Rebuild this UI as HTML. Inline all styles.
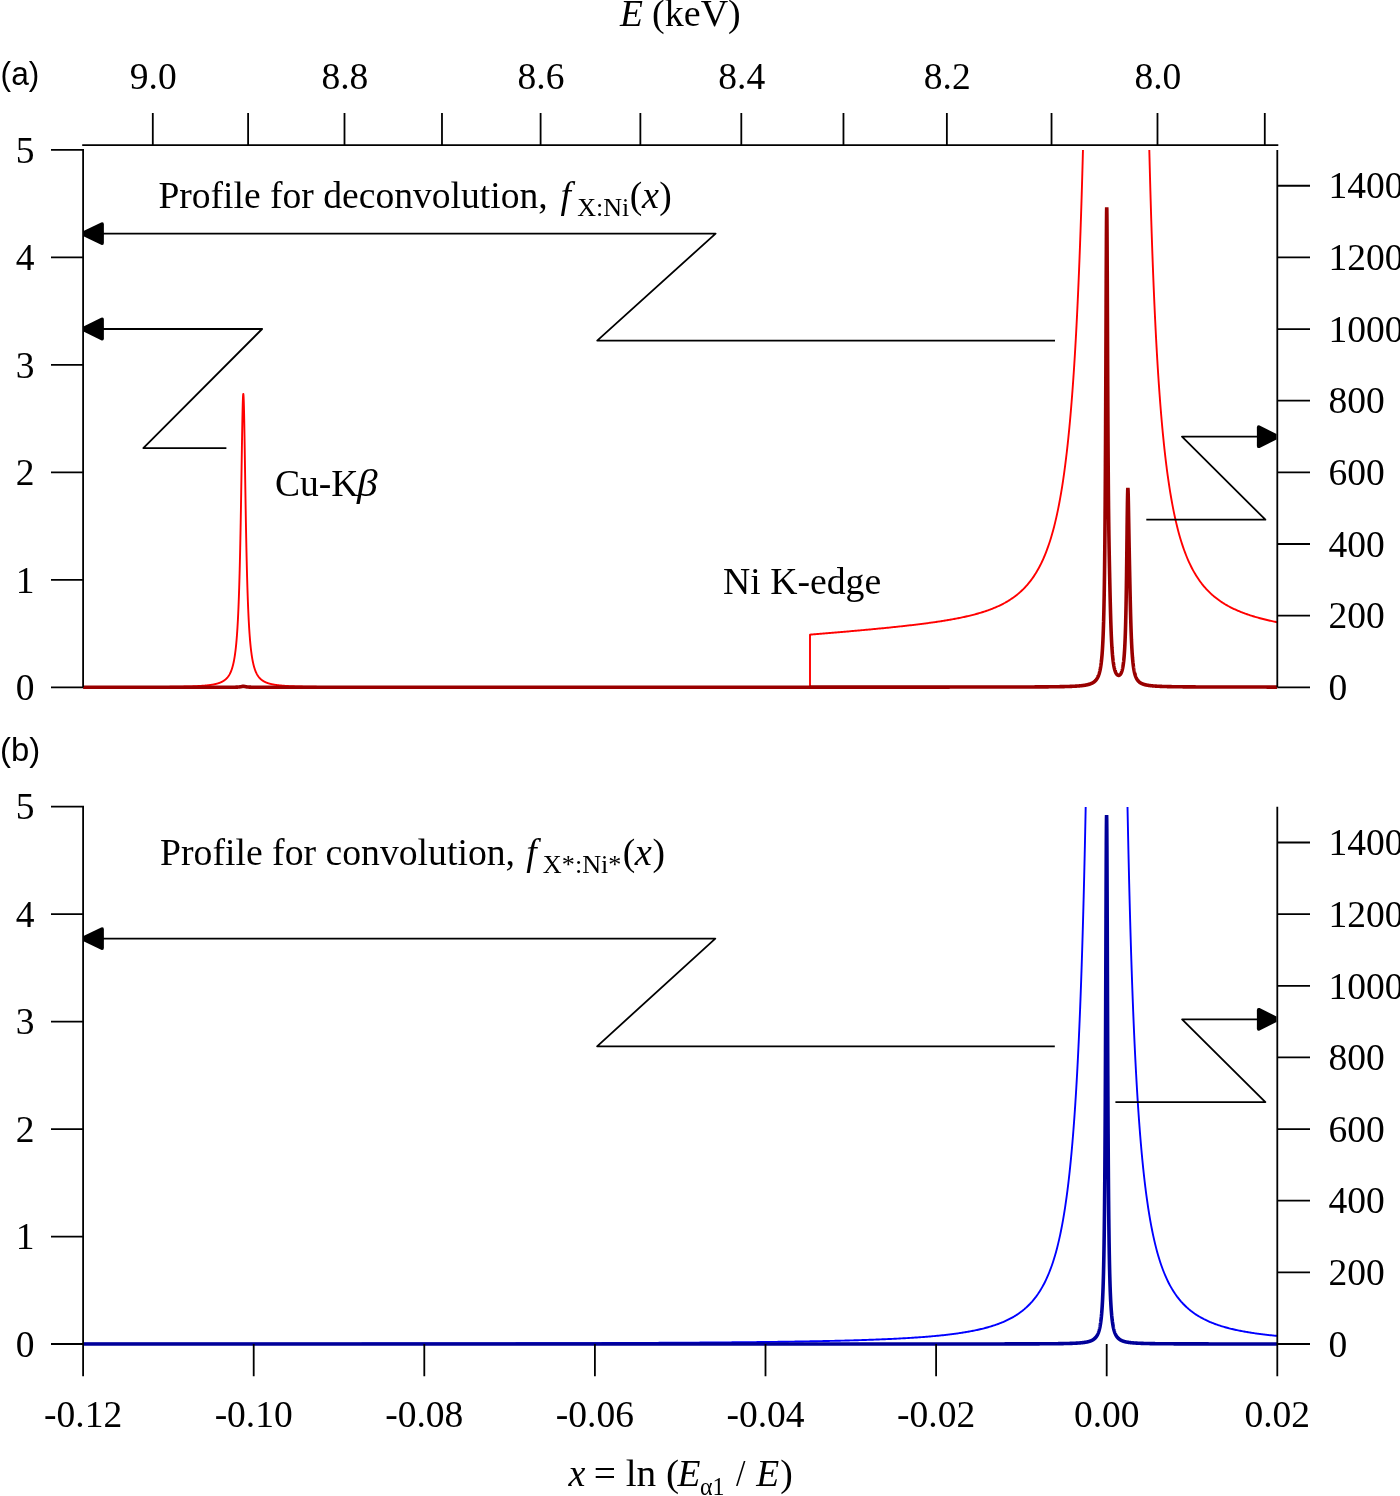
<!DOCTYPE html><html><head><meta charset="utf-8"><style>html,body{margin:0;padding:0;background:#fff;}svg{display:block;will-change:transform;}</style></head><body>
<svg width="1400" height="1496" viewBox="0 0 1400 1496">
<rect width="1400" height="1496" fill="#fff"/>
<defs><clipPath id="ca"><rect x="0" y="150.0" width="1400" height="600"/></clipPath><clipPath id="cb"><rect x="0" y="806.9" width="1400" height="600"/></clipPath></defs>
<g clip-path="url(#ca)"><polyline points="83.10,687.20 84.10,687.20 85.10,687.20 86.10,687.20 87.10,687.20 88.10,687.19 89.10,687.19 90.10,687.19 91.10,687.19 92.10,687.19 93.10,687.19 94.10,687.19 95.10,687.18 96.10,687.18 97.10,687.18 98.10,687.18 99.10,687.18 100.10,687.18 101.10,687.17 102.10,687.17 103.10,687.17 104.10,687.17 105.10,687.17 106.10,687.16 107.10,687.16 108.10,687.16 109.10,687.16 110.10,687.16 111.10,687.15 112.10,687.15 113.10,687.15 114.10,687.15 115.10,687.14 116.10,687.14 117.10,687.14 118.10,687.14 119.10,687.13 120.10,687.13 121.10,687.13 122.10,687.13 123.10,687.12 124.10,687.12 125.10,687.12 126.10,687.11 127.10,687.11 128.10,687.11 129.10,687.10 130.10,687.10 131.10,687.10 132.10,687.09 133.10,687.09 134.10,687.09 135.10,687.08 136.10,687.08 137.10,687.07 138.10,687.07 139.10,687.07 140.10,687.06 141.10,687.06 142.10,687.05 143.10,687.05 144.10,687.04 145.10,687.04 146.10,687.03 147.10,687.02 148.10,687.02 149.10,687.01 150.10,687.01 151.10,687.00 152.10,686.99 153.10,686.99 154.10,686.98 155.10,686.97 156.10,686.96 157.10,686.96 158.10,686.95 159.10,686.94 160.10,686.93 161.10,686.92 162.10,686.91 163.10,686.90 164.10,686.89 165.10,686.88 166.10,686.87 167.10,686.86 168.10,686.85 169.10,686.84 170.10,686.82 171.10,686.81 172.10,686.80 173.10,686.78 174.10,686.77 175.10,686.75 176.10,686.74 177.10,686.72 178.10,686.70 179.10,686.68 180.10,686.66 181.10,686.64 182.10,686.62 183.10,686.60 184.10,686.57 185.10,686.55 186.10,686.52 187.10,686.49 188.10,686.46 189.10,686.43 190.10,686.40 191.10,686.37 192.10,686.33 193.10,686.29 194.10,686.25 195.10,686.20 196.10,686.16 197.10,686.11 198.10,686.06 199.10,686.00 200.10,685.94 201.10,685.87 202.10,685.80 203.10,685.73 203.30,685.71 203.40,685.70 203.50,685.70 203.60,685.69 203.70,685.68 203.80,685.67 203.90,685.66 204.00,685.66 204.10,685.65 204.20,685.64 204.30,685.63 204.40,685.62 204.50,685.61 204.60,685.60 204.70,685.60 204.80,685.59 204.90,685.58 205.00,685.57 205.10,685.56 205.20,685.55 205.30,685.54 205.40,685.53 205.50,685.52 205.60,685.51 205.70,685.50 205.80,685.50 205.90,685.49 206.00,685.48 206.10,685.47 206.20,685.46 206.30,685.45 206.40,685.44 206.50,685.43 206.60,685.42 206.70,685.41 206.80,685.40 206.90,685.39 207.00,685.37 207.10,685.36 207.20,685.35 207.30,685.34 207.40,685.33 207.50,685.32 207.60,685.31 207.70,685.30 207.80,685.29 207.90,685.28 208.00,685.27 208.10,685.25 208.20,685.24 208.30,685.23 208.40,685.22 208.50,685.21 208.60,685.19 208.70,685.18 208.80,685.17 208.90,685.16 209.00,685.15 209.10,685.13 209.20,685.12 209.30,685.11 209.40,685.09 209.50,685.08 209.60,685.07 209.70,685.06 209.80,685.04 209.90,685.03 210.00,685.02 210.10,685.00 210.20,684.99 210.30,684.97 210.40,684.96 210.50,684.95 210.60,684.93 210.70,684.92 210.80,684.90 210.90,684.89 211.00,684.87 211.10,684.86 211.20,684.84 211.30,684.83 211.40,684.81 211.50,684.80 211.60,684.78 211.70,684.76 211.80,684.75 211.90,684.73 212.00,684.72 212.10,684.70 212.20,684.68 212.30,684.67 212.40,684.65 212.50,684.63 212.60,684.62 212.70,684.60 212.80,684.58 212.90,684.56 213.00,684.54 213.10,684.53 213.20,684.51 213.30,684.49 213.40,684.47 213.50,684.45 213.60,684.43 213.70,684.41 213.80,684.39 213.90,684.38 214.00,684.36 214.10,684.34 214.20,684.32 214.30,684.29 214.40,684.27 214.50,684.25 214.60,684.23 214.70,684.21 214.80,684.19 214.90,684.17 215.00,684.15 215.10,684.12 215.20,684.10 215.30,684.08 215.40,684.06 215.50,684.03 215.60,684.01 215.70,683.99 215.80,683.96 215.90,683.94 216.00,683.91 216.10,683.89 216.20,683.86 216.30,683.84 216.40,683.81 216.50,683.79 216.60,683.76 216.70,683.73 216.80,683.71 216.90,683.68 217.00,683.65 217.10,683.63 217.20,683.60 217.30,683.57 217.40,683.54 217.50,683.51 217.60,683.48 217.70,683.45 217.80,683.42 217.90,683.39 218.00,683.36 218.10,683.33 218.20,683.30 218.30,683.27 218.40,683.24 218.50,683.21 218.60,683.17 218.70,683.14 218.80,683.11 218.90,683.07 219.00,683.04 219.10,683.00 219.20,682.97 219.30,682.93 219.40,682.90 219.50,682.86 219.60,682.82 219.70,682.79 219.80,682.75 219.90,682.71 220.00,682.67 220.10,682.63 220.20,682.59 220.30,682.55 220.40,682.51 220.50,682.47 220.60,682.43 220.70,682.38 220.80,682.34 220.90,682.30 221.00,682.25 221.10,682.21 221.20,682.16 221.30,682.12 221.40,682.07 221.50,682.02 221.60,681.98 221.70,681.93 221.80,681.88 221.90,681.83 222.00,681.78 222.10,681.73 222.20,681.67 222.30,681.62 222.40,681.57 222.50,681.51 222.60,681.46 222.70,681.40 222.80,681.35 222.90,681.29 223.00,681.23 223.10,681.17 223.20,681.11 223.30,681.05 223.40,680.99 223.50,680.93 223.60,680.86 223.70,680.80 223.80,680.73 223.90,680.67 224.00,680.60 224.10,680.53 224.20,680.46 224.30,680.39 224.40,680.32 224.50,680.25 224.60,680.18 224.70,680.10 224.80,680.02 224.90,679.95 225.00,679.87 225.10,679.79 225.20,679.71 225.30,679.63 225.40,679.54 225.50,679.46 225.60,679.37 225.70,679.28 225.80,679.19 225.90,679.10 226.00,679.01 226.10,678.92 226.20,678.82 226.30,678.72 226.40,678.62 226.50,678.52 226.60,678.42 226.70,678.32 226.80,678.21 226.90,678.10 227.00,677.99 227.10,677.88 227.20,677.77 227.30,677.65 227.40,677.54 227.50,677.42 227.60,677.29 227.70,677.17 227.80,677.04 227.90,676.91 228.00,676.78 228.10,676.65 228.20,676.51 228.30,676.37 228.40,676.23 228.50,676.09 228.60,675.94 228.70,675.79 228.80,675.64 228.90,675.48 229.00,675.32 229.10,675.16 229.20,674.99 229.30,674.83 229.40,674.65 229.50,674.48 229.60,674.30 229.70,674.11 229.80,673.93 229.90,673.74 230.00,673.54 230.10,673.34 230.20,673.14 230.30,672.93 230.40,672.72 230.50,672.50 230.60,672.28 230.70,672.05 230.80,671.82 230.90,671.58 231.00,671.34 231.10,671.09 231.20,670.84 231.30,670.58 231.40,670.31 231.50,670.04 231.60,669.76 231.70,669.48 231.80,669.18 231.90,668.88 232.00,668.58 232.10,668.26 232.20,667.94 232.30,667.61 232.40,667.27 232.50,666.93 232.60,666.57 232.70,666.21 232.80,665.83 232.90,665.45 233.00,665.06 233.10,664.65 233.20,664.24 233.30,663.81 233.40,663.37 233.50,662.92 233.60,662.46 233.70,661.98 233.80,661.49 233.90,660.99 234.00,660.48 234.10,659.94 234.20,659.40 234.30,658.83 234.40,658.25 234.50,657.66 234.60,657.04 234.70,656.41 234.80,655.76 234.90,655.08 235.00,654.39 235.10,653.68 235.20,652.94 235.30,652.18 235.40,651.39 235.50,650.58 235.60,649.74 235.70,648.88 235.80,647.99 235.90,647.06 236.00,646.11 236.10,645.12 236.20,644.10 236.30,643.05 236.40,641.95 236.50,640.82 236.60,639.65 236.70,638.44 236.80,637.18 236.90,635.88 237.00,634.53 237.10,633.13 237.20,631.68 237.30,630.18 237.40,628.62 237.50,626.99 237.60,625.31 237.70,623.56 237.80,621.75 237.90,619.86 238.00,617.90 238.10,615.86 238.20,613.74 238.30,611.53 238.40,609.24 238.50,606.86 238.60,604.37 238.70,601.79 238.80,599.10 238.90,596.31 239.00,593.40 239.10,590.37 239.20,587.21 239.30,583.93 239.40,580.52 239.50,576.96 239.60,573.27 239.70,569.42 239.80,565.43 239.90,561.28 240.00,556.97 240.10,552.50 240.20,547.86 240.30,543.06 240.40,538.08 240.50,532.94 240.60,527.63 240.70,522.16 240.80,516.53 240.90,510.74 241.00,504.81 241.10,498.75 241.20,492.56 241.30,486.28 241.40,479.91 241.50,473.48 241.60,467.03 241.70,460.57 241.80,454.16 241.90,447.82 242.00,441.59 242.10,435.54 242.20,429.70 242.30,424.12 242.40,418.86 242.50,413.98 242.60,409.52 242.70,405.54 242.80,402.07 242.90,399.18 243.00,396.88 243.10,395.22 243.20,394.22 243.30,393.88 243.40,394.22 243.50,395.22 243.60,396.88 243.70,399.18 243.80,402.07 243.90,405.54 244.00,409.52 244.10,413.98 244.20,418.86 244.30,424.12 244.40,429.70 244.50,435.54 244.60,441.59 244.70,447.82 244.80,454.16 244.90,460.57 245.00,467.03 245.10,473.48 245.20,479.91 245.30,486.28 245.40,492.56 245.50,498.75 245.60,504.81 245.70,510.74 245.80,516.53 245.90,522.16 246.00,527.63 246.10,532.94 246.20,538.08 246.30,543.06 246.40,547.86 246.50,552.50 246.60,556.97 246.70,561.28 246.80,565.43 246.90,569.42 247.00,573.27 247.10,576.96 247.20,580.52 247.30,583.93 247.40,587.21 247.50,590.37 247.60,593.40 247.70,596.31 247.80,599.10 247.90,601.79 248.00,604.37 248.10,606.86 248.20,609.24 248.30,611.53 248.40,613.74 248.50,615.86 248.60,617.90 248.70,619.86 248.80,621.75 248.90,623.56 249.00,625.31 249.10,626.99 249.20,628.62 249.30,630.18 249.40,631.68 249.50,633.13 249.60,634.53 249.70,635.88 249.80,637.18 249.90,638.44 250.00,639.65 250.10,640.82 250.20,641.95 250.30,643.05 250.40,644.10 250.50,645.12 250.60,646.11 250.70,647.06 250.80,647.99 250.90,648.88 251.00,649.74 251.10,650.58 251.20,651.39 251.30,652.18 251.40,652.94 251.50,653.68 251.60,654.39 251.70,655.08 251.80,655.76 251.90,656.41 252.00,657.04 252.10,657.66 252.20,658.25 252.30,658.83 252.40,659.40 252.50,659.94 252.60,660.48 252.70,660.99 252.80,661.49 252.90,661.98 253.00,662.46 253.10,662.92 253.20,663.37 253.30,663.81 253.40,664.24 253.50,664.65 253.60,665.06 253.70,665.45 253.80,665.83 253.90,666.21 254.00,666.57 254.10,666.93 254.20,667.27 254.30,667.61 254.40,667.94 254.50,668.26 254.60,668.58 254.70,668.88 254.80,669.18 254.90,669.48 255.00,669.76 255.10,670.04 255.20,670.31 255.30,670.58 255.40,670.84 255.50,671.09 255.60,671.34 255.70,671.58 255.80,671.82 255.90,672.05 256.00,672.28 256.10,672.50 256.20,672.72 256.30,672.93 256.40,673.14 256.50,673.34 256.60,673.54 256.70,673.74 256.80,673.93 256.90,674.11 257.00,674.30 257.10,674.48 257.20,674.65 257.30,674.83 257.40,674.99 257.50,675.16 257.60,675.32 257.70,675.48 257.80,675.64 257.90,675.79 258.00,675.94 258.10,676.09 258.20,676.23 258.30,676.37 258.40,676.51 258.50,676.65 258.60,676.78 258.70,676.91 258.80,677.04 258.90,677.17 259.00,677.29 259.10,677.42 259.20,677.54 259.30,677.65 259.40,677.77 259.50,677.88 259.60,677.99 259.70,678.10 259.80,678.21 259.90,678.32 260.00,678.42 260.10,678.52 260.20,678.62 260.30,678.72 260.40,678.82 260.50,678.92 260.60,679.01 260.70,679.10 260.80,679.19 260.90,679.28 261.00,679.37 261.10,679.46 261.20,679.54 261.30,679.63 261.40,679.71 261.50,679.79 261.60,679.87 261.70,679.95 261.80,680.02 261.90,680.10 262.00,680.18 262.10,680.25 262.20,680.32 262.30,680.39 262.40,680.46 262.50,680.53 262.60,680.60 262.70,680.67 262.80,680.73 262.90,680.80 263.00,680.86 263.10,680.93 263.20,680.99 263.30,681.05 263.40,681.11 263.50,681.17 263.60,681.23 263.70,681.29 263.80,681.35 263.90,681.40 264.00,681.46 264.10,681.51 264.20,681.57 264.30,681.62 264.40,681.67 264.50,681.73 264.60,681.78 264.70,681.83 264.80,681.88 264.90,681.93 265.00,681.98 265.10,682.02 265.20,682.07 265.30,682.12 265.40,682.16 265.50,682.21 265.60,682.25 265.70,682.30 265.80,682.34 265.90,682.38 266.00,682.43 266.10,682.47 266.20,682.51 266.30,682.55 266.40,682.59 266.50,682.63 266.60,682.67 266.70,682.71 266.80,682.75 266.90,682.79 267.00,682.82 267.10,682.86 267.20,682.90 267.30,682.93 267.40,682.97 267.50,683.00 267.60,683.04 267.70,683.07 267.80,683.11 267.90,683.14 268.00,683.17 268.10,683.21 268.20,683.24 268.30,683.27 268.40,683.30 268.50,683.33 268.60,683.36 268.70,683.39 268.80,683.42 268.90,683.45 269.00,683.48 269.10,683.51 269.20,683.54 269.30,683.57 269.40,683.60 269.50,683.63 269.60,683.65 269.70,683.68 269.80,683.71 269.90,683.73 270.00,683.76 270.10,683.79 270.20,683.81 270.30,683.84 270.40,683.86 270.50,683.89 270.60,683.91 270.70,683.94 270.80,683.96 270.90,683.99 271.00,684.01 271.10,684.03 271.20,684.06 271.30,684.08 271.40,684.10 271.50,684.12 271.60,684.15 271.70,684.17 271.80,684.19 271.90,684.21 272.00,684.23 272.10,684.25 272.20,684.27 272.30,684.29 272.40,684.32 272.50,684.34 272.60,684.36 272.70,684.38 272.80,684.39 272.90,684.41 273.00,684.43 273.10,684.45 273.20,684.47 273.30,684.49 273.40,684.51 273.50,684.53 273.60,684.54 273.70,684.56 273.80,684.58 273.90,684.60 274.00,684.62 274.10,684.63 274.20,684.65 274.30,684.67 274.40,684.68 274.50,684.70 274.60,684.72 274.70,684.73 274.80,684.75 274.90,684.76 275.00,684.78 275.10,684.80 275.20,684.81 275.30,684.83 275.40,684.84 275.50,684.86 275.60,684.87 275.70,684.89 275.80,684.90 275.90,684.92 276.00,684.93 276.10,684.95 276.20,684.96 276.30,684.97 276.40,684.99 276.50,685.00 276.60,685.02 276.70,685.03 276.80,685.04 276.90,685.06 277.00,685.07 277.10,685.08 277.20,685.09 277.30,685.11 277.40,685.12 277.50,685.13 277.60,685.15 277.70,685.16 277.80,685.17 277.90,685.18 278.00,685.19 278.10,685.21 278.20,685.22 278.30,685.23 278.40,685.24 278.50,685.25 278.60,685.27 278.70,685.28 278.80,685.29 278.90,685.30 279.00,685.31 279.10,685.32 279.20,685.33 279.30,685.34 279.40,685.35 279.50,685.36 279.60,685.37 279.70,685.39 279.80,685.40 279.90,685.41 280.00,685.42 280.10,685.43 280.20,685.44 280.30,685.45 280.40,685.46 280.50,685.47 280.60,685.48 280.70,685.49 280.80,685.50 280.90,685.50 281.00,685.51 281.10,685.52 281.20,685.53 281.30,685.54 281.40,685.55 281.50,685.56 281.60,685.57 281.70,685.58 281.80,685.59 281.90,685.60 282.00,685.60 282.10,685.61 282.20,685.62 282.30,685.63 282.40,685.64 282.50,685.65 282.60,685.66 282.70,685.66 282.80,685.67 282.90,685.68 283.00,685.69 283.10,685.70 283.20,685.70 284.10,685.77 285.10,685.85 286.10,685.91 287.10,685.97 288.10,686.03 289.10,686.09 290.10,686.14 291.10,686.19 292.10,686.23 293.10,686.27 294.10,686.31 295.10,686.35 296.10,686.39 297.10,686.42 298.10,686.45 299.10,686.48 300.10,686.51 301.10,686.54 302.10,686.56 303.10,686.59 304.10,686.61 305.10,686.63 306.10,686.65 307.10,686.67 308.10,686.69 309.10,686.71 310.10,686.73 311.10,686.75 312.10,686.76 313.10,686.78 314.10,686.79 315.10,686.81 316.10,686.82 317.10,686.83 318.10,686.84 319.10,686.86 320.10,686.87 321.10,686.88 322.10,686.89 323.10,686.90 324.10,686.91 325.10,686.92 326.10,686.93 327.10,686.94 328.10,686.95 329.10,686.95 330.10,686.96 331.10,686.97 332.10,686.98 333.10,686.98 334.10,686.99 335.10,687.00 336.10,687.00 337.10,687.01 338.10,687.02 339.10,687.02 340.10,687.03 341.10,687.03 342.10,687.04 343.10,687.04 344.10,687.05 345.10,687.05 346.10,687.06 347.10,687.06 348.10,687.07 349.10,687.07 350.10,687.08 351.10,687.08 352.10,687.08 353.10,687.09 354.10,687.09 355.10,687.10 356.10,687.10 357.10,687.10 358.10,687.11 359.10,687.11 360.10,687.11 361.10,687.12 362.10,687.12 363.10,687.12 364.10,687.13 365.10,687.13 366.10,687.13 367.10,687.13 368.10,687.14 369.10,687.14 370.10,687.14 371.10,687.14 372.10,687.15 373.10,687.15 374.10,687.15 375.10,687.15 376.10,687.16 377.10,687.16 378.10,687.16 379.10,687.16 380.10,687.16 381.10,687.17 382.10,687.17 383.10,687.17 384.10,687.17 385.10,687.17 386.10,687.17 387.10,687.18 388.10,687.18 389.10,687.18 390.10,687.18 391.10,687.18 392.10,687.18 393.10,687.19 394.10,687.19 395.10,687.19 396.10,687.19 397.10,687.19 398.10,687.19 399.10,687.19 400.10,687.20 401.10,687.20 402.10,687.20 403.10,687.20 404.10,687.20 405.10,687.20 406.10,687.20 407.10,687.20 408.10,687.21 409.10,687.21 410.10,687.21 411.10,687.21 412.10,687.21 413.10,687.21 414.10,687.21 415.10,687.21 416.10,687.21 417.10,687.22 418.10,687.22 419.10,687.22 420.10,687.22 421.10,687.22 422.10,687.22 423.10,687.22 424.10,687.22 425.10,687.22 426.10,687.22 427.10,687.22 428.10,687.23 429.10,687.23 430.10,687.23 431.10,687.23 432.10,687.23 433.10,687.23 434.10,687.23 435.10,687.23 436.10,687.23 437.10,687.23 438.10,687.23 439.10,687.23 440.10,687.23 441.10,687.23 442.10,687.24 443.10,687.24 444.10,687.24 445.10,687.24 446.10,687.24 447.10,687.24 448.10,687.24 449.10,687.24 450.10,687.24 451.10,687.24 452.10,687.24 453.10,687.24 454.10,687.24 455.10,687.24 456.10,687.24 457.10,687.24 458.10,687.24 459.10,687.25 460.10,687.25 461.10,687.25 462.10,687.25 463.10,687.25 464.10,687.25 465.10,687.25 466.10,687.25 467.10,687.25 468.10,687.25 469.10,687.25 470.10,687.25 471.10,687.25 472.10,687.25 473.10,687.25 474.10,687.25 475.10,687.25 476.10,687.25 477.10,687.25 478.10,687.25 479.10,687.25 480.10,687.25 481.10,687.25 482.10,687.26 483.10,687.26 484.10,687.26 485.10,687.26 486.10,687.26 487.10,687.26 488.10,687.26 489.10,687.26 490.10,687.26 491.10,687.26 492.10,687.26 493.10,687.26 494.10,687.26 495.10,687.26 496.10,687.26 497.10,687.26 498.10,687.26 499.10,687.26 500.10,687.26 501.10,687.26 502.10,687.26 503.10,687.26 504.10,687.26 505.10,687.26 506.10,687.26 507.10,687.26 508.10,687.26 509.10,687.26 510.10,687.26 511.10,687.26 512.10,687.26 513.10,687.26 514.10,687.27 515.10,687.27 516.10,687.27 517.10,687.27 518.10,687.27 519.10,687.27 520.10,687.27 521.10,687.27 522.10,687.27 523.10,687.27 524.10,687.27 525.10,687.27 526.10,687.27 527.10,687.27 528.10,687.27 529.10,687.27 530.10,687.27 531.10,687.27 532.10,687.27 533.10,687.27 534.10,687.27 535.10,687.27 536.10,687.27 537.10,687.27 538.10,687.27 539.10,687.27 540.10,687.27 541.10,687.27 542.10,687.27 543.10,687.27 544.10,687.27 545.10,687.27 546.10,687.27 547.10,687.27 548.10,687.27 549.10,687.27 550.10,687.27 551.10,687.27 552.10,687.27 553.10,687.27 554.10,687.27 555.10,687.27 556.10,687.27 557.10,687.27 558.10,687.27 559.10,687.27 560.10,687.27 561.10,687.27 562.10,687.27 563.10,687.28 564.10,687.28 565.10,687.28 566.10,687.28 567.10,687.28 568.10,687.28 569.10,687.28 570.10,687.28 571.10,687.28 572.10,687.28 573.10,687.28 574.10,687.28 575.10,687.28 576.10,687.28 577.10,687.28 578.10,687.28 579.10,687.28 580.10,687.28 581.10,687.28 582.10,687.28 583.10,687.28 584.10,687.28 585.10,687.28 586.10,687.28 587.10,687.28 588.10,687.28 589.10,687.28 590.10,687.28 591.10,687.28 592.10,687.28 593.10,687.28 594.10,687.28 595.10,687.28 596.10,687.28 597.10,687.28 598.10,687.28 599.10,687.28 600.10,687.28 601.10,687.28 602.10,687.28 603.10,687.28 604.10,687.28 605.10,687.28 606.10,687.28 607.10,687.28 608.10,687.28 609.10,687.28 610.10,687.28 611.10,687.28 612.10,687.28 613.10,687.28 614.10,687.28 615.10,687.28 616.10,687.28 617.10,687.28 618.10,687.28 619.10,687.28 620.10,687.28 621.10,687.28 622.10,687.28 623.10,687.28 624.10,687.28 625.10,687.28 626.10,687.28 627.10,687.28 628.10,687.28 629.10,687.28 630.10,687.28 631.10,687.28 632.10,687.28 633.10,687.28 634.10,687.28 635.10,687.28 636.10,687.28 637.10,687.28 638.10,687.28 639.10,687.28 640.10,687.28 641.10,687.28 642.10,687.28 643.10,687.28 644.10,687.28 645.10,687.28 646.10,687.28 647.10,687.28 648.10,687.28 649.10,687.28 650.10,687.28 651.10,687.28 652.10,687.28 653.10,687.28 654.10,687.28 655.10,687.28 656.10,687.29 657.10,687.29 658.10,687.29 659.10,687.29 660.10,687.29 661.10,687.29 662.10,687.29 663.10,687.29 664.10,687.29 665.10,687.29 666.10,687.29 667.10,687.29 668.10,687.29 669.10,687.29 670.10,687.29 671.10,687.29 672.10,687.29 673.10,687.29 674.10,687.29 675.10,687.29 676.10,687.29 677.10,687.29 678.10,687.29 679.10,687.29 680.10,687.29 681.10,687.29 682.10,687.29 683.10,687.29 684.10,687.29 685.10,687.29 686.10,687.29 687.10,687.29 688.10,687.29 689.10,687.29 690.10,687.29 691.10,687.29 692.10,687.29 693.10,687.29 694.10,687.29 695.10,687.29 696.10,687.29 697.10,687.29 698.10,687.29 699.10,687.29 700.10,687.29 701.10,687.29 702.10,687.29 703.10,687.29 704.10,687.29 705.10,687.29 706.10,687.29 707.10,687.29 708.10,687.29 709.10,687.29 710.10,687.29 711.10,687.29 712.10,687.29 713.10,687.29 714.10,687.29 715.10,687.29 716.10,687.29 717.10,687.29 718.10,687.29 719.10,687.29 720.10,687.29 721.10,687.29 722.10,687.29 723.10,687.29 724.10,687.29 725.10,687.29 726.10,687.29 727.10,687.29 728.10,687.29 729.10,687.29 730.10,687.29 731.10,687.29 732.10,687.29 733.10,687.29 734.10,687.29 735.10,687.29 736.10,687.29 737.10,687.29 738.10,687.29 739.10,687.29 740.10,687.29 741.10,687.29 742.10,687.29 743.10,687.29 744.10,687.29 745.10,687.29 746.10,687.29 747.10,687.29 748.10,687.29 749.10,687.29 750.10,687.29 751.10,687.29 752.10,687.29 753.10,687.29 754.10,687.29 755.10,687.29 756.10,687.29 757.10,687.29 758.10,687.29 759.10,687.29 760.10,687.29 761.10,687.29 762.10,687.29 763.10,687.29 764.10,687.29 765.10,687.29 766.10,687.29 767.10,687.29 768.10,687.29 769.10,687.29 770.10,687.29 771.10,687.29 772.10,687.29 773.10,687.29 774.10,687.29 775.10,687.29 776.10,687.29 777.10,687.29 778.10,687.29 779.10,687.29 780.10,687.29 781.10,687.29 782.10,687.29 783.10,687.29 784.10,687.29 785.10,687.29 786.10,687.29 787.10,687.29 788.10,687.29 789.10,687.29 790.10,687.29 791.10,687.29 792.10,687.29 793.10,687.29 794.10,687.29 795.10,687.29 796.10,687.29 797.10,687.29 798.10,687.29 799.10,687.29 800.10,687.29 801.10,687.29 802.10,687.29 803.10,687.29 804.10,687.29 805.10,687.29 806.10,687.29 807.10,687.29 808.10,687.29 809.10,687.29 810.00,687.29 810.00,634.65 810.10,634.65 811.10,634.56 812.10,634.48 813.10,634.40 814.10,634.32 815.10,634.23 816.10,634.15 817.10,634.07 818.10,633.99 819.10,633.90 820.10,633.82 821.10,633.74 822.10,633.65 823.10,633.57 824.10,633.48 825.10,633.40 826.10,633.32 827.10,633.23 828.10,633.15 829.10,633.06 830.10,632.98 831.10,632.89 832.10,632.81 833.10,632.72 834.10,632.64 835.10,632.55 836.10,632.47 837.10,632.38 838.10,632.30 839.10,632.21 840.10,632.12 841.10,632.04 842.10,631.95 843.10,631.86 844.10,631.78 845.10,631.69 846.10,631.60 847.10,631.51 848.10,631.43 849.10,631.34 850.10,631.25 851.10,631.16 852.10,631.07 853.10,630.98 854.10,630.90 855.10,630.81 856.10,630.72 857.10,630.63 858.10,630.54 859.10,630.45 860.10,630.36 861.10,630.26 862.10,630.17 863.10,630.08 864.10,629.99 865.10,629.90 866.10,629.81 867.10,629.71 868.10,629.62 869.10,629.53 870.10,629.43 871.10,629.34 872.10,629.24 873.10,629.15 874.10,629.05 875.10,628.96 876.10,628.86 877.10,628.77 878.10,628.67 879.10,628.57 880.10,628.48 881.10,628.38 882.10,628.28 883.10,628.18 884.10,628.08 885.10,627.98 886.10,627.88 887.10,627.78 888.10,627.68 889.10,627.58 890.10,627.48 891.10,627.38 892.10,627.27 893.10,627.17 894.10,627.07 895.10,626.96 896.10,626.86 897.10,626.75 898.10,626.64 899.10,626.54 900.10,626.43 901.10,626.32 902.10,626.21 903.10,626.10 904.10,625.99 905.10,625.88 906.10,625.77 907.10,625.65 908.10,625.54 909.10,625.43 910.10,625.31 911.10,625.19 912.10,625.08 913.10,624.96 914.10,624.84 915.10,624.72 916.10,624.60 917.10,624.48 918.10,624.36 919.10,624.23 920.10,624.11 921.10,623.98 922.10,623.86 923.10,623.73 924.10,623.60 925.10,623.47 926.10,623.34 927.10,623.20 928.10,623.07 929.10,622.93 930.10,622.80 931.10,622.66 932.10,622.52 933.10,622.38 934.10,622.23 935.10,622.09 936.10,621.94 937.10,621.80 938.10,621.65 939.10,621.49 940.10,621.34 941.10,621.19 942.10,621.03 943.10,620.87 944.10,620.71 945.10,620.55 946.10,620.38 947.10,620.21 948.10,620.05 949.10,619.87 950.10,619.70 951.10,619.52 952.10,619.34 953.10,619.16 954.10,618.98 955.10,618.79 956.10,618.60 957.10,618.40 958.10,618.21 959.10,618.01 960.10,617.81 961.10,617.60 962.10,617.39 963.10,617.18 964.10,616.96 965.10,616.74 966.10,616.52 967.10,616.29 968.10,616.06 969.10,615.82 970.10,615.58 971.10,615.33 972.10,615.08 973.10,614.83 974.10,614.57 975.10,614.30 976.10,614.03 977.10,613.75 978.10,613.47 979.10,613.18 980.10,612.89 981.10,612.59 982.10,612.28 983.10,611.97 984.10,611.65 985.10,611.32 986.10,610.98 987.10,610.64 988.10,610.29 989.10,609.93 990.10,609.56 991.10,609.18 992.10,608.79 993.10,608.40 994.10,607.99 995.10,607.57 996.10,607.14 997.10,606.70 998.10,606.25 999.10,605.79 1000.10,605.31 1001.10,604.82 1002.10,604.32 1003.10,603.80 1004.10,603.27 1005.10,602.73 1006.10,602.16 1007.10,601.58 1008.10,600.99 1009.10,600.37 1010.10,599.74 1011.10,599.08 1012.10,598.41 1013.10,597.71 1014.10,596.99 1015.10,596.25 1016.10,595.48 1017.10,594.69 1018.10,593.87 1019.10,593.03 1020.10,592.15 1021.10,591.24 1022.10,590.30 1023.10,589.33 1024.10,588.32 1025.10,587.28 1026.10,586.19 1027.10,585.07 1028.10,583.90 1029.10,582.69 1030.10,581.43 1031.10,580.11 1032.10,578.75 1033.10,577.33 1034.10,575.85 1035.10,574.31 1036.10,572.71 1037.10,571.03 1038.10,569.28 1039.10,567.46 1040.10,565.55 1041.10,563.55 1042.10,561.47 1043.10,559.28 1044.10,557.00 1045.10,554.60 1046.10,552.08 1047.10,549.44 1048.10,546.66 1049.10,543.74 1050.10,540.67 1051.10,537.44 1052.10,534.03 1053.10,530.43 1054.10,526.64 1055.10,522.62 1056.10,518.37 1057.10,513.88 1058.10,509.11 1059.10,504.04 1060.10,498.66 1061.10,492.94 1062.10,486.84 1063.10,480.33 1064.10,473.38 1065.10,465.94 1066.10,457.98 1066.72,452.75 1066.82,451.88 1066.92,451.01 1067.02,450.13 1067.10,449.42 1067.12,449.25 1067.22,448.36 1067.32,447.46 1067.42,446.55 1067.52,445.64 1067.62,444.73 1067.72,443.80 1067.82,442.87 1067.92,441.94 1068.02,440.99 1068.10,440.23 1068.12,440.04 1068.22,439.08 1068.32,438.11 1068.42,437.14 1068.52,436.16 1068.62,435.17 1068.72,434.18 1068.82,433.18 1068.92,432.17 1069.02,431.15 1069.10,430.33 1069.12,430.12 1069.22,429.09 1069.32,428.05 1069.42,427.00 1069.52,425.94 1069.62,424.88 1069.72,423.80 1069.82,422.72 1069.92,421.63 1070.02,420.53 1070.10,419.64 1070.12,419.42 1070.22,418.31 1070.32,417.18 1070.42,416.05 1070.52,414.90 1070.62,413.75 1070.72,412.59 1070.82,411.42 1070.92,410.24 1071.02,409.05 1071.10,408.09 1071.12,407.85 1071.22,406.64 1071.32,405.42 1071.42,404.20 1071.52,402.96 1071.62,401.71 1071.72,400.45 1071.82,399.18 1071.92,397.90 1072.02,396.61 1072.10,395.57 1072.12,395.31 1072.22,394.00 1072.32,392.68 1072.42,391.35 1072.52,390.00 1072.62,388.65 1072.72,387.28 1072.82,385.90 1072.92,384.51 1073.02,383.11 1073.10,381.98 1073.12,381.70 1073.22,380.27 1073.32,378.84 1073.42,377.39 1073.52,375.92 1073.62,374.45 1073.72,372.96 1073.82,371.46 1073.92,369.95 1074.02,368.42 1074.10,367.19 1074.12,366.88 1074.22,365.32 1074.32,363.76 1074.42,362.17 1074.52,360.58 1074.62,358.97 1074.72,357.35 1074.82,355.71 1074.92,354.05 1075.02,352.39 1075.10,351.04 1075.12,350.70 1075.22,349.00 1075.32,347.29 1075.42,345.56 1075.52,343.82 1075.62,342.05 1075.72,340.28 1075.82,338.48 1075.92,336.67 1076.02,334.85 1076.10,333.37 1076.12,333.00 1076.22,331.14 1076.32,329.26 1076.42,327.36 1076.52,325.45 1076.62,323.52 1076.72,321.57 1076.82,319.60 1076.92,317.61 1077.02,315.60 1077.10,313.98 1077.12,313.57 1077.22,311.53 1077.32,309.46 1077.42,307.38 1077.52,305.27 1077.62,303.14 1077.72,300.99 1077.82,298.82 1077.92,296.63 1078.02,294.42 1078.10,292.64 1078.12,292.19 1078.22,289.93 1078.32,287.65 1078.42,285.35 1078.52,283.02 1078.62,280.67 1078.72,278.30 1078.82,275.90 1078.92,273.48 1079.02,271.04 1079.10,269.06 1079.12,268.56 1079.22,266.07 1079.32,263.54 1079.42,260.99 1079.52,258.42 1079.62,255.81 1079.72,253.18 1079.82,250.52 1079.92,247.84 1080.02,245.12 1080.10,242.93 1080.12,242.38 1080.22,239.60 1080.32,236.80 1080.42,233.96 1080.52,231.10 1080.62,228.20 1080.72,225.27 1080.82,222.31 1080.92,219.32 1081.02,216.29 1081.10,213.85 1081.12,213.23 1081.22,210.14 1081.32,207.01 1081.42,203.85 1081.52,200.65 1081.62,197.41 1081.72,194.14 1081.82,190.83 1081.92,187.48 1082.02,184.09 1082.10,181.36 1082.12,180.67 1082.22,177.20 1082.32,173.70 1082.42,170.15 1082.52,166.56 1082.62,162.93 1082.72,159.26 1082.82,155.54 1082.92,151.77 1083.02,147.97 1083.10,144.89 1083.12,144.11 1083.22,140.21 1083.32,136.27 1083.42,132.27 1083.52,128.22 1083.62,124.13 1083.72,119.98 1083.82,115.79 1083.92,111.54 1084.02,107.23 1084.10,103.75 1084.12,102.88 1084.22,98.46 1084.32,94.00 1084.42,89.47 1084.52,84.89 1084.62,80.25 1084.72,75.54 1084.82,70.78 1084.92,65.95 1085.02,61.06 1085.10,57.11 1085.12,56.11 1085.22,51.09 1085.32,46.00 1085.42,40.85 1085.52,35.63 1085.62,30.33 1085.72,24.97 1085.82,19.53 1085.92,14.01 1086.02,8.43 1086.10,3.90 1086.12,2.76 1086.22,-2.99 1086.32,-8.81 1086.42,-14.72 1086.52,-20.71 1086.62,-26.79 1086.72,-32.95 1086.82,-39.20 1086.92,-45.54 1087.02,-51.97 1087.10,-57.18 1087.12,-58.50 1087.22,-65.12 1087.32,-71.84 1087.42,-78.65 1087.52,-85.57 1087.62,-92.60 1087.72,-99.72 1087.82,-106.96 1087.90,-112.83 1087.92,-114.30 1088.00,-120.26 1088.02,-121.76 1088.10,-127.81 1088.12,-129.33 1088.20,-135.47 1088.22,-137.02 1088.30,-143.26 1088.32,-144.83 1088.40,-151.16 1088.42,-152.76 1088.50,-159.19 1088.52,-160.81 1088.60,-167.34 1088.62,-168.99 1088.70,-175.63 1088.72,-177.30 1088.80,-184.04 1088.82,-185.74 1088.90,-192.59 1088.92,-194.32 1089.00,-201.28 1089.02,-203.03 1089.10,-210.11 1089.12,-211.89 1089.20,-219.08 1089.22,-220.89 1089.30,-228.20 1089.32,-230.04 1089.40,-237.47 1089.42,-239.34 1089.50,-246.89 1089.52,-248.80 1089.60,-256.47 1089.62,-258.41 1089.70,-266.21 1089.72,-268.18 1089.80,-276.12 1089.82,-278.12 1089.90,-286.19 1089.92,-288.23 1090.00,-296.44 1090.02,-298.51 1090.10,-306.86 1090.12,-308.96 1090.20,-317.46 1090.22,-319.60 1090.30,-328.25 1090.32,-330.43 1090.40,-339.22 1090.42,-341.44 1090.50,-350.39 1090.52,-352.65 1090.60,-361.76 1090.62,-364.05 1090.70,-373.32 1090.72,-375.66 1090.80,-385.10 1090.82,-387.48 1090.90,-397.09 1090.92,-399.51 1091.00,-409.29 1091.02,-411.76 1091.10,-421.72 1091.12,-424.24 1091.20,-434.38 1091.22,-436.94 1091.30,-447.28 1091.32,-449.88 1091.40,-460.41 1091.42,-463.07 1091.50,-473.79 1091.52,-476.50 1091.60,-487.42 1091.62,-490.18 1091.70,-501.31 1091.72,-504.12 1091.80,-515.47 1091.82,-518.34 1091.90,-529.90 1091.92,-532.82 1092.00,-544.62 1092.02,-547.59 1092.10,-559.62 1092.12,-562.65 1092.20,-574.91 1092.22,-578.00 1092.30,-590.51 1092.32,-593.66 1092.40,-606.42 1092.42,-609.64 1092.50,-622.65 1092.52,-625.93 1092.60,-639.20 1092.62,-642.55 1092.70,-656.10 1092.72,-659.52 1092.80,-673.34 1092.82,-676.83 1092.90,-690.94 1092.92,-694.50 1093.00,-708.90 1093.02,-712.54 1093.10,-727.25 1093.12,-730.96 1093.20,-745.98 1093.22,-749.77 1093.30,-765.11 1093.32,-768.98 1093.40,-784.65 1093.42,-788.61 1093.50,-804.61 1093.52,-808.65 1093.60,-825.01 1093.62,-829.14 1093.70,-845.85 1093.72,-850.08 1093.80,-867.16 1093.82,-871.48 1093.90,-888.94 1093.92,-893.36 1094.00,-911.22 1094.02,-915.73 1094.10,-933.99 1094.12,-938.61 1094.20,-957.29 1094.22,-962.01 1094.30,-981.13 1094.32,-985.96 1094.40,-1005.51 1094.42,-1010.46 1094.50,-1030.47 1094.52,-1035.53 1094.60,-1056.02 1094.62,-1061.20 1094.70,-1082.17 1094.72,-1087.48 1094.80,-1108.95 1094.82,-1114.39 1094.90,-1136.38 1094.92,-1141.95 1095.00,-1164.48 1095.02,-1170.18 1095.10,-1193.27 1095.12,-1199.12 1095.20,-1222.78 1095.22,-1228.77 1095.30,-1253.02 1095.32,-1259.16 1095.40,-1284.03 1095.42,-1290.32 1095.50,-1315.83 1095.52,-1322.28 1095.60,-1348.44 1095.62,-1355.07 1095.70,-1381.90 1095.72,-1388.70 1095.80,-1416.24 1095.82,-1423.22 1095.90,-1451.48 1095.92,-1458.64 1096.00,-1487.67 1096.02,-1495.02 1096.10,-1524.82 1096.12,-1532.38 1096.20,-1562.99 1096.22,-1570.75 1096.30,-1602.20 1096.32,-1610.17 1096.40,-1642.50 1096.42,-1650.69 1096.50,-1683.93 1096.52,-1692.35 1096.60,-1726.52 1096.62,-1735.18 1096.70,-1770.33 1096.72,-1779.24 1096.80,-1815.39 1096.82,-1824.56 1096.90,-1861.77 1096.92,-1871.21 1097.00,-1909.51 1097.02,-1919.23 1097.10,-1958.67 1097.12,-1968.67 1097.20,-2009.30 1097.22,-2019.60 1097.30,-2061.46 1097.32,-2072.08 1097.40,-2115.22 1097.42,-2126.17 1097.50,-2170.64 1097.52,-2181.93 1097.60,-2227.79 1097.62,-2239.43 1097.70,-2286.75 1097.72,-2298.76 1097.80,-2347.59 1097.82,-2359.99 1097.90,-2410.40 1097.92,-2423.20 1098.00,-2475.25 1098.02,-2488.48 1098.10,-2542.25 1098.12,-2555.92 1098.20,-2611.49 1098.22,-2625.61 1098.30,-2683.06 1098.32,-2697.67 1098.40,-2757.08 1098.42,-2772.19 1098.50,-2833.66 1098.52,-2849.30 1098.60,-2912.92 1098.62,-2929.11 1098.70,-2994.99 1098.72,-3011.75 1098.80,-3079.99 1098.82,-3097.36 1098.90,-3168.08 1098.92,-3186.09 1099.00,-3259.41 1099.02,-3278.08 1099.10,-3354.13 1099.12,-3373.50 1099.20,-3452.42 1099.22,-3472.52 1099.30,-3554.46 1099.32,-3575.34 1099.40,-3660.44 1099.42,-3682.13 1099.50,-3770.58 1099.52,-3793.12 1099.60,-3885.08 1099.62,-3908.52 1099.70,-4004.18 1099.72,-4028.58 1099.80,-4128.14 1099.82,-4153.54 1099.90,-4257.22 1099.92,-4283.68 1100.00,-4391.71 1100.02,-4419.29 1100.10,-4531.92 1100.12,-4560.67 1100.20,-4678.17 1100.22,-4708.17 1100.30,-4830.81 1100.32,-4862.14 1100.40,-4990.22 1100.42,-5022.95 1100.50,-5156.81 1100.52,-5191.03 1100.60,-5331.02 1100.62,-5366.82 1100.70,-5513.32 1100.72,-5550.79 1100.80,-5704.20 1100.82,-5743.45 1100.90,-5904.22 1100.92,-5945.37 1101.00,-6113.97 1101.02,-6157.14 1101.10,-6334.08 1101.12,-6379.40 1101.20,-6565.24 1101.22,-6612.87 1101.30,-6808.21 1101.32,-6858.29 1101.40,-7063.79 1101.42,-7116.49 1101.50,-7332.86 1101.52,-7388.37 1101.60,-7616.38 1101.62,-7674.91 1101.70,-7915.39 1101.72,-7977.15 1101.80,-8231.03 1101.82,-8296.26 1101.90,-8564.55 1101.92,-8633.51 1102.00,-8917.28 1102.02,-8990.27 1102.10,-9290.73 1102.12,-9368.05 1102.20,-9686.52 1102.22,-9768.51 1102.30,-10106.43 1102.32,-10193.47 1102.40,-10552.42 1102.42,-10644.94 1102.50,-11026.67 1102.52,-11125.11 1102.60,-11531.54 1102.62,-11636.42 1102.70,-12069.68 1102.72,-12181.55 1102.80,-12643.99 1102.82,-12763.48 1102.90,-13257.70 1102.92,-13385.48 1103.00,-13914.38 1103.02,-14051.22 1103.10,-14618.01 1103.12,-14764.75 1103.20,-15373.00 1103.22,-15530.59 1103.30,-16184.28 1103.32,-16353.77 1103.40,-17057.36 1103.42,-17239.92 1103.50,-17998.37 1103.52,-18195.31 1103.60,-19014.19 1103.62,-19226.99 1103.70,-20112.52 1103.72,-20342.83 1103.80,-21302.02 1103.82,-21551.69 1103.90,-22592.37 1103.92,-22863.48 1104.00,-23994.47 1104.02,-24289.35 1104.10,-25520.57 1104.12,-25841.85 1104.20,-27184.43 1104.22,-27535.06 1104.30,-29001.48 1104.32,-29384.76 1104.40,-30989.05 1104.42,-31408.69 1104.50,-33166.51 1104.52,-33626.64 1104.60,-35555.45 1104.62,-36060.68 1104.70,-38179.84 1104.72,-38735.25 1104.80,-41066.06 1104.82,-41677.21 1104.90,-44242.87 1104.92,-44915.79 1105.00,-47741.18 1105.02,-48482.26 1105.10,-51593.49 1105.12,-52409.35 1105.20,-55832.97 1105.22,-56730.21 1105.30,-60491.87 1105.32,-61476.61 1105.40,-65599.01 1105.42,-66676.33 1105.50,-71176.26 1105.52,-72349.26 1105.60,-77233.31 1105.62,-78501.90 1105.70,-83760.85 1105.72,-85120.15 1105.80,-90721.74 1105.82,-92160.08 1105.90,-98040.59 1105.92,-99537.33 1106.00,-105592.71 1106.02,-107116.09 1106.10,-113194.48 1106.12,-114700.12 1106.20,-120598.34 1106.22,-122029.23 1106.30,-127497.02 1106.32,-128785.80 1106.40,-133541.02 1106.42,-134615.37 1106.50,-138371.73 1106.52,-139162.76 1106.60,-141667.75 1106.62,-142120.16 1106.70,-143195.59 1106.72,-143277.26 1106.80,-142851.70 1106.82,-142559.76 1106.90,-140682.42 1106.92,-140043.85 1107.00,-136875.20 1107.02,-135941.74 1107.10,-131724.05 1107.12,-130563.06 1107.20,-125580.52 1107.22,-124264.72 1107.30,-118804.22 1107.32,-117402.81 1107.40,-111723.78 1107.42,-110296.41 1107.50,-104613.08 1107.52,-103206.92 1107.60,-97682.11 1107.62,-96331.51 1107.70,-91078.74 1107.72,-89806.48 1107.80,-84896.91 1107.82,-83716.22 1107.90,-79187.23 1107.92,-78104.01 1108.00,-73967.77 1108.02,-72982.56 1108.10,-69233.34 1108.12,-68343.03 1108.20,-64963.07 1108.22,-64162.12 1108.30,-61126.02 1108.32,-60407.42 1108.40,-57685.30 1108.42,-57041.22 1108.50,-54600.88 1108.52,-54023.13 1108.60,-51831.57 1108.62,-51311.89 1108.70,-49336.33 1108.72,-48866.63 1108.80,-47075.30 1108.82,-46647.83 1108.90,-45010.60 1108.92,-44618.06 1109.00,-43107.00 1109.02,-42742.74 1109.10,-41332.63 1109.12,-40990.73 1109.20,-39659.58 1109.22,-39334.98 1109.30,-38064.38 1109.32,-37752.95 1109.40,-36528.32 1109.42,-36226.89 1109.50,-35037.48 1109.52,-34743.84 1109.60,-33582.56 1109.62,-33295.37 1109.70,-32158.39 1109.72,-31877.04 1109.80,-30763.23 1109.82,-30487.72 1109.90,-29397.95 1109.92,-29128.70 1110.00,-28065.23 1110.02,-27802.91 1110.10,-26768.71 1110.12,-26514.10 1110.20,-25512.35 1110.22,-25266.23 1110.30,-24299.92 1110.32,-24063.00 1110.40,-23134.64 1110.42,-22907.47 1110.50,-22018.97 1110.52,-21801.95 1110.60,-20954.55 1110.62,-20747.90 1110.70,-19942.16 1110.72,-19745.94 1110.80,-18981.84 1110.82,-18795.98 1110.90,-18072.97 1110.92,-17897.27 1111.00,-17214.38 1111.02,-17048.57 1111.10,-16404.51 1111.12,-16248.22 1111.20,-15641.45 1111.22,-15494.28 1111.30,-14923.12 1111.32,-14784.62 1111.40,-14247.27 1111.42,-14117.00 1111.50,-13611.62 1111.52,-13489.12 1111.60,-13013.88 1111.62,-12898.68 1111.70,-12451.78 1111.72,-12343.44 1111.80,-11923.11 1111.82,-11821.20 1111.90,-11425.76 1111.92,-11329.87 1112.00,-10957.71 1112.02,-10867.44 1112.10,-10517.04 1112.12,-10432.03 1112.20,-10101.94 1112.22,-10021.84 1112.30,-9710.74 1112.32,-9635.22 1112.40,-9341.83 1112.42,-9270.59 1112.50,-8993.74 1112.52,-8926.50 1112.60,-8665.11 1112.62,-8601.60 1112.70,-8354.64 1112.72,-8294.62 1112.80,-8061.15 1112.82,-8004.39 1112.90,-7783.55 1112.92,-7729.84 1113.00,-7520.81 1113.02,-7469.96 1113.10,-7271.98 1113.12,-7223.81 1113.20,-7036.20 1113.22,-6990.53 1113.30,-6812.65 1113.32,-6769.34 1113.40,-6600.57 1113.42,-6559.47 1113.50,-6399.28 1113.52,-6360.26 1113.60,-6208.13 1113.62,-6171.06 1113.70,-6026.52 1113.72,-5991.29 1113.80,-5853.89 1113.82,-5820.40 1113.90,-5689.74 1113.92,-5657.88 1114.00,-5533.57 1114.02,-5503.26 1114.10,-5384.96 1114.12,-5356.11 1114.20,-5243.48 1114.22,-5216.01 1114.30,-5108.75 1114.32,-5082.59 1114.40,-4980.42 1114.42,-4955.49 1114.50,-4858.15 1114.52,-4834.40 1114.60,-4741.64 1114.62,-4719.00 1114.70,-4630.59 1114.72,-4609.01 1114.80,-4524.73 1114.82,-4504.16 1114.90,-4423.83 1114.92,-4404.22 1115.00,-4327.63 1115.02,-4308.94 1115.10,-4235.93 1115.12,-4218.11 1115.20,-4148.52 1115.22,-4131.53 1115.30,-4065.21 1115.32,-4049.02 1115.40,-3985.82 1115.42,-3970.39 1115.50,-3910.18 1115.52,-3895.49 1115.60,-3838.15 1115.62,-3824.16 1115.70,-3769.57 1115.72,-3756.26 1115.80,-3704.32 1115.82,-3691.65 1115.90,-3642.26 1115.92,-3630.22 1116.00,-3583.27 1116.02,-3571.84 1116.10,-3527.26 1116.12,-3516.40 1116.20,-3474.10 1116.22,-3463.81 1116.30,-3423.72 1116.32,-3413.96 1116.40,-3376.01 1116.42,-3366.78 1116.50,-3330.90 1116.52,-3322.18 1116.60,-3288.30 1116.62,-3280.08 1116.70,-3248.15 1116.72,-3240.41 1116.80,-3210.39 1116.82,-3203.11 1116.90,-3174.94 1116.92,-3168.12 1117.00,-3141.75 1117.02,-3135.38 1117.10,-3110.78 1117.12,-3104.85 1117.20,-3081.97 1117.22,-3076.46 1117.30,-3055.28 1117.32,-3050.19 1117.40,-3030.67 1117.42,-3026.00 1117.50,-3008.11 1117.52,-3003.84 1117.60,-2987.56 1117.62,-2983.69 1117.70,-2969.00 1117.72,-2965.53 1117.80,-2952.41 1117.82,-2949.32 1117.90,-2937.75 1117.92,-2935.06 1118.00,-2925.03 1118.02,-2922.71 1118.10,-2914.22 1118.12,-2912.28 1118.20,-2905.31 1118.22,-2903.75 1118.30,-2898.30 1118.32,-2897.12 1118.40,-2893.18 1118.42,-2892.38 1118.50,-2889.95 1118.52,-2889.54 1118.60,-2888.63 1118.62,-2888.59 1118.70,-2889.21 1118.72,-2889.55 1118.80,-2891.70 1118.82,-2892.43 1118.90,-2896.12 1118.92,-2897.24 1119.00,-2902.49 1119.02,-2904.00 1119.10,-2910.83 1119.12,-2912.74 1119.20,-2921.16 1119.22,-2923.47 1119.30,-2933.52 1119.32,-2936.24 1119.40,-2947.93 1119.42,-2951.06 1119.50,-2964.43 1119.52,-2967.99 1119.60,-2983.07 1119.62,-2987.06 1119.70,-3003.89 1119.72,-3008.32 1119.80,-3026.94 1119.82,-3031.82 1119.90,-3052.27 1119.92,-3057.62 1120.00,-3079.95 1120.02,-3085.78 1120.10,-3110.05 1120.12,-3116.36 1120.20,-3142.63 1120.22,-3149.45 1120.30,-3177.77 1120.32,-3185.12 1120.40,-3215.56 1120.42,-3223.45 1120.50,-3256.09 1120.52,-3264.53 1120.60,-3299.46 1120.62,-3308.48 1120.70,-3345.77 1120.72,-3355.39 1120.80,-3395.13 1120.82,-3405.38 1120.90,-3447.68 1120.92,-3458.58 1121.00,-3503.54 1121.02,-3515.12 1121.10,-3562.86 1121.12,-3575.15 1121.20,-3625.79 1121.22,-3638.82 1121.30,-3692.49 1121.32,-3706.30 1121.40,-3763.15 1121.42,-3777.77 1121.50,-3837.95 1121.52,-3853.43 1121.60,-3917.11 1121.62,-3933.48 1121.70,-4000.84 1121.72,-4018.16 1121.80,-4089.39 1121.82,-4107.70 1121.90,-4183.01 1121.92,-4202.36 1122.00,-4281.98 1122.02,-4302.44 1122.10,-4386.60 1122.12,-4408.23 1122.20,-4497.20 1122.22,-4520.07 1122.30,-4614.13 1122.32,-4638.31 1122.40,-4737.77 1122.42,-4763.34 1122.50,-4868.53 1122.52,-4895.57 1122.60,-5006.85 1122.62,-5035.46 1122.70,-5153.22 1122.72,-5183.50 1122.80,-5308.16 1122.82,-5340.22 1122.90,-5472.23 1122.92,-5506.20 1123.00,-5646.07 1123.02,-5682.06 1123.10,-5830.33 1123.12,-5868.50 1123.20,-6025.75 1123.22,-6066.25 1123.30,-6233.14 1123.32,-6276.12 1123.40,-6453.35 1123.42,-6499.02 1123.50,-6687.35 1123.52,-6735.89 1123.60,-6936.17 1123.62,-6987.82 1123.70,-7200.96 1123.72,-7255.94 1123.80,-7482.96 1123.82,-7541.54 1123.90,-7783.54 1123.92,-7846.02 1124.00,-8104.21 1124.02,-8170.90 1124.10,-8446.62 1124.12,-8517.87 1124.20,-8812.59 1124.22,-8888.78 1124.30,-9204.12 1124.32,-9285.68 1124.40,-9623.41 1124.42,-9710.81 1124.50,-10072.90 1124.52,-10166.66 1124.60,-10555.27 1124.62,-10655.94 1124.70,-11073.46 1124.72,-11181.68 1124.80,-11630.75 1124.82,-11747.21 1124.90,-12230.72 1124.92,-12356.17 1125.00,-12877.32 1125.02,-13012.62 1125.10,-13574.92 1125.12,-13720.97 1125.20,-14328.29 1125.22,-14486.11 1125.30,-15142.67 1125.32,-15313.36 1125.40,-16023.77 1125.42,-16208.53 1125.50,-16977.79 1125.52,-17177.92 1125.60,-18011.40 1125.62,-18228.30 1125.70,-19131.76 1125.72,-19366.90 1125.80,-20346.39 1125.82,-20601.31 1125.90,-21663.10 1125.92,-21939.39 1126.00,-23089.80 1126.02,-23389.03 1126.10,-24634.22 1126.12,-24957.88 1126.20,-26303.50 1126.22,-26652.90 1126.30,-28103.63 1126.32,-28479.76 1126.40,-30038.68 1126.42,-30442.05 1126.50,-32109.82 1126.52,-32540.21 1126.60,-34314.03 1126.62,-34770.19 1126.70,-36642.58 1126.72,-37121.93 1126.80,-39079.29 1126.82,-39577.56 1126.90,-41598.77 1126.92,-42109.61 1127.00,-44164.69 1127.02,-44679.42 1127.10,-46728.77 1127.12,-47236.26 1127.20,-49230.66 1127.22,-49717.49 1127.30,-51599.51 1127.32,-52050.54 1127.40,-53757.53 1127.42,-54156.82 1127.50,-55625.69 1127.52,-55957.94 1127.60,-57131.27 1127.62,-57383.41 1127.70,-58216.04 1127.72,-58378.84 1127.80,-58843.58 1127.82,-58912.87 1127.90,-59004.15 1127.92,-58981.34 1128.00,-58715.66 1128.02,-58607.45 1128.10,-58020.68 1128.12,-57838.03 1128.20,-56980.11 1128.22,-56736.69 1128.30,-55665.00 1128.32,-55375.51 1128.40,-54148.36 1128.42,-53826.99 1128.50,-52498.21 1128.52,-52157.49 1128.60,-50772.80 1128.62,-50422.96 1128.70,-49018.08 1128.72,-48666.76 1128.80,-47267.23 1128.82,-46919.59 1128.90,-45541.60 1128.92,-45200.66 1129.00,-43852.66 1129.02,-43519.73 1129.10,-42204.38 1129.12,-41879.56 1129.20,-40595.61 1129.22,-40278.28 1129.30,-39022.39 1129.32,-38711.57 1129.40,-37479.76 1129.42,-37174.49 1129.50,-35963.23 1129.52,-35662.75 1129.60,-34469.64 1129.62,-34173.53 1129.70,-32997.67 1129.72,-32705.89 1129.80,-31547.88 1129.82,-31260.76 1129.90,-30122.51 1129.92,-29840.66 1130.00,-28725.06 1130.02,-28449.28 1130.10,-27359.77 1130.12,-27090.97 1130.20,-26031.20 1130.22,-25770.29 1130.30,-24743.75 1130.32,-24491.56 1130.40,-23501.36 1130.42,-23258.58 1130.50,-22307.25 1130.52,-22074.46 1130.60,-21163.87 1130.62,-20941.43 1130.70,-20072.79 1130.72,-19860.94 1130.80,-19034.80 1130.82,-18833.59 1130.90,-18049.93 1130.92,-17859.29 1131.00,-17117.58 1131.02,-16937.32 1131.10,-16236.63 1131.12,-16066.48 1131.20,-15405.54 1131.22,-15245.14 1131.30,-14622.45 1131.32,-14471.41 1131.40,-13885.29 1131.42,-13743.17 1131.50,-13191.85 1131.52,-13058.20 1131.60,-12539.84 1131.62,-12414.20 1131.70,-11926.95 1131.72,-11808.86 1131.80,-11350.89 1131.82,-11239.90 1131.90,-10809.41 1131.92,-10705.08 1132.00,-10300.36 1132.02,-10202.26 1132.10,-9821.65 1132.12,-9729.37 1132.20,-9371.30 1132.22,-9284.47 1132.30,-8947.45 1132.32,-8865.70 1132.40,-8548.32 1132.42,-8471.31 1132.50,-8172.26 1132.52,-8099.68 1132.60,-7817.72 1132.62,-7749.27 1132.70,-7483.25 1132.72,-7418.65 1132.80,-7167.51 1132.82,-7106.50 1132.90,-6869.24 1132.92,-6811.58 1133.00,-6587.27 1133.02,-6532.74 1133.10,-6320.52 1133.12,-6268.91 1133.20,-6067.99 1133.22,-6019.11 1133.30,-5828.75 1133.32,-5782.42 1133.40,-5601.93 1133.42,-5557.98 1133.50,-5386.73 1133.52,-5345.01 1133.60,-5182.40 1133.62,-5142.78 1133.70,-4988.27 1133.72,-4950.61 1133.80,-4803.69 1133.82,-4767.87 1133.90,-4628.07 1133.92,-4593.97 1134.00,-4460.85 1134.02,-4428.37 1134.10,-4301.54 1134.12,-4270.58 1134.20,-4149.64 1134.22,-4120.11 1134.30,-4004.72 1134.32,-3976.54 1134.40,-3866.38 1134.42,-3839.46 1134.50,-3734.22 1134.52,-3708.50 1134.60,-3607.90 1134.62,-3583.30 1134.70,-3487.07 1134.72,-3463.54 1134.80,-3371.44 1134.82,-3348.91 1134.90,-3260.71 1134.92,-3239.13 1135.00,-3154.61 1135.02,-3133.93 1135.10,-3052.90 1135.12,-3033.06 1135.20,-2955.33 1135.22,-2936.29 1135.30,-2861.69 1135.32,-2843.41 1135.40,-2771.77 1135.42,-2754.21 1135.50,-2685.37 1135.52,-2668.50 1135.60,-2602.33 1135.62,-2586.10 1135.70,-2522.46 1135.72,-2506.85 1135.80,-2445.60 1135.82,-2430.58 1135.90,-2371.62 1135.92,-2357.15 1136.00,-2300.36 1136.02,-2286.43 1136.10,-2231.70 1136.12,-2218.27 1136.20,-2165.51 1136.22,-2152.56 1136.30,-2101.67 1136.32,-2089.18 1136.40,-2040.08 1136.42,-2028.02 1136.50,-1980.62 1136.52,-1968.98 1136.60,-1923.20 1136.62,-1911.96 1136.70,-1867.74 1136.72,-1856.87 1136.80,-1814.13 1136.82,-1803.62 1136.90,-1762.30 1136.92,-1752.14 1137.00,-1712.17 1137.02,-1702.34 1137.10,-1663.67 1137.12,-1654.16 1137.20,-1616.72 1137.22,-1607.51 1137.30,-1571.26 1137.32,-1562.34 1137.40,-1527.23 1137.42,-1518.59 1137.50,-1484.56 1137.52,-1476.19 1137.60,-1443.21 1137.62,-1435.09 1137.70,-1403.11 1137.72,-1395.23 1137.80,-1364.21 1137.82,-1356.57 1137.90,-1326.48 1137.92,-1319.06 1138.00,-1289.85 1138.02,-1282.66 1138.10,-1254.29 1138.12,-1247.31 1138.20,-1219.76 1138.22,-1212.97 1138.30,-1186.22 1138.32,-1179.62 1138.40,-1153.62 1138.42,-1147.21 1138.50,-1121.93 1138.52,-1115.70 1138.60,-1091.13 1138.62,-1085.07 1138.70,-1061.17 1138.72,-1055.27 1138.80,-1032.02 1138.82,-1026.28 1138.90,-1003.66 1138.92,-998.08 1139.00,-976.05 1139.02,-970.62 1139.10,-949.18 1139.12,-943.89 1139.20,-923.00 1139.22,-917.85 1139.30,-897.51 1139.32,-892.49 1139.40,-872.67 1139.42,-867.78 1139.50,-848.46 1139.52,-843.69 1139.60,-824.86 1139.62,-820.22 1139.70,-801.86 1139.72,-797.32 1139.80,-779.42 1139.82,-775.00 1139.90,-757.53 1139.92,-753.22 1140.00,-736.18 1140.02,-731.97 1140.10,-715.34 1140.12,-711.23 1140.20,-695.00 1140.22,-690.99 1140.30,-675.14 1140.32,-671.22 1140.40,-655.75 1140.42,-651.92 1140.50,-636.81 1140.52,-633.07 1140.60,-618.31 1140.62,-614.66 1140.70,-600.23 1140.72,-596.66 1140.80,-582.56 1140.82,-579.07 1140.90,-565.29 1140.92,-561.88 1141.00,-548.41 1141.02,-545.07 1141.10,-531.90 1141.12,-528.64 1141.20,-515.75 1141.22,-512.56 1141.30,-499.96 1141.32,-496.84 1141.40,-484.50 1141.42,-481.45 1141.50,-469.38 1141.52,-466.40 1141.60,-454.58 1141.62,-451.66 1141.70,-440.10 1141.72,-437.24 1141.80,-425.91 1141.82,-423.11 1141.90,-412.03 1141.92,-409.28 1142.00,-398.43 1142.02,-395.74 1142.10,-385.10 1142.12,-382.47 1142.20,-372.05 1142.22,-369.48 1142.30,-359.27 1142.32,-356.74 1142.40,-346.74 1142.42,-344.26 1142.50,-334.45 1142.52,-332.03 1142.60,-322.41 1142.62,-320.03 1142.70,-310.61 1142.72,-308.28 1142.80,-299.04 1142.82,-296.75 1142.90,-287.68 1142.92,-285.44 1143.00,-276.55 1143.02,-274.35 1143.10,-265.63 1143.12,-263.47 1143.20,-254.92 1143.22,-252.80 1143.30,-244.40 1143.32,-242.32 1143.40,-234.09 1143.42,-232.04 1143.50,-223.96 1143.52,-221.96 1143.60,-214.02 1143.62,-212.05 1143.70,-204.26 1143.72,-202.33 1143.80,-194.68 1143.82,-192.78 1143.90,-185.27 1143.92,-183.41 1144.00,-176.03 1144.02,-174.20 1144.10,-166.95 1144.12,-165.15 1144.20,-158.03 1144.22,-156.27 1144.30,-149.27 1144.32,-147.54 1144.40,-140.67 1144.42,-138.96 1144.50,-132.21 1144.52,-130.53 1144.60,-123.89 1144.62,-122.25 1144.70,-115.72 1144.72,-114.11 1144.80,-107.69 1144.82,-106.10 1144.90,-99.79 1144.92,-98.23 1145.00,-92.03 1145.02,-90.49 1145.10,-84.39 1145.12,-82.88 1145.20,-76.89 1145.22,-75.40 1145.30,-69.50 1145.32,-68.04 1145.40,-62.24 1145.42,-60.80 1145.50,-55.09 1145.52,-53.67 1145.60,-48.06 1145.62,-46.67 1145.70,-41.14 1145.72,-39.77 1145.80,-34.33 1145.82,-32.98 1145.90,-27.63 1145.92,-26.30 1146.00,-21.04 1146.02,-19.73 1146.10,-14.55 1146.12,-13.26 1146.20,-8.16 1146.22,-6.89 1146.30,-1.87 1146.32,-0.62 1146.40,4.33 1146.42,5.56 1146.50,10.43 1146.52,11.64 1146.60,16.44 1146.62,17.63 1146.70,22.35 1146.80,28.18 1146.90,33.92 1147.00,39.57 1147.10,45.14 1147.20,50.63 1147.30,56.04 1147.40,61.37 1147.50,66.62 1147.60,71.80 1147.70,76.90 1147.80,81.93 1147.90,86.89 1148.00,91.78 1148.10,96.60 1148.20,101.36 1148.30,106.04 1148.40,110.67 1148.50,115.23 1148.60,119.73 1148.70,124.16 1148.80,128.54 1148.90,132.86 1149.00,137.12 1149.10,141.32 1149.20,145.47 1149.30,149.56 1149.40,153.60 1149.50,157.59 1149.60,161.53 1149.70,165.41 1149.80,169.25 1149.90,173.03 1150.00,176.77 1150.10,180.46 1150.20,184.10 1150.30,187.70 1150.40,191.26 1150.50,194.77 1150.60,198.23 1150.70,201.65 1150.80,205.04 1150.90,208.38 1151.00,211.68 1151.10,214.94 1151.20,218.16 1151.30,221.34 1151.40,224.48 1151.50,227.59 1151.60,230.66 1151.70,233.70 1151.80,236.69 1151.90,239.66 1152.00,242.59 1152.10,245.48 1152.20,248.35 1152.30,251.18 1152.40,253.97 1152.50,256.74 1152.60,259.47 1152.70,262.18 1152.80,264.85 1152.90,267.49 1153.00,270.11 1153.10,272.69 1153.20,275.25 1153.30,277.78 1153.40,280.28 1153.50,282.75 1153.60,285.20 1153.70,287.62 1153.80,290.02 1153.90,292.39 1154.00,294.73 1154.10,297.05 1154.20,299.34 1154.30,301.61 1154.40,303.86 1154.50,306.08 1154.60,308.28 1154.70,310.46 1154.80,312.61 1154.90,314.75 1155.00,316.86 1155.10,318.95 1155.20,321.01 1155.30,323.06 1155.40,325.09 1155.50,327.09 1155.60,329.08 1155.70,331.04 1155.80,332.99 1155.90,334.92 1156.00,336.83 1156.10,338.71 1156.20,340.59 1156.30,342.44 1156.40,344.27 1156.50,346.09 1156.60,347.89 1156.70,349.67 1156.80,351.44 1156.90,353.18 1157.00,354.91 1157.10,356.63 1157.20,358.33 1157.30,360.01 1157.40,361.68 1157.50,363.33 1157.60,364.97 1157.70,366.59 1157.80,368.19 1157.90,369.78 1158.00,371.36 1158.10,372.92 1158.20,374.47 1158.30,376.00 1158.40,377.52 1158.50,379.03 1158.60,380.52 1158.70,382.00 1158.80,383.46 1158.90,384.92 1159.00,386.36 1159.10,387.78 1159.20,389.20 1159.30,390.60 1159.40,391.99 1159.50,393.37 1159.60,394.73 1159.70,396.09 1159.80,397.43 1159.90,398.76 1160.00,400.08 1160.10,401.38 1160.20,402.68 1160.30,403.97 1160.40,405.24 1160.50,406.50 1160.60,407.76 1160.70,409.00 1160.80,410.23 1160.90,411.45 1161.00,412.66 1161.10,413.87 1161.20,415.06 1161.30,416.24 1161.40,417.41 1161.50,418.57 1161.60,419.73 1161.70,420.87 1161.80,422.00 1161.90,423.13 1162.00,424.24 1162.10,425.35 1162.20,426.45 1162.30,427.54 1162.40,428.62 1162.50,429.69 1162.60,430.75 1162.70,431.81 1162.80,432.85 1162.90,433.89 1163.00,434.92 1163.10,435.94 1163.20,436.96 1163.30,437.96 1163.40,438.96 1163.50,439.95 1163.60,440.93 1163.70,441.91 1163.80,442.88 1163.90,443.84 1164.00,444.79 1164.10,445.74 1164.20,446.67 1164.30,447.61 1164.40,448.53 1164.50,449.45 1164.60,450.36 1164.70,451.26 1164.80,452.16 1164.90,453.05 1165.00,453.93 1165.10,454.81 1165.20,455.68 1165.30,456.54 1165.40,457.40 1165.50,458.25 1165.60,459.10 1165.70,459.94 1165.80,460.77 1165.90,461.60 1166.00,462.42 1166.10,463.23 1166.20,464.04 1166.30,464.85 1166.40,465.64 1166.50,466.43 1166.60,467.22 1166.70,468.00 1166.80,468.78 1166.90,469.55 1167.00,470.31 1167.10,471.07 1167.20,471.82 1167.30,472.57 1167.40,473.31 1167.50,474.05 1167.60,474.78 1167.70,475.51 1167.80,476.23 1168.10,478.37 1169.10,485.19 1170.10,491.56 1171.10,497.53 1172.10,503.13 1173.10,508.39 1174.10,513.33 1175.10,517.99 1176.10,522.38 1177.10,526.52 1178.10,530.44 1179.10,534.15 1180.10,537.65 1181.10,540.98 1182.10,544.14 1183.10,547.13 1184.10,549.98 1185.10,552.69 1186.10,555.28 1187.10,557.74 1188.10,560.08 1189.10,562.32 1190.10,564.46 1191.10,566.50 1192.10,568.46 1193.10,570.33 1194.10,572.12 1195.10,573.84 1196.10,575.49 1197.10,577.07 1198.10,578.58 1199.10,580.04 1200.10,581.44 1201.10,582.79 1202.10,584.09 1203.10,585.33 1204.10,586.54 1205.10,587.70 1206.10,588.81 1207.10,589.89 1208.10,590.93 1209.10,591.93 1210.10,592.90 1211.10,593.84 1212.10,594.75 1213.10,595.62 1214.10,596.47 1215.10,597.29 1216.10,598.09 1217.10,598.86 1218.10,599.60 1219.10,600.33 1220.10,601.03 1221.10,601.71 1222.10,602.37 1223.10,603.02 1224.10,603.64 1225.10,604.25 1226.10,604.83 1227.10,605.41 1228.10,605.97 1229.10,606.51 1230.10,607.04 1231.10,607.55 1232.10,608.05 1233.10,608.54 1234.10,609.02 1235.10,609.48 1236.10,609.93 1237.10,610.38 1238.10,610.81 1239.10,611.23 1240.10,611.64 1241.10,612.04 1242.10,612.43 1243.10,612.82 1244.10,613.19 1245.10,613.56 1246.10,613.92 1247.10,614.27 1248.10,614.61 1249.10,614.95 1250.10,615.28 1251.10,615.60 1252.10,615.92 1253.10,616.23 1254.10,616.53 1255.10,616.83 1256.10,617.12 1257.10,617.41 1258.10,617.69 1259.10,617.96 1260.10,618.24 1261.10,618.50 1262.10,618.76 1263.10,619.02 1264.10,619.27 1265.10,619.52 1266.10,619.77 1267.10,620.01 1268.10,620.24 1269.10,620.48 1270.10,620.70 1271.10,620.93 1272.10,621.15 1273.10,621.37 1274.10,621.58 1275.10,621.80 1276.10,622.01 1277.10,622.21" fill="none" stroke="#ff0000" stroke-width="1.9" stroke-linejoin="round"/></g>
<polyline points="83.10,687.30 84.10,687.30 85.10,687.30 86.10,687.30 87.10,687.30 88.10,687.30 89.10,687.30 90.10,687.30 91.10,687.30 92.10,687.30 93.10,687.30 94.10,687.30 95.10,687.30 96.10,687.30 97.10,687.30 98.10,687.30 99.10,687.30 100.10,687.30 101.10,687.30 102.10,687.30 103.10,687.30 104.10,687.30 105.10,687.30 106.10,687.30 107.10,687.30 108.10,687.30 109.10,687.30 110.10,687.30 111.10,687.30 112.10,687.30 113.10,687.30 114.10,687.30 115.10,687.30 116.10,687.30 117.10,687.30 118.10,687.30 119.10,687.30 120.10,687.30 121.10,687.30 122.10,687.30 123.10,687.30 124.10,687.30 125.10,687.30 126.10,687.30 127.10,687.30 128.10,687.30 129.10,687.30 130.10,687.30 131.10,687.30 132.10,687.30 133.10,687.30 134.10,687.30 135.10,687.30 136.10,687.30 137.10,687.30 138.10,687.30 139.10,687.30 140.10,687.30 141.10,687.30 142.10,687.30 143.10,687.30 144.10,687.30 145.10,687.30 146.10,687.30 147.10,687.30 148.10,687.30 149.10,687.30 150.10,687.30 151.10,687.30 152.10,687.30 153.10,687.30 154.10,687.30 155.10,687.30 156.10,687.30 157.10,687.30 158.10,687.30 159.10,687.30 160.10,687.30 161.10,687.30 162.10,687.30 163.10,687.30 164.10,687.30 165.10,687.30 166.10,687.30 167.10,687.30 168.10,687.30 169.10,687.30 170.10,687.30 171.10,687.30 172.10,687.30 173.10,687.30 174.10,687.30 175.10,687.30 176.10,687.30 177.10,687.30 178.10,687.30 179.10,687.30 180.10,687.30 181.10,687.30 182.10,687.30 183.10,687.30 184.10,687.30 185.10,687.30 186.10,687.30 187.10,687.30 188.10,687.30 189.10,687.30 190.10,687.30 191.10,687.30 192.10,687.30 193.10,687.30 194.10,687.30 195.10,687.30 196.10,687.30 197.10,687.30 198.10,687.30 199.10,687.30 200.10,687.30 201.10,687.30 202.10,687.30 203.10,687.29 203.30,687.29 203.40,687.29 203.50,687.29 203.60,687.29 203.70,687.29 203.80,687.29 203.90,687.29 204.00,687.29 204.10,687.29 204.20,687.29 204.30,687.29 204.40,687.29 204.50,687.29 204.60,687.29 204.70,687.29 204.80,687.29 204.90,687.29 205.00,687.29 205.10,687.29 205.20,687.29 205.30,687.29 205.40,687.29 205.50,687.29 205.60,687.29 205.70,687.29 205.80,687.29 205.90,687.29 206.00,687.29 206.10,687.29 206.20,687.29 206.30,687.29 206.40,687.29 206.50,687.29 206.60,687.29 206.70,687.29 206.80,687.29 206.90,687.29 207.00,687.29 207.10,687.29 207.20,687.29 207.30,687.29 207.40,687.29 207.50,687.29 207.60,687.29 207.70,687.29 207.80,687.29 207.90,687.29 208.00,687.29 208.10,687.29 208.20,687.29 208.30,687.29 208.40,687.29 208.50,687.29 208.60,687.29 208.70,687.29 208.80,687.29 208.90,687.29 209.00,687.29 209.10,687.29 209.20,687.29 209.30,687.29 209.40,687.29 209.50,687.29 209.60,687.29 209.70,687.29 209.80,687.29 209.90,687.29 210.00,687.29 210.10,687.29 210.20,687.29 210.30,687.29 210.40,687.29 210.50,687.29 210.60,687.29 210.70,687.29 210.80,687.29 210.90,687.29 211.00,687.29 211.10,687.29 211.20,687.29 211.30,687.29 211.40,687.29 211.50,687.29 211.60,687.29 211.70,687.29 211.80,687.29 211.90,687.29 212.00,687.29 212.10,687.29 212.20,687.29 212.30,687.29 212.40,687.29 212.50,687.29 212.60,687.29 212.70,687.29 212.80,687.29 212.90,687.29 213.00,687.29 213.10,687.29 213.20,687.29 213.30,687.29 213.40,687.29 213.50,687.29 213.60,687.29 213.70,687.29 213.80,687.29 213.90,687.29 214.00,687.29 214.10,687.29 214.20,687.29 214.30,687.29 214.40,687.29 214.50,687.29 214.60,687.29 214.70,687.29 214.80,687.29 214.90,687.29 215.00,687.29 215.10,687.29 215.20,687.29 215.30,687.29 215.40,687.29 215.50,687.29 215.60,687.29 215.70,687.29 215.80,687.29 215.90,687.29 216.00,687.29 216.10,687.29 216.20,687.29 216.30,687.29 216.40,687.29 216.50,687.29 216.60,687.29 216.70,687.29 216.80,687.29 216.90,687.29 217.00,687.29 217.10,687.29 217.20,687.29 217.30,687.29 217.40,687.29 217.50,687.29 217.60,687.29 217.70,687.29 217.80,687.29 217.90,687.29 218.00,687.29 218.10,687.29 218.20,687.29 218.30,687.29 218.40,687.29 218.50,687.29 218.60,687.29 218.70,687.29 218.80,687.29 218.90,687.29 219.00,687.29 219.10,687.29 219.20,687.29 219.30,687.29 219.40,687.29 219.50,687.29 219.60,687.29 219.70,687.28 219.80,687.28 219.90,687.28 220.00,687.28 220.10,687.28 220.20,687.28 220.30,687.28 220.40,687.28 220.50,687.28 220.60,687.28 220.70,687.28 220.80,687.28 220.90,687.28 221.00,687.28 221.10,687.28 221.20,687.28 221.30,687.28 221.40,687.28 221.50,687.28 221.60,687.28 221.70,687.28 221.80,687.28 221.90,687.28 222.00,687.28 222.10,687.28 222.20,687.28 222.30,687.28 222.40,687.28 222.50,687.28 222.60,687.28 222.70,687.28 222.80,687.28 222.90,687.28 223.00,687.28 223.10,687.28 223.20,687.28 223.30,687.28 223.40,687.28 223.50,687.28 223.60,687.28 223.70,687.28 223.80,687.28 223.90,687.28 224.00,687.28 224.10,687.28 224.20,687.28 224.30,687.28 224.40,687.28 224.50,687.28 224.60,687.28 224.70,687.28 224.80,687.28 224.90,687.28 225.00,687.28 225.10,687.27 225.20,687.27 225.30,687.27 225.40,687.27 225.50,687.27 225.60,687.27 225.70,687.27 225.80,687.27 225.90,687.27 226.00,687.27 226.10,687.27 226.20,687.27 226.30,687.27 226.40,687.27 226.50,687.27 226.60,687.27 226.70,687.27 226.80,687.27 226.90,687.27 227.00,687.27 227.10,687.27 227.20,687.27 227.30,687.27 227.40,687.27 227.50,687.27 227.60,687.27 227.70,687.27 227.80,687.27 227.90,687.27 228.00,687.26 228.10,687.26 228.20,687.26 228.30,687.26 228.40,687.26 228.50,687.26 228.60,687.26 228.70,687.26 228.80,687.26 228.90,687.26 229.00,687.26 229.10,687.26 229.20,687.26 229.30,687.26 229.40,687.26 229.50,687.26 229.60,687.26 229.70,687.26 229.80,687.26 229.90,687.25 230.00,687.25 230.10,687.25 230.20,687.25 230.30,687.25 230.40,687.25 230.50,687.25 230.60,687.25 230.70,687.25 230.80,687.25 230.90,687.25 231.00,687.25 231.10,687.25 231.20,687.25 231.30,687.24 231.40,687.24 231.50,687.24 231.60,687.24 231.70,687.24 231.80,687.24 231.90,687.24 232.00,687.24 232.10,687.24 232.20,687.24 232.30,687.23 232.40,687.23 232.50,687.23 232.60,687.23 232.70,687.23 232.80,687.23 232.90,687.23 233.00,687.23 233.10,687.22 233.20,687.22 233.30,687.22 233.40,687.22 233.50,687.22 233.60,687.22 233.70,687.22 233.80,687.21 233.90,687.21 234.00,687.21 234.10,687.21 234.20,687.21 234.30,687.21 234.40,687.20 234.50,687.20 234.60,687.20 234.70,687.20 234.80,687.19 234.90,687.19 235.00,687.19 235.10,687.19 235.20,687.19 235.30,687.18 235.40,687.18 235.50,687.18 235.60,687.17 235.70,687.17 235.80,687.17 235.90,687.17 236.00,687.16 236.10,687.16 236.20,687.16 236.30,687.15 236.40,687.15 236.50,687.15 236.60,687.14 236.70,687.14 236.80,687.13 236.90,687.13 237.00,687.12 237.10,687.12 237.20,687.11 237.30,687.11 237.40,687.10 237.50,687.10 237.60,687.09 237.70,687.09 237.80,687.08 237.90,687.08 238.00,687.07 238.10,687.06 238.20,687.05 238.30,687.05 238.40,687.04 238.50,687.03 238.60,687.02 238.70,687.01 238.80,687.01 238.90,687.00 239.00,686.99 239.10,686.98 239.20,686.97 239.30,686.96 239.40,686.94 239.50,686.93 239.60,686.92 239.70,686.91 239.80,686.89 239.90,686.88 240.00,686.87 240.10,686.85 240.20,686.84 240.30,686.82 240.40,686.80 240.50,686.79 240.60,686.77 240.70,686.75 240.80,686.73 240.90,686.71 241.00,686.69 241.10,686.67 241.20,686.65 241.30,686.63 241.40,686.61 241.50,686.59 241.60,686.57 241.70,686.54 241.80,686.52 241.90,686.50 242.00,686.48 242.10,686.46 242.20,686.44 242.30,686.42 242.40,686.41 242.50,686.39 242.60,686.37 242.70,686.36 242.80,686.35 242.90,686.34 243.00,686.33 243.10,686.33 243.20,686.32 243.30,686.32 243.40,686.32 243.50,686.33 243.60,686.33 243.70,686.34 243.80,686.35 243.90,686.36 244.00,686.37 244.10,686.39 244.20,686.41 244.30,686.42 244.40,686.44 244.50,686.46 244.60,686.48 244.70,686.50 244.80,686.52 244.90,686.54 245.00,686.57 245.10,686.59 245.20,686.61 245.30,686.63 245.40,686.65 245.50,686.67 245.60,686.69 245.70,686.71 245.80,686.73 245.90,686.75 246.00,686.77 246.10,686.79 246.20,686.80 246.30,686.82 246.40,686.84 246.50,686.85 246.60,686.87 246.70,686.88 246.80,686.89 246.90,686.91 247.00,686.92 247.10,686.93 247.20,686.94 247.30,686.96 247.40,686.97 247.50,686.98 247.60,686.99 247.70,687.00 247.80,687.01 247.90,687.01 248.00,687.02 248.10,687.03 248.20,687.04 248.30,687.05 248.40,687.05 248.50,687.06 248.60,687.07 248.70,687.08 248.80,687.08 248.90,687.09 249.00,687.09 249.10,687.10 249.20,687.10 249.30,687.11 249.40,687.11 249.50,687.12 249.60,687.12 249.70,687.13 249.80,687.13 249.90,687.14 250.00,687.14 250.10,687.15 250.20,687.15 250.30,687.15 250.40,687.16 250.50,687.16 250.60,687.16 250.70,687.17 250.80,687.17 250.90,687.17 251.00,687.17 251.10,687.18 251.20,687.18 251.30,687.18 251.40,687.19 251.50,687.19 251.60,687.19 251.70,687.19 251.80,687.19 251.90,687.20 252.00,687.20 252.10,687.20 252.20,687.20 252.30,687.21 252.40,687.21 252.50,687.21 252.60,687.21 252.70,687.21 252.80,687.21 252.90,687.22 253.00,687.22 253.10,687.22 253.20,687.22 253.30,687.22 253.40,687.22 253.50,687.22 253.60,687.23 253.70,687.23 253.80,687.23 253.90,687.23 254.00,687.23 254.10,687.23 254.20,687.23 254.30,687.23 254.40,687.24 254.50,687.24 254.60,687.24 254.70,687.24 254.80,687.24 254.90,687.24 255.00,687.24 255.10,687.24 255.20,687.24 255.30,687.24 255.40,687.25 255.50,687.25 255.60,687.25 255.70,687.25 255.80,687.25 255.90,687.25 256.00,687.25 256.10,687.25 256.20,687.25 256.30,687.25 256.40,687.25 256.50,687.25 256.60,687.25 256.70,687.25 256.80,687.26 256.90,687.26 257.00,687.26 257.10,687.26 257.20,687.26 257.30,687.26 257.40,687.26 257.50,687.26 257.60,687.26 257.70,687.26 257.80,687.26 257.90,687.26 258.00,687.26 258.10,687.26 258.20,687.26 258.30,687.26 258.40,687.26 258.50,687.26 258.60,687.26 258.70,687.27 258.80,687.27 258.90,687.27 259.00,687.27 259.10,687.27 259.20,687.27 259.30,687.27 259.40,687.27 259.50,687.27 259.60,687.27 259.70,687.27 259.80,687.27 259.90,687.27 260.00,687.27 260.10,687.27 260.20,687.27 260.30,687.27 260.40,687.27 260.50,687.27 260.60,687.27 260.70,687.27 260.80,687.27 260.90,687.27 261.00,687.27 261.10,687.27 261.20,687.27 261.30,687.27 261.40,687.27 261.50,687.27 261.60,687.28 261.70,687.28 261.80,687.28 261.90,687.28 262.00,687.28 262.10,687.28 262.20,687.28 262.30,687.28 262.40,687.28 262.50,687.28 262.60,687.28 262.70,687.28 262.80,687.28 262.90,687.28 263.00,687.28 263.10,687.28 263.20,687.28 263.30,687.28 263.40,687.28 263.50,687.28 263.60,687.28 263.70,687.28 263.80,687.28 263.90,687.28 264.00,687.28 264.10,687.28 264.20,687.28 264.30,687.28 264.40,687.28 264.50,687.28 264.60,687.28 264.70,687.28 264.80,687.28 264.90,687.28 265.00,687.28 265.10,687.28 265.20,687.28 265.30,687.28 265.40,687.28 265.50,687.28 265.60,687.28 265.70,687.28 265.80,687.28 265.90,687.28 266.00,687.28 266.10,687.28 266.20,687.28 266.30,687.28 266.40,687.28 266.50,687.28 266.60,687.28 266.70,687.28 266.80,687.28 266.90,687.28 267.00,687.29 267.10,687.29 267.20,687.29 267.30,687.29 267.40,687.29 267.50,687.29 267.60,687.29 267.70,687.29 267.80,687.29 267.90,687.29 268.00,687.29 268.10,687.29 268.20,687.29 268.30,687.29 268.40,687.29 268.50,687.29 268.60,687.29 268.70,687.29 268.80,687.29 268.90,687.29 269.00,687.29 269.10,687.29 269.20,687.29 269.30,687.29 269.40,687.29 269.50,687.29 269.60,687.29 269.70,687.29 269.80,687.29 269.90,687.29 270.00,687.29 270.10,687.29 270.20,687.29 270.30,687.29 270.40,687.29 270.50,687.29 270.60,687.29 270.70,687.29 270.80,687.29 270.90,687.29 271.00,687.29 271.10,687.29 271.20,687.29 271.30,687.29 271.40,687.29 271.50,687.29 271.60,687.29 271.70,687.29 271.80,687.29 271.90,687.29 272.00,687.29 272.10,687.29 272.20,687.29 272.30,687.29 272.40,687.29 272.50,687.29 272.60,687.29 272.70,687.29 272.80,687.29 272.90,687.29 273.00,687.29 273.10,687.29 273.20,687.29 273.30,687.29 273.40,687.29 273.50,687.29 273.60,687.29 273.70,687.29 273.80,687.29 273.90,687.29 274.00,687.29 274.10,687.29 274.20,687.29 274.30,687.29 274.40,687.29 274.50,687.29 274.60,687.29 274.70,687.29 274.80,687.29 274.90,687.29 275.00,687.29 275.10,687.29 275.20,687.29 275.30,687.29 275.40,687.29 275.50,687.29 275.60,687.29 275.70,687.29 275.80,687.29 275.90,687.29 276.00,687.29 276.10,687.29 276.20,687.29 276.30,687.29 276.40,687.29 276.50,687.29 276.60,687.29 276.70,687.29 276.80,687.29 276.90,687.29 277.00,687.29 277.10,687.29 277.20,687.29 277.30,687.29 277.40,687.29 277.50,687.29 277.60,687.29 277.70,687.29 277.80,687.29 277.90,687.29 278.00,687.29 278.10,687.29 278.20,687.29 278.30,687.29 278.40,687.29 278.50,687.29 278.60,687.29 278.70,687.29 278.80,687.29 278.90,687.29 279.00,687.29 279.10,687.29 279.20,687.29 279.30,687.29 279.40,687.29 279.50,687.29 279.60,687.29 279.70,687.29 279.80,687.29 279.90,687.29 280.00,687.29 280.10,687.29 280.20,687.29 280.30,687.29 280.40,687.29 280.50,687.29 280.60,687.29 280.70,687.29 280.80,687.29 280.90,687.29 281.00,687.29 281.10,687.29 281.20,687.29 281.30,687.29 281.40,687.29 281.50,687.29 281.60,687.29 281.70,687.29 281.80,687.29 281.90,687.29 282.00,687.29 282.10,687.29 282.20,687.29 282.30,687.29 282.40,687.29 282.50,687.29 282.60,687.29 282.70,687.29 282.80,687.29 282.90,687.29 283.00,687.29 283.10,687.29 283.20,687.29 284.10,687.29 285.10,687.30 286.10,687.30 287.10,687.30 288.10,687.30 289.10,687.30 290.10,687.30 291.10,687.30 292.10,687.30 293.10,687.30 294.10,687.30 295.10,687.30 296.10,687.30 297.10,687.30 298.10,687.30 299.10,687.30 300.10,687.30 301.10,687.30 302.10,687.30 303.10,687.30 304.10,687.30 305.10,687.30 306.10,687.30 307.10,687.30 308.10,687.30 309.10,687.30 310.10,687.30 311.10,687.30 312.10,687.30 313.10,687.30 314.10,687.30 315.10,687.30 316.10,687.30 317.10,687.30 318.10,687.30 319.10,687.30 320.10,687.30 321.10,687.30 322.10,687.30 323.10,687.30 324.10,687.30 325.10,687.30 326.10,687.30 327.10,687.30 328.10,687.30 329.10,687.30 330.10,687.30 331.10,687.30 332.10,687.30 333.10,687.30 334.10,687.30 335.10,687.30 336.10,687.30 337.10,687.30 338.10,687.30 339.10,687.30 340.10,687.30 341.10,687.30 342.10,687.30 343.10,687.30 344.10,687.30 345.10,687.30 346.10,687.30 347.10,687.30 348.10,687.30 349.10,687.30 350.10,687.30 351.10,687.30 352.10,687.30 353.10,687.30 354.10,687.30 355.10,687.30 356.10,687.30 357.10,687.30 358.10,687.30 359.10,687.30 360.10,687.30 361.10,687.30 362.10,687.30 363.10,687.30 364.10,687.30 365.10,687.30 366.10,687.30 367.10,687.30 368.10,687.30 369.10,687.30 370.10,687.30 371.10,687.30 372.10,687.30 373.10,687.30 374.10,687.30 375.10,687.30 376.10,687.30 377.10,687.30 378.10,687.30 379.10,687.30 380.10,687.30 381.10,687.30 382.10,687.30 383.10,687.30 384.10,687.30 385.10,687.30 386.10,687.30 387.10,687.30 388.10,687.30 389.10,687.30 390.10,687.30 391.10,687.30 392.10,687.30 393.10,687.30 394.10,687.30 395.10,687.30 396.10,687.30 397.10,687.30 398.10,687.30 399.10,687.30 400.10,687.30 401.10,687.30 402.10,687.30 403.10,687.30 404.10,687.30 405.10,687.30 406.10,687.30 407.10,687.30 408.10,687.30 409.10,687.30 410.10,687.30 411.10,687.30 412.10,687.30 413.10,687.30 414.10,687.30 415.10,687.30 416.10,687.30 417.10,687.30 418.10,687.30 419.10,687.30 420.10,687.30 421.10,687.30 422.10,687.30 423.10,687.30 424.10,687.30 425.10,687.30 426.10,687.30 427.10,687.30 428.10,687.30 429.10,687.30 430.10,687.30 431.10,687.30 432.10,687.30 433.10,687.30 434.10,687.30 435.10,687.30 436.10,687.30 437.10,687.30 438.10,687.30 439.10,687.30 440.10,687.30 441.10,687.30 442.10,687.30 443.10,687.30 444.10,687.30 445.10,687.30 446.10,687.30 447.10,687.30 448.10,687.30 449.10,687.30 450.10,687.30 451.10,687.30 452.10,687.30 453.10,687.30 454.10,687.30 455.10,687.30 456.10,687.30 457.10,687.30 458.10,687.30 459.10,687.30 460.10,687.30 461.10,687.30 462.10,687.30 463.10,687.30 464.10,687.30 465.10,687.30 466.10,687.30 467.10,687.30 468.10,687.30 469.10,687.30 470.10,687.30 471.10,687.30 472.10,687.30 473.10,687.30 474.10,687.30 475.10,687.30 476.10,687.30 477.10,687.30 478.10,687.30 479.10,687.30 480.10,687.30 481.10,687.30 482.10,687.30 483.10,687.30 484.10,687.30 485.10,687.30 486.10,687.30 487.10,687.30 488.10,687.30 489.10,687.30 490.10,687.30 491.10,687.30 492.10,687.30 493.10,687.30 494.10,687.30 495.10,687.30 496.10,687.30 497.10,687.30 498.10,687.30 499.10,687.30 500.10,687.30 501.10,687.30 502.10,687.30 503.10,687.30 504.10,687.30 505.10,687.30 506.10,687.30 507.10,687.30 508.10,687.30 509.10,687.30 510.10,687.30 511.10,687.30 512.10,687.30 513.10,687.30 514.10,687.30 515.10,687.30 516.10,687.30 517.10,687.30 518.10,687.30 519.10,687.30 520.10,687.30 521.10,687.30 522.10,687.30 523.10,687.30 524.10,687.30 525.10,687.30 526.10,687.30 527.10,687.30 528.10,687.30 529.10,687.30 530.10,687.30 531.10,687.30 532.10,687.30 533.10,687.30 534.10,687.30 535.10,687.30 536.10,687.30 537.10,687.30 538.10,687.30 539.10,687.30 540.10,687.30 541.10,687.30 542.10,687.30 543.10,687.30 544.10,687.30 545.10,687.30 546.10,687.30 547.10,687.30 548.10,687.30 549.10,687.30 550.10,687.30 551.10,687.30 552.10,687.30 553.10,687.30 554.10,687.30 555.10,687.30 556.10,687.30 557.10,687.30 558.10,687.30 559.10,687.30 560.10,687.30 561.10,687.30 562.10,687.30 563.10,687.30 564.10,687.30 565.10,687.30 566.10,687.30 567.10,687.30 568.10,687.30 569.10,687.30 570.10,687.30 571.10,687.30 572.10,687.30 573.10,687.30 574.10,687.30 575.10,687.30 576.10,687.30 577.10,687.30 578.10,687.30 579.10,687.30 580.10,687.30 581.10,687.30 582.10,687.30 583.10,687.30 584.10,687.30 585.10,687.30 586.10,687.30 587.10,687.30 588.10,687.30 589.10,687.30 590.10,687.30 591.10,687.30 592.10,687.30 593.10,687.30 594.10,687.30 595.10,687.30 596.10,687.30 597.10,687.30 598.10,687.30 599.10,687.30 600.10,687.30 601.10,687.30 602.10,687.30 603.10,687.30 604.10,687.30 605.10,687.30 606.10,687.30 607.10,687.30 608.10,687.30 609.10,687.30 610.10,687.30 611.10,687.30 612.10,687.30 613.10,687.30 614.10,687.30 615.10,687.30 616.10,687.30 617.10,687.30 618.10,687.30 619.10,687.30 620.10,687.30 621.10,687.30 622.10,687.30 623.10,687.30 624.10,687.30 625.10,687.30 626.10,687.30 627.10,687.30 628.10,687.30 629.10,687.30 630.10,687.30 631.10,687.30 632.10,687.30 633.10,687.30 634.10,687.30 635.10,687.30 636.10,687.30 637.10,687.30 638.10,687.30 639.10,687.30 640.10,687.30 641.10,687.30 642.10,687.30 643.10,687.30 644.10,687.30 645.10,687.30 646.10,687.30 647.10,687.30 648.10,687.30 649.10,687.30 650.10,687.30 651.10,687.30 652.10,687.30 653.10,687.30 654.10,687.30 655.10,687.30 656.10,687.30 657.10,687.30 658.10,687.30 659.10,687.30 660.10,687.30 661.10,687.30 662.10,687.30 663.10,687.30 664.10,687.30 665.10,687.30 666.10,687.30 667.10,687.30 668.10,687.30 669.10,687.30 670.10,687.30 671.10,687.30 672.10,687.30 673.10,687.30 674.10,687.30 675.10,687.30 676.10,687.30 677.10,687.30 678.10,687.30 679.10,687.30 680.10,687.30 681.10,687.30 682.10,687.30 683.10,687.30 684.10,687.30 685.10,687.30 686.10,687.30 687.10,687.30 688.10,687.30 689.10,687.30 690.10,687.30 691.10,687.30 692.10,687.30 693.10,687.30 694.10,687.30 695.10,687.30 696.10,687.30 697.10,687.30 698.10,687.30 699.10,687.30 700.10,687.30 701.10,687.30 702.10,687.30 703.10,687.30 704.10,687.30 705.10,687.30 706.10,687.30 707.10,687.30 708.10,687.30 709.10,687.30 710.10,687.30 711.10,687.30 712.10,687.30 713.10,687.30 714.10,687.30 715.10,687.30 716.10,687.30 717.10,687.30 718.10,687.30 719.10,687.30 720.10,687.30 721.10,687.30 722.10,687.30 723.10,687.30 724.10,687.30 725.10,687.30 726.10,687.30 727.10,687.30 728.10,687.30 729.10,687.30 730.10,687.30 731.10,687.30 732.10,687.30 733.10,687.30 734.10,687.30 735.10,687.30 736.10,687.30 737.10,687.30 738.10,687.30 739.10,687.30 740.10,687.30 741.10,687.30 742.10,687.30 743.10,687.30 744.10,687.30 745.10,687.30 746.10,687.30 747.10,687.30 748.10,687.30 749.10,687.30 750.10,687.30 751.10,687.30 752.10,687.30 753.10,687.30 754.10,687.30 755.10,687.30 756.10,687.30 757.10,687.30 758.10,687.30 759.10,687.30 760.10,687.30 761.10,687.30 762.10,687.30 763.10,687.30 764.10,687.30 765.10,687.30 766.10,687.30 767.10,687.30 768.10,687.30 769.10,687.30 770.10,687.30 771.10,687.30 772.10,687.30 773.10,687.30 774.10,687.30 775.10,687.30 776.10,687.30 777.10,687.30 778.10,687.30 779.10,687.30 780.10,687.30 781.10,687.30 782.10,687.30 783.10,687.30 784.10,687.30 785.10,687.30 786.10,687.30 787.10,687.30 788.10,687.30 789.10,687.30 790.10,687.30 791.10,687.30 792.10,687.30 793.10,687.30 794.10,687.30 795.10,687.30 796.10,687.30 797.10,687.30 798.10,687.30 799.10,687.30 800.10,687.30 801.10,687.30 802.10,687.30 803.10,687.30 804.10,687.30 805.10,687.30 806.10,687.30 807.10,687.30 808.10,687.30 809.10,687.30 810.00,687.30 810.00,687.12 810.10,687.12 811.10,687.12 812.10,687.12 813.10,687.12 814.10,687.12 815.10,687.12 816.10,687.12 817.10,687.12 818.10,687.12 819.10,687.12 820.10,687.12 821.10,687.12 822.10,687.12 823.10,687.12 824.10,687.12 825.10,687.12 826.10,687.12 827.10,687.12 828.10,687.12 829.10,687.12 830.10,687.12 831.10,687.12 832.10,687.12 833.10,687.12 834.10,687.12 835.10,687.12 836.10,687.12 837.10,687.12 838.10,687.12 839.10,687.12 840.10,687.12 841.10,687.12 842.10,687.12 843.10,687.12 844.10,687.11 845.10,687.11 846.10,687.11 847.10,687.11 848.10,687.11 849.10,687.11 850.10,687.11 851.10,687.11 852.10,687.11 853.10,687.11 854.10,687.11 855.10,687.11 856.10,687.11 857.10,687.11 858.10,687.11 859.10,687.11 860.10,687.11 861.10,687.11 862.10,687.11 863.10,687.11 864.10,687.11 865.10,687.11 866.10,687.11 867.10,687.11 868.10,687.11 869.10,687.11 870.10,687.11 871.10,687.11 872.10,687.11 873.10,687.11 874.10,687.11 875.10,687.11 876.10,687.11 877.10,687.10 878.10,687.10 879.10,687.10 880.10,687.10 881.10,687.10 882.10,687.10 883.10,687.10 884.10,687.10 885.10,687.10 886.10,687.10 887.10,687.10 888.10,687.10 889.10,687.10 890.10,687.10 891.10,687.10 892.10,687.10 893.10,687.10 894.10,687.10 895.10,687.10 896.10,687.10 897.10,687.10 898.10,687.10 899.10,687.10 900.10,687.10 901.10,687.10 902.10,687.10 903.10,687.10 904.10,687.10 905.10,687.10 906.10,687.09 907.10,687.09 908.10,687.09 909.10,687.09 910.10,687.09 911.10,687.09 912.10,687.09 913.10,687.09 914.10,687.09 915.10,687.09 916.10,687.09 917.10,687.09 918.10,687.09 919.10,687.09 920.10,687.09 921.10,687.09 922.10,687.09 923.10,687.09 924.10,687.09 925.10,687.09 926.10,687.09 927.10,687.09 928.10,687.09 929.10,687.09 930.10,687.08 931.10,687.08 932.10,687.08 933.10,687.08 934.10,687.08 935.10,687.08 936.10,687.08 937.10,687.08 938.10,687.08 939.10,687.08 940.10,687.08 941.10,687.08 942.10,687.08 943.10,687.08 944.10,687.08 945.10,687.08 946.10,687.08 947.10,687.08 948.10,687.08 949.10,687.08 950.10,687.07 951.10,687.07 952.10,687.07 953.10,687.07 954.10,687.07 955.10,687.07 956.10,687.07 957.10,687.07 958.10,687.07 959.10,687.07 960.10,687.07 961.10,687.07 962.10,687.07 963.10,687.07 964.10,687.07 965.10,687.06 966.10,687.06 967.10,687.06 968.10,687.06 969.10,687.06 970.10,687.06 971.10,687.06 972.10,687.06 973.10,687.06 974.10,687.06 975.10,687.06 976.10,687.06 977.10,687.05 978.10,687.05 979.10,687.05 980.10,687.05 981.10,687.05 982.10,687.05 983.10,687.05 984.10,687.05 985.10,687.05 986.10,687.05 987.10,687.04 988.10,687.04 989.10,687.04 990.10,687.04 991.10,687.04 992.10,687.04 993.10,687.04 994.10,687.04 995.10,687.03 996.10,687.03 997.10,687.03 998.10,687.03 999.10,687.03 1000.10,687.03 1001.10,687.03 1002.10,687.02 1003.10,687.02 1004.10,687.02 1005.10,687.02 1006.10,687.02 1007.10,687.01 1008.10,687.01 1009.10,687.01 1010.10,687.01 1011.10,687.01 1012.10,687.00 1013.10,687.00 1014.10,687.00 1015.10,687.00 1016.10,686.99 1017.10,686.99 1018.10,686.99 1019.10,686.99 1020.10,686.98 1021.10,686.98 1022.10,686.98 1023.10,686.97 1024.10,686.97 1025.10,686.97 1026.10,686.96 1027.10,686.96 1028.10,686.96 1029.10,686.95 1030.10,686.95 1031.10,686.94 1032.10,686.94 1033.10,686.93 1034.10,686.93 1035.10,686.92 1036.10,686.92 1037.10,686.91 1038.10,686.91 1039.10,686.90 1040.10,686.89 1041.10,686.89 1042.10,686.88 1043.10,686.87 1044.10,686.87 1045.10,686.86 1046.10,686.85 1047.10,686.84 1048.10,686.83 1049.10,686.82 1050.10,686.81 1051.10,686.80 1052.10,686.79 1053.10,686.78 1054.10,686.76 1055.10,686.75 1056.10,686.74 1057.10,686.72 1058.10,686.71 1059.10,686.69 1060.10,686.67 1061.10,686.65 1062.10,686.63 1063.10,686.61 1064.10,686.59 1065.10,686.56 1066.10,686.54 1066.72,686.52 1066.82,686.52 1066.92,686.51 1067.02,686.51 1067.10,686.51 1067.12,686.51 1067.22,686.50 1067.32,686.50 1067.42,686.50 1067.52,686.49 1067.62,686.49 1067.72,686.49 1067.82,686.49 1067.92,686.48 1068.02,686.48 1068.10,686.48 1068.12,686.48 1068.22,686.47 1068.32,686.47 1068.42,686.47 1068.52,686.46 1068.62,686.46 1068.72,686.46 1068.82,686.45 1068.92,686.45 1069.02,686.45 1069.10,686.44 1069.12,686.44 1069.22,686.44 1069.32,686.44 1069.42,686.43 1069.52,686.43 1069.62,686.43 1069.72,686.42 1069.82,686.42 1069.92,686.41 1070.02,686.41 1070.10,686.41 1070.12,686.41 1070.22,686.40 1070.32,686.40 1070.42,686.40 1070.52,686.39 1070.62,686.39 1070.72,686.38 1070.82,686.38 1070.92,686.38 1071.02,686.37 1071.10,686.37 1071.12,686.37 1071.22,686.36 1071.32,686.36 1071.42,686.36 1071.52,686.35 1071.62,686.35 1071.72,686.34 1071.82,686.34 1071.92,686.34 1072.02,686.33 1072.10,686.33 1072.12,686.33 1072.22,686.32 1072.32,686.32 1072.42,686.31 1072.52,686.31 1072.62,686.30 1072.72,686.30 1072.82,686.30 1072.92,686.29 1073.02,686.29 1073.10,686.28 1073.12,686.28 1073.22,686.28 1073.32,686.27 1073.42,686.27 1073.52,686.26 1073.62,686.26 1073.72,686.25 1073.82,686.25 1073.92,686.24 1074.02,686.24 1074.10,686.23 1074.12,686.23 1074.22,686.23 1074.32,686.22 1074.42,686.22 1074.52,686.21 1074.62,686.21 1074.72,686.20 1074.82,686.19 1074.92,686.19 1075.02,686.18 1075.10,686.18 1075.12,686.18 1075.22,686.17 1075.32,686.17 1075.42,686.16 1075.52,686.16 1075.62,686.15 1075.72,686.14 1075.82,686.14 1075.92,686.13 1076.02,686.13 1076.10,686.12 1076.12,686.12 1076.22,686.11 1076.32,686.11 1076.42,686.10 1076.52,686.09 1076.62,686.09 1076.72,686.08 1076.82,686.07 1076.92,686.07 1077.02,686.06 1077.10,686.06 1077.12,686.05 1077.22,686.05 1077.32,686.04 1077.42,686.03 1077.52,686.03 1077.62,686.02 1077.72,686.01 1077.82,686.01 1077.92,686.00 1078.02,685.99 1078.10,685.98 1078.12,685.98 1078.22,685.98 1078.32,685.97 1078.42,685.96 1078.52,685.95 1078.62,685.94 1078.72,685.94 1078.82,685.93 1078.92,685.92 1079.02,685.91 1079.10,685.91 1079.12,685.90 1079.22,685.90 1079.32,685.89 1079.42,685.88 1079.52,685.87 1079.62,685.86 1079.72,685.85 1079.82,685.84 1079.92,685.84 1080.02,685.83 1080.10,685.82 1080.12,685.82 1080.22,685.81 1080.32,685.80 1080.42,685.79 1080.52,685.78 1080.62,685.77 1080.72,685.76 1080.82,685.75 1080.92,685.74 1081.02,685.73 1081.10,685.72 1081.12,685.72 1081.22,685.71 1081.32,685.70 1081.42,685.69 1081.52,685.68 1081.62,685.67 1081.72,685.66 1081.82,685.65 1081.92,685.63 1082.02,685.62 1082.10,685.61 1082.12,685.61 1082.22,685.60 1082.32,685.59 1082.42,685.58 1082.52,685.56 1082.62,685.55 1082.72,685.54 1082.82,685.53 1082.92,685.51 1083.02,685.50 1083.10,685.49 1083.12,685.49 1083.22,685.48 1083.32,685.46 1083.42,685.45 1083.52,685.44 1083.62,685.42 1083.72,685.41 1083.82,685.39 1083.92,685.38 1084.02,685.37 1084.10,685.35 1084.12,685.35 1084.22,685.34 1084.32,685.32 1084.42,685.31 1084.52,685.29 1084.62,685.28 1084.72,685.26 1084.82,685.24 1084.92,685.23 1085.02,685.21 1085.10,685.20 1085.12,685.20 1085.22,685.18 1085.32,685.16 1085.42,685.15 1085.52,685.13 1085.62,685.11 1085.72,685.09 1085.82,685.07 1085.92,685.06 1086.02,685.04 1086.10,685.02 1086.12,685.02 1086.22,685.00 1086.32,684.98 1086.42,684.96 1086.52,684.94 1086.62,684.92 1086.72,684.90 1086.82,684.88 1086.92,684.86 1087.02,684.84 1087.10,684.82 1087.12,684.81 1087.22,684.79 1087.32,684.77 1087.42,684.75 1087.52,684.72 1087.62,684.70 1087.72,684.68 1087.82,684.65 1087.90,684.63 1087.92,684.63 1088.00,684.61 1088.02,684.60 1088.10,684.58 1088.12,684.58 1088.20,684.56 1088.22,684.55 1088.30,684.53 1088.32,684.53 1088.40,684.51 1088.42,684.50 1088.50,684.48 1088.52,684.47 1088.60,684.45 1088.62,684.45 1088.70,684.42 1088.72,684.42 1088.80,684.40 1088.82,684.39 1088.90,684.37 1088.92,684.36 1089.00,684.34 1089.02,684.33 1089.10,684.31 1089.12,684.30 1089.20,684.28 1089.22,684.27 1089.30,684.25 1089.32,684.24 1089.40,684.22 1089.42,684.21 1089.50,684.19 1089.52,684.18 1089.60,684.15 1089.62,684.15 1089.70,684.12 1089.72,684.12 1089.80,684.09 1089.82,684.08 1089.90,684.06 1089.92,684.05 1090.00,684.02 1090.02,684.01 1090.10,683.99 1090.12,683.98 1090.20,683.95 1090.22,683.94 1090.30,683.91 1090.32,683.91 1090.40,683.88 1090.42,683.87 1090.50,683.84 1090.52,683.83 1090.60,683.80 1090.62,683.80 1090.70,683.76 1090.72,683.76 1090.80,683.73 1090.82,683.72 1090.90,683.69 1090.92,683.68 1091.00,683.64 1091.02,683.64 1091.10,683.60 1091.12,683.59 1091.20,683.56 1091.22,683.55 1091.30,683.52 1091.32,683.51 1091.40,683.47 1091.42,683.47 1091.50,683.43 1091.52,683.42 1091.60,683.38 1091.62,683.38 1091.70,683.34 1091.72,683.33 1091.80,683.29 1091.82,683.28 1091.90,683.24 1091.92,683.23 1092.00,683.19 1092.02,683.18 1092.10,683.14 1092.12,683.13 1092.20,683.09 1092.22,683.08 1092.30,683.04 1092.32,683.03 1092.40,682.99 1092.42,682.98 1092.50,682.93 1092.52,682.92 1092.60,682.88 1092.62,682.87 1092.70,682.82 1092.72,682.81 1092.80,682.76 1092.82,682.75 1092.90,682.71 1092.92,682.69 1093.00,682.65 1093.02,682.63 1093.10,682.58 1093.12,682.57 1093.20,682.52 1093.22,682.51 1093.30,682.46 1093.32,682.45 1093.40,682.39 1093.42,682.38 1093.50,682.33 1093.52,682.31 1093.60,682.26 1093.62,682.25 1093.70,682.19 1093.72,682.18 1093.80,682.12 1093.82,682.10 1093.90,682.05 1093.92,682.03 1094.00,681.97 1094.02,681.96 1094.10,681.90 1094.12,681.88 1094.20,681.82 1094.22,681.80 1094.30,681.74 1094.32,681.72 1094.40,681.66 1094.42,681.64 1094.50,681.57 1094.52,681.56 1094.60,681.49 1094.62,681.47 1094.70,681.40 1094.72,681.38 1094.80,681.31 1094.82,681.29 1094.90,681.22 1094.92,681.20 1095.00,681.13 1095.02,681.11 1095.10,681.03 1095.12,681.01 1095.20,680.93 1095.22,680.91 1095.30,680.83 1095.32,680.81 1095.40,680.73 1095.42,680.71 1095.50,680.62 1095.52,680.60 1095.60,680.51 1095.62,680.49 1095.70,680.40 1095.72,680.38 1095.80,680.29 1095.82,680.26 1095.90,680.17 1095.92,680.15 1096.00,680.05 1096.02,680.03 1096.10,679.93 1096.12,679.90 1096.20,679.80 1096.22,679.77 1096.30,679.67 1096.32,679.64 1096.40,679.53 1096.42,679.51 1096.50,679.40 1096.52,679.37 1096.60,679.25 1096.62,679.23 1096.70,679.11 1096.72,679.08 1096.80,678.96 1096.82,678.93 1096.90,678.80 1096.92,678.77 1097.00,678.64 1097.02,678.61 1097.10,678.48 1097.12,678.45 1097.20,678.31 1097.22,678.28 1097.30,678.14 1097.32,678.10 1097.40,677.96 1097.42,677.92 1097.50,677.77 1097.52,677.74 1097.60,677.58 1097.62,677.54 1097.70,677.39 1097.72,677.35 1097.80,677.18 1097.82,677.14 1097.90,676.97 1097.92,676.93 1098.00,676.76 1098.02,676.71 1098.10,676.53 1098.12,676.49 1098.20,676.30 1098.22,676.26 1098.30,676.07 1098.32,676.02 1098.40,675.82 1098.42,675.77 1098.50,675.56 1098.52,675.51 1098.60,675.30 1098.62,675.25 1098.70,675.03 1098.72,674.97 1098.80,674.74 1098.82,674.68 1098.90,674.45 1098.92,674.39 1099.00,674.14 1099.02,674.08 1099.10,673.83 1099.12,673.76 1099.20,673.50 1099.22,673.43 1099.30,673.16 1099.32,673.09 1099.40,672.81 1099.42,672.74 1099.50,672.44 1099.52,672.37 1099.60,672.06 1099.62,671.98 1099.70,671.66 1099.72,671.58 1099.80,671.25 1099.82,671.16 1099.90,670.82 1099.92,670.73 1100.00,670.37 1100.02,670.28 1100.10,669.90 1100.12,669.81 1100.20,669.42 1100.22,669.32 1100.30,668.91 1100.32,668.80 1100.40,668.37 1100.42,668.27 1100.50,667.82 1100.52,667.71 1100.60,667.24 1100.62,667.12 1100.70,666.63 1100.72,666.51 1100.80,666.00 1100.82,665.86 1100.90,665.33 1100.92,665.19 1101.00,664.63 1101.02,664.49 1101.10,663.90 1101.12,663.74 1101.20,663.12 1101.22,662.97 1101.30,662.31 1101.32,662.15 1101.40,661.46 1101.42,661.29 1101.50,660.57 1101.52,660.38 1101.60,659.62 1101.62,659.43 1101.70,658.62 1101.72,658.42 1101.80,657.57 1101.82,657.35 1101.90,656.46 1101.92,656.23 1102.00,655.28 1102.02,655.04 1102.10,654.04 1102.12,653.78 1102.20,652.72 1102.22,652.45 1102.30,651.32 1102.32,651.03 1102.40,649.83 1102.42,649.53 1102.50,648.25 1102.52,647.93 1102.60,646.57 1102.62,646.22 1102.70,644.78 1102.72,644.40 1102.80,642.86 1102.82,642.46 1102.90,640.82 1102.92,640.39 1103.00,638.63 1103.02,638.17 1103.10,636.28 1103.12,635.79 1103.20,633.77 1103.22,633.24 1103.30,631.06 1103.32,630.50 1103.40,628.15 1103.42,627.54 1103.50,625.01 1103.52,624.36 1103.60,621.63 1103.62,620.92 1103.70,617.97 1103.72,617.20 1103.80,614.00 1103.82,613.17 1103.90,609.70 1103.92,608.80 1104.00,605.03 1104.02,604.04 1104.10,599.94 1104.12,598.87 1104.20,594.39 1104.22,593.23 1104.30,588.34 1104.32,587.06 1104.40,581.71 1104.42,580.31 1104.50,574.45 1104.52,572.92 1104.60,566.49 1104.62,564.81 1104.70,557.74 1104.72,555.89 1104.80,548.12 1104.82,546.08 1104.90,537.53 1104.92,535.29 1105.00,525.87 1105.02,523.40 1105.10,513.03 1105.12,510.31 1105.20,498.90 1105.22,495.91 1105.30,483.37 1105.32,480.09 1105.40,466.35 1105.42,462.75 1105.50,447.75 1105.52,443.84 1105.60,427.56 1105.62,423.34 1105.70,405.81 1105.72,401.28 1105.80,382.60 1105.82,377.81 1105.90,358.21 1105.92,353.22 1106.00,333.03 1106.02,327.96 1106.10,307.69 1106.12,302.68 1106.20,283.01 1106.22,278.24 1106.30,260.02 1106.32,255.72 1106.40,239.87 1106.42,236.29 1106.50,223.77 1106.52,221.13 1106.60,212.78 1106.62,211.28 1106.70,207.69 1106.72,207.42 1106.80,208.84 1106.82,209.81 1106.90,216.07 1106.92,218.20 1107.00,228.76 1107.02,231.87 1107.10,245.93 1107.12,249.80 1107.20,266.41 1107.22,270.79 1107.30,288.99 1107.32,293.67 1107.40,312.60 1107.42,317.35 1107.50,336.30 1107.52,340.99 1107.60,359.40 1107.62,363.90 1107.70,381.41 1107.72,385.65 1107.80,402.02 1107.82,405.95 1107.90,421.05 1107.92,424.66 1108.00,438.45 1108.02,441.73 1108.10,454.23 1108.12,457.20 1108.20,468.47 1108.22,471.14 1108.30,481.26 1108.32,483.65 1108.40,492.72 1108.42,494.87 1108.50,503.01 1108.52,504.93 1108.60,512.24 1108.62,513.97 1108.70,520.55 1108.72,522.12 1108.80,528.09 1108.82,529.52 1108.90,534.97 1108.92,536.28 1109.00,541.32 1109.02,542.53 1109.10,547.23 1109.12,548.37 1109.20,552.81 1109.22,553.89 1109.30,558.13 1109.32,559.17 1109.40,563.25 1109.42,564.25 1109.50,568.22 1109.52,569.20 1109.60,573.07 1109.62,574.02 1109.70,577.81 1109.72,578.75 1109.80,582.46 1109.82,583.38 1109.90,587.02 1109.92,587.91 1110.00,591.46 1110.02,592.33 1110.10,595.78 1110.12,596.63 1110.20,599.97 1110.22,600.79 1110.30,604.01 1110.32,604.80 1110.40,607.89 1110.42,608.65 1110.50,611.61 1110.52,612.34 1110.60,615.16 1110.62,615.85 1110.70,618.54 1110.72,619.19 1110.80,621.74 1110.82,622.36 1110.90,624.77 1110.92,625.35 1111.00,627.63 1111.02,628.18 1111.10,630.33 1111.12,630.85 1111.20,632.87 1111.22,633.36 1111.30,635.27 1111.32,635.73 1111.40,637.52 1111.42,637.95 1111.50,639.64 1111.52,640.05 1111.60,641.63 1111.62,642.01 1111.70,643.50 1111.72,643.86 1111.80,645.27 1111.82,645.61 1111.90,646.92 1111.92,647.24 1112.00,648.48 1112.02,648.78 1112.10,649.95 1112.12,650.24 1112.20,651.34 1112.22,651.60 1112.30,652.64 1112.32,652.89 1112.40,653.87 1112.42,654.11 1112.50,655.03 1112.52,655.25 1112.60,656.13 1112.62,656.34 1112.70,657.16 1112.72,657.36 1112.80,658.14 1112.82,658.33 1112.90,659.06 1112.92,659.24 1113.00,659.94 1113.02,660.11 1113.10,660.77 1113.12,660.93 1113.20,661.56 1113.22,661.71 1113.30,662.30 1113.32,662.44 1113.40,663.01 1113.42,663.14 1113.50,663.68 1113.52,663.81 1113.60,664.32 1113.62,664.44 1113.70,664.92 1113.72,665.04 1113.80,665.50 1113.82,665.61 1113.90,666.04 1113.92,666.15 1114.00,666.56 1114.02,666.66 1114.10,667.06 1114.12,667.16 1114.20,667.53 1114.22,667.62 1114.30,667.98 1114.32,668.07 1114.40,668.41 1114.42,668.49 1114.50,668.82 1114.52,668.89 1114.60,669.20 1114.62,669.28 1114.70,669.57 1114.72,669.65 1114.80,669.93 1114.82,670.00 1114.90,670.26 1114.92,670.33 1115.00,670.58 1115.02,670.65 1115.10,670.89 1115.12,670.95 1115.20,671.18 1115.22,671.24 1115.30,671.46 1115.32,671.51 1115.40,671.72 1115.42,671.77 1115.50,671.98 1115.52,672.02 1115.60,672.22 1115.62,672.26 1115.70,672.44 1115.72,672.49 1115.80,672.66 1115.82,672.70 1115.90,672.87 1115.92,672.91 1116.00,673.06 1116.02,673.10 1116.10,673.25 1116.12,673.29 1116.20,673.43 1116.22,673.46 1116.30,673.60 1116.32,673.63 1116.40,673.76 1116.42,673.79 1116.50,673.91 1116.52,673.94 1116.60,674.05 1116.62,674.08 1116.70,674.18 1116.72,674.21 1116.80,674.31 1116.82,674.33 1116.90,674.43 1116.92,674.45 1117.00,674.54 1117.02,674.56 1117.10,674.64 1117.12,674.66 1117.20,674.74 1117.22,674.75 1117.30,674.82 1117.32,674.84 1117.40,674.91 1117.42,674.92 1117.50,674.98 1117.52,675.00 1117.60,675.05 1117.62,675.06 1117.70,675.11 1117.72,675.12 1117.80,675.17 1117.82,675.18 1117.90,675.22 1117.92,675.23 1118.00,675.26 1118.02,675.27 1118.10,675.29 1118.12,675.30 1118.20,675.32 1118.22,675.33 1118.30,675.35 1118.32,675.35 1118.40,675.37 1118.42,675.37 1118.50,675.38 1118.52,675.38 1118.60,675.38 1118.62,675.38 1118.70,675.38 1118.72,675.38 1118.80,675.37 1118.82,675.37 1118.90,675.36 1118.92,675.35 1119.00,675.33 1119.02,675.33 1119.10,675.31 1119.12,675.30 1119.20,675.27 1119.22,675.26 1119.30,675.23 1119.32,675.22 1119.40,675.18 1119.42,675.17 1119.50,675.13 1119.52,675.12 1119.60,675.07 1119.62,675.05 1119.70,675.00 1119.72,674.98 1119.80,674.92 1119.82,674.90 1119.90,674.83 1119.92,674.82 1120.00,674.74 1120.02,674.72 1120.10,674.64 1120.12,674.62 1120.20,674.53 1120.22,674.51 1120.30,674.42 1120.32,674.39 1120.40,674.29 1120.42,674.26 1120.50,674.16 1120.52,674.13 1120.60,674.01 1120.62,673.98 1120.70,673.86 1120.72,673.82 1120.80,673.69 1120.82,673.66 1120.90,673.52 1120.92,673.48 1121.00,673.33 1121.02,673.29 1121.10,673.13 1121.12,673.09 1121.20,672.92 1121.22,672.88 1121.30,672.70 1121.32,672.65 1121.40,672.47 1121.42,672.42 1121.50,672.22 1121.52,672.16 1121.60,671.95 1121.62,671.90 1121.70,671.67 1121.72,671.62 1121.80,671.38 1121.82,671.32 1121.90,671.07 1121.92,671.00 1122.00,670.74 1122.02,670.67 1122.10,670.39 1122.12,670.31 1122.20,670.02 1122.22,669.94 1122.30,669.63 1122.32,669.55 1122.40,669.22 1122.42,669.13 1122.50,668.78 1122.52,668.69 1122.60,668.32 1122.62,668.22 1122.70,667.83 1122.72,667.73 1122.80,667.32 1122.82,667.21 1122.90,666.77 1122.92,666.66 1123.00,666.19 1123.02,666.07 1123.10,665.57 1123.12,665.45 1123.20,664.92 1123.22,664.79 1123.30,664.23 1123.32,664.09 1123.40,663.50 1123.42,663.35 1123.50,662.72 1123.52,662.56 1123.60,661.89 1123.62,661.72 1123.70,661.01 1123.72,660.82 1123.80,660.07 1123.82,659.87 1123.90,659.06 1123.92,658.86 1124.00,657.99 1124.02,657.77 1124.10,656.85 1124.12,656.62 1124.20,655.63 1124.22,655.38 1124.30,654.33 1124.32,654.06 1124.40,652.93 1124.42,652.64 1124.50,651.43 1124.52,651.12 1124.60,649.82 1124.62,649.49 1124.70,648.10 1124.72,647.74 1124.80,646.24 1124.82,645.85 1124.90,644.24 1124.92,643.82 1125.00,642.08 1125.02,641.63 1125.10,639.76 1125.12,639.27 1125.20,637.25 1125.22,636.72 1125.30,634.53 1125.32,633.96 1125.40,631.60 1125.42,630.98 1125.50,628.42 1125.52,627.75 1125.60,624.97 1125.62,624.25 1125.70,621.24 1125.72,620.45 1125.80,617.19 1125.82,616.34 1125.90,612.80 1125.92,611.88 1126.00,608.04 1126.02,607.05 1126.10,602.89 1126.12,601.82 1126.20,597.33 1126.22,596.17 1126.30,591.33 1126.32,590.08 1126.40,584.88 1126.42,583.54 1126.50,577.98 1126.52,576.54 1126.60,570.63 1126.62,569.11 1126.70,562.87 1126.72,561.27 1126.80,554.74 1126.82,553.08 1126.90,546.35 1126.92,544.64 1127.00,537.79 1127.02,536.08 1127.10,529.25 1127.12,527.55 1127.20,520.91 1127.22,519.28 1127.30,513.01 1127.32,511.51 1127.40,505.82 1127.42,504.49 1127.50,499.59 1127.52,498.48 1127.60,494.57 1127.62,493.73 1127.70,490.96 1127.72,490.41 1127.80,488.86 1127.82,488.63 1127.90,488.33 1127.92,488.40 1128.00,489.29 1128.02,489.65 1128.10,491.61 1128.12,492.22 1128.20,495.08 1128.22,495.89 1128.30,499.46 1128.32,500.42 1128.40,504.51 1128.42,505.59 1128.50,510.01 1128.52,511.15 1128.60,515.77 1128.62,516.93 1128.70,521.62 1128.72,522.79 1128.80,527.45 1128.82,528.61 1128.90,533.20 1128.92,534.34 1129.00,538.83 1129.02,539.94 1129.10,544.33 1129.12,545.41 1129.20,549.69 1129.22,550.75 1129.30,554.93 1129.32,555.97 1129.40,560.08 1129.42,561.09 1129.50,565.13 1129.52,566.13 1129.60,570.11 1129.62,571.10 1129.70,575.02 1129.72,575.99 1129.80,579.85 1129.82,580.81 1129.90,584.60 1129.92,585.54 1130.00,589.26 1130.02,590.18 1130.10,593.81 1130.12,594.71 1130.20,598.24 1130.22,599.11 1130.30,602.53 1130.32,603.37 1130.40,606.67 1130.42,607.48 1130.50,610.65 1130.52,611.43 1130.60,614.46 1130.62,615.20 1130.70,618.10 1130.72,618.81 1130.80,621.56 1130.82,622.23 1130.90,624.84 1130.92,625.48 1131.00,627.95 1131.02,628.55 1131.10,630.89 1131.12,631.45 1131.20,633.66 1131.22,634.19 1131.30,636.27 1131.32,636.77 1131.40,638.72 1131.42,639.20 1131.50,641.04 1131.52,641.48 1131.60,643.21 1131.62,643.63 1131.70,645.25 1131.72,645.65 1131.80,647.17 1131.82,647.54 1131.90,648.98 1131.92,649.33 1132.00,650.67 1132.02,651.00 1132.10,652.27 1132.12,652.58 1132.20,653.77 1132.22,654.06 1132.30,655.18 1132.32,655.46 1132.40,656.51 1132.42,656.77 1132.50,657.77 1132.52,658.01 1132.60,658.95 1132.62,659.18 1132.70,660.06 1132.72,660.28 1132.80,661.12 1132.82,661.32 1132.90,662.11 1132.92,662.30 1133.00,663.05 1133.02,663.23 1133.10,663.94 1133.12,664.11 1133.20,664.78 1133.22,664.95 1133.30,665.58 1133.32,665.73 1133.40,666.34 1133.42,666.48 1133.50,667.05 1133.52,667.19 1133.60,667.73 1133.62,667.87 1133.70,668.38 1133.72,668.51 1133.80,669.00 1133.82,669.12 1133.90,669.58 1133.92,669.70 1134.00,670.14 1134.02,670.25 1134.10,670.67 1134.12,670.77 1134.20,671.18 1134.22,671.28 1134.30,671.66 1134.32,671.75 1134.40,672.12 1134.42,672.21 1134.50,672.56 1134.52,672.65 1134.60,672.98 1134.62,673.06 1134.70,673.39 1134.72,673.46 1134.80,673.77 1134.82,673.85 1134.90,674.14 1134.92,674.21 1135.00,674.49 1135.02,674.56 1135.10,674.83 1135.12,674.90 1135.20,675.16 1135.22,675.22 1135.30,675.47 1135.32,675.53 1135.40,675.77 1135.42,675.83 1135.50,676.06 1135.52,676.11 1135.60,676.33 1135.62,676.39 1135.70,676.60 1135.72,676.65 1135.80,676.86 1135.82,676.91 1135.90,677.10 1135.92,677.15 1136.00,677.34 1136.02,677.39 1136.10,677.57 1136.12,677.61 1136.20,677.79 1136.22,677.83 1136.30,678.00 1136.32,678.05 1136.40,678.21 1136.42,678.25 1136.50,678.41 1136.52,678.45 1136.60,678.60 1136.62,678.64 1136.70,678.78 1136.72,678.82 1136.80,678.96 1136.82,679.00 1136.90,679.13 1136.92,679.17 1137.00,679.30 1137.02,679.33 1137.10,679.46 1137.12,679.50 1137.20,679.62 1137.22,679.65 1137.30,679.77 1137.32,679.80 1137.40,679.92 1137.42,679.95 1137.50,680.06 1137.52,680.09 1137.60,680.20 1137.62,680.23 1137.70,680.33 1137.72,680.36 1137.80,680.46 1137.82,680.49 1137.90,680.59 1137.92,680.61 1138.00,680.71 1138.02,680.73 1138.10,680.83 1138.12,680.85 1138.20,680.94 1138.22,680.97 1138.30,681.05 1138.32,681.08 1138.40,681.16 1138.42,681.18 1138.50,681.27 1138.52,681.29 1138.60,681.37 1138.62,681.39 1138.70,681.47 1138.72,681.49 1138.80,681.57 1138.82,681.59 1138.90,681.66 1138.92,681.68 1139.00,681.76 1139.02,681.77 1139.10,681.85 1139.12,681.86 1139.20,681.93 1139.22,681.95 1139.30,682.02 1139.32,682.03 1139.40,682.10 1139.42,682.12 1139.50,682.18 1139.52,682.20 1139.60,682.26 1139.62,682.27 1139.70,682.34 1139.72,682.35 1139.80,682.41 1139.82,682.43 1139.90,682.48 1139.92,682.50 1140.00,682.56 1140.02,682.57 1140.10,682.62 1140.12,682.64 1140.20,682.69 1140.22,682.71 1140.30,682.76 1140.32,682.77 1140.40,682.82 1140.42,682.84 1140.50,682.89 1140.52,682.90 1140.60,682.95 1140.62,682.96 1140.70,683.01 1140.72,683.02 1140.80,683.07 1140.82,683.08 1140.90,683.12 1140.92,683.14 1141.00,683.18 1141.02,683.19 1141.10,683.24 1141.12,683.25 1141.20,683.29 1141.22,683.30 1141.30,683.34 1141.32,683.35 1141.40,683.39 1141.42,683.40 1141.50,683.44 1141.52,683.45 1141.60,683.49 1141.62,683.50 1141.70,683.54 1141.72,683.55 1141.80,683.59 1141.82,683.60 1141.90,683.64 1141.92,683.64 1142.00,683.68 1142.02,683.69 1142.10,683.73 1142.12,683.73 1142.20,683.77 1142.22,683.78 1142.30,683.81 1142.32,683.82 1142.40,683.85 1142.42,683.86 1142.50,683.89 1142.52,683.90 1142.60,683.93 1142.62,683.94 1142.70,683.97 1142.72,683.98 1142.80,684.01 1142.82,684.02 1142.90,684.05 1142.92,684.06 1143.00,684.09 1143.02,684.09 1143.10,684.12 1143.12,684.13 1143.20,684.16 1143.22,684.17 1143.30,684.19 1143.32,684.20 1143.40,684.23 1143.42,684.24 1143.50,684.26 1143.52,684.27 1143.60,684.30 1143.62,684.30 1143.70,684.33 1143.72,684.33 1143.80,684.36 1143.82,684.37 1143.90,684.39 1143.92,684.40 1144.00,684.42 1144.02,684.43 1144.10,684.45 1144.12,684.46 1144.20,684.48 1144.22,684.49 1144.30,684.51 1144.32,684.52 1144.40,684.54 1144.42,684.55 1144.50,684.57 1144.52,684.57 1144.60,684.60 1144.62,684.60 1144.70,684.62 1144.72,684.63 1144.80,684.65 1144.82,684.66 1144.90,684.68 1144.92,684.68 1145.00,684.70 1145.02,684.71 1145.10,684.73 1145.12,684.73 1145.20,684.75 1145.22,684.76 1145.30,684.78 1145.32,684.78 1145.40,684.80 1145.42,684.81 1145.50,684.83 1145.52,684.83 1145.60,684.85 1145.62,684.85 1145.70,684.87 1145.72,684.88 1145.80,684.89 1145.82,684.90 1145.90,684.92 1145.92,684.92 1146.00,684.94 1146.02,684.94 1146.10,684.96 1146.12,684.96 1146.20,684.98 1146.22,684.99 1146.30,685.00 1146.32,685.01 1146.40,685.02 1146.42,685.03 1146.50,685.04 1146.52,685.05 1146.60,685.06 1146.62,685.07 1146.70,685.08 1146.80,685.10 1146.90,685.12 1147.00,685.14 1147.10,685.16 1147.20,685.18 1147.30,685.20 1147.40,685.21 1147.50,685.23 1147.60,685.25 1147.70,685.27 1147.80,685.28 1147.90,685.30 1148.00,685.31 1148.10,685.33 1148.20,685.35 1148.30,685.36 1148.40,685.38 1148.50,685.39 1148.60,685.41 1148.70,685.42 1148.80,685.44 1148.90,685.45 1149.00,685.47 1149.10,685.48 1149.20,685.49 1149.30,685.51 1149.40,685.52 1149.50,685.53 1149.60,685.55 1149.70,685.56 1149.80,685.57 1149.90,685.59 1150.00,685.60 1150.10,685.61 1150.20,685.62 1150.30,685.63 1150.40,685.65 1150.50,685.66 1150.60,685.67 1150.70,685.68 1150.80,685.69 1150.90,685.70 1151.00,685.71 1151.10,685.73 1151.20,685.74 1151.30,685.75 1151.40,685.76 1151.50,685.77 1151.60,685.78 1151.70,685.79 1151.80,685.80 1151.90,685.81 1152.00,685.82 1152.10,685.83 1152.20,685.84 1152.30,685.85 1152.40,685.86 1152.50,685.86 1152.60,685.87 1152.70,685.88 1152.80,685.89 1152.90,685.90 1153.00,685.91 1153.10,685.92 1153.20,685.93 1153.30,685.93 1153.40,685.94 1153.50,685.95 1153.60,685.96 1153.70,685.97 1153.80,685.98 1153.90,685.98 1154.00,685.99 1154.10,686.00 1154.20,686.01 1154.30,686.01 1154.40,686.02 1154.50,686.03 1154.60,686.04 1154.70,686.04 1154.80,686.05 1154.90,686.06 1155.00,686.07 1155.10,686.07 1155.20,686.08 1155.30,686.09 1155.40,686.09 1155.50,686.10 1155.60,686.11 1155.70,686.11 1155.80,686.12 1155.90,686.13 1156.00,686.13 1156.10,686.14 1156.20,686.14 1156.30,686.15 1156.40,686.16 1156.50,686.16 1156.60,686.17 1156.70,686.17 1156.80,686.18 1156.90,686.19 1157.00,686.19 1157.10,686.20 1157.20,686.20 1157.30,686.21 1157.40,686.21 1157.50,686.22 1157.60,686.23 1157.70,686.23 1157.80,686.24 1157.90,686.24 1158.00,686.25 1158.10,686.25 1158.20,686.26 1158.30,686.26 1158.40,686.27 1158.50,686.27 1158.60,686.28 1158.70,686.28 1158.80,686.29 1158.90,686.29 1159.00,686.30 1159.10,686.30 1159.20,686.31 1159.30,686.31 1159.40,686.32 1159.50,686.32 1159.60,686.32 1159.70,686.33 1159.80,686.33 1159.90,686.34 1160.00,686.34 1160.10,686.35 1160.20,686.35 1160.30,686.36 1160.40,686.36 1160.50,686.36 1160.60,686.37 1160.70,686.37 1160.80,686.38 1160.90,686.38 1161.00,686.38 1161.10,686.39 1161.20,686.39 1161.30,686.40 1161.40,686.40 1161.50,686.40 1161.60,686.41 1161.70,686.41 1161.80,686.42 1161.90,686.42 1162.00,686.42 1162.10,686.43 1162.20,686.43 1162.30,686.43 1162.40,686.44 1162.50,686.44 1162.60,686.44 1162.70,686.45 1162.80,686.45 1162.90,686.46 1163.00,686.46 1163.10,686.46 1163.20,686.47 1163.30,686.47 1163.40,686.47 1163.50,686.48 1163.60,686.48 1163.70,686.48 1163.80,686.49 1163.90,686.49 1164.00,686.49 1164.10,686.49 1164.20,686.50 1164.30,686.50 1164.40,686.50 1164.50,686.51 1164.60,686.51 1164.70,686.51 1164.80,686.52 1164.90,686.52 1165.00,686.52 1165.10,686.53 1165.20,686.53 1165.30,686.53 1165.40,686.53 1165.50,686.54 1165.60,686.54 1165.70,686.54 1165.80,686.54 1165.90,686.55 1166.00,686.55 1166.10,686.55 1166.20,686.56 1166.30,686.56 1166.40,686.56 1166.50,686.56 1166.60,686.57 1166.70,686.57 1166.80,686.57 1166.90,686.57 1167.00,686.58 1167.10,686.58 1167.20,686.58 1167.30,686.58 1167.40,686.59 1167.50,686.59 1167.60,686.59 1167.70,686.59 1167.80,686.60 1168.10,686.60 1169.10,686.63 1170.10,686.65 1171.10,686.67 1172.10,686.69 1173.10,686.70 1174.10,686.72 1175.10,686.74 1176.10,686.75 1177.10,686.76 1178.10,686.78 1179.10,686.79 1180.10,686.80 1181.10,686.81 1182.10,686.82 1183.10,686.83 1184.10,686.84 1185.10,686.85 1186.10,686.86 1187.10,686.87 1188.10,686.88 1189.10,686.88 1190.10,686.89 1191.10,686.90 1192.10,686.90 1193.10,686.91 1194.10,686.92 1195.10,686.92 1196.10,686.93 1197.10,686.93 1198.10,686.94 1199.10,686.94 1200.10,686.95 1201.10,686.95 1202.10,686.96 1203.10,686.96 1204.10,686.96 1205.10,686.97 1206.10,686.97 1207.10,686.98 1208.10,686.98 1209.10,686.98 1210.10,686.99 1211.10,686.99 1212.10,686.99 1213.10,686.99 1214.10,687.00 1215.10,687.00 1216.10,687.00 1217.10,687.01 1218.10,687.01 1219.10,687.01 1220.10,687.01 1221.10,687.01 1222.10,687.02 1223.10,687.02 1224.10,687.02 1225.10,687.02 1226.10,687.03 1227.10,687.03 1228.10,687.03 1229.10,687.03 1230.10,687.03 1231.10,687.03 1232.10,687.04 1233.10,687.04 1234.10,687.04 1235.10,687.04 1236.10,687.04 1237.10,687.04 1238.10,687.05 1239.10,687.05 1240.10,687.05 1241.10,687.05 1242.10,687.05 1243.10,687.05 1244.10,687.05 1245.10,687.05 1246.10,687.06 1247.10,687.06 1248.10,687.06 1249.10,687.06 1250.10,687.06 1251.10,687.06 1252.10,687.06 1253.10,687.06 1254.10,687.06 1255.10,687.07 1256.10,687.07 1257.10,687.07 1258.10,687.07 1259.10,687.07 1260.10,687.07 1261.10,687.07 1262.10,687.07 1263.10,687.07 1264.10,687.07 1265.10,687.07 1266.10,687.07 1267.10,687.08 1268.10,687.08 1269.10,687.08 1270.10,687.08 1271.10,687.08 1272.10,687.08 1273.10,687.08 1274.10,687.08 1275.10,687.08 1276.10,687.08 1277.10,687.08" fill="none" stroke="#990000" stroke-width="3.6" stroke-linejoin="bevel"/>
<g clip-path="url(#cb)"><polyline points="83.10,1343.78 84.10,1343.77 85.10,1343.77 86.10,1343.77 87.10,1343.77 88.10,1343.77 89.10,1343.77 90.10,1343.77 91.10,1343.77 92.10,1343.77 93.10,1343.77 94.10,1343.77 95.10,1343.77 96.10,1343.77 97.10,1343.77 98.10,1343.77 99.10,1343.77 100.10,1343.77 101.10,1343.77 102.10,1343.77 103.10,1343.77 104.10,1343.77 105.10,1343.77 106.10,1343.76 107.10,1343.76 108.10,1343.76 109.10,1343.76 110.10,1343.76 111.10,1343.76 112.10,1343.76 113.10,1343.76 114.10,1343.76 115.10,1343.76 116.10,1343.76 117.10,1343.76 118.10,1343.76 119.10,1343.76 120.10,1343.76 121.10,1343.76 122.10,1343.76 123.10,1343.76 124.10,1343.76 125.10,1343.76 126.10,1343.75 127.10,1343.75 128.10,1343.75 129.10,1343.75 130.10,1343.75 131.10,1343.75 132.10,1343.75 133.10,1343.75 134.10,1343.75 135.10,1343.75 136.10,1343.75 137.10,1343.75 138.10,1343.75 139.10,1343.75 140.10,1343.75 141.10,1343.75 142.10,1343.75 143.10,1343.75 144.10,1343.75 145.10,1343.75 146.10,1343.74 147.10,1343.74 148.10,1343.74 149.10,1343.74 150.10,1343.74 151.10,1343.74 152.10,1343.74 153.10,1343.74 154.10,1343.74 155.10,1343.74 156.10,1343.74 157.10,1343.74 158.10,1343.74 159.10,1343.74 160.10,1343.74 161.10,1343.74 162.10,1343.74 163.10,1343.74 164.10,1343.73 165.10,1343.73 166.10,1343.73 167.10,1343.73 168.10,1343.73 169.10,1343.73 170.10,1343.73 171.10,1343.73 172.10,1343.73 173.10,1343.73 174.10,1343.73 175.10,1343.73 176.10,1343.73 177.10,1343.73 178.10,1343.73 179.10,1343.73 180.10,1343.73 181.10,1343.72 182.10,1343.72 183.10,1343.72 184.10,1343.72 185.10,1343.72 186.10,1343.72 187.10,1343.72 188.10,1343.72 189.10,1343.72 190.10,1343.72 191.10,1343.72 192.10,1343.72 193.10,1343.72 194.10,1343.72 195.10,1343.72 196.10,1343.72 197.10,1343.72 198.10,1343.71 199.10,1343.71 200.10,1343.71 201.10,1343.71 202.10,1343.71 203.10,1343.71 204.10,1343.71 205.10,1343.71 206.10,1343.71 207.10,1343.71 208.10,1343.71 209.10,1343.71 210.10,1343.71 211.10,1343.71 212.10,1343.71 213.10,1343.70 214.10,1343.70 215.10,1343.70 216.10,1343.70 217.10,1343.70 218.10,1343.70 219.10,1343.70 220.10,1343.70 221.10,1343.70 222.10,1343.70 223.10,1343.70 224.10,1343.70 225.10,1343.70 226.10,1343.70 227.10,1343.70 228.10,1343.69 229.10,1343.69 230.10,1343.69 231.10,1343.69 232.10,1343.69 233.10,1343.69 234.10,1343.69 235.10,1343.69 236.10,1343.69 237.10,1343.69 238.10,1343.69 239.10,1343.69 240.10,1343.69 241.10,1343.69 242.10,1343.68 243.10,1343.68 244.10,1343.68 245.10,1343.68 246.10,1343.68 247.10,1343.68 248.10,1343.68 249.10,1343.68 250.10,1343.68 251.10,1343.68 252.10,1343.68 253.10,1343.68 254.10,1343.68 255.10,1343.68 256.10,1343.67 257.10,1343.67 258.10,1343.67 259.10,1343.67 260.10,1343.67 261.10,1343.67 262.10,1343.67 263.10,1343.67 264.10,1343.67 265.10,1343.67 266.10,1343.67 267.10,1343.67 268.10,1343.66 269.10,1343.66 270.10,1343.66 271.10,1343.66 272.10,1343.66 273.10,1343.66 274.10,1343.66 275.10,1343.66 276.10,1343.66 277.10,1343.66 278.10,1343.66 279.10,1343.66 280.10,1343.66 281.10,1343.65 282.10,1343.65 283.10,1343.65 284.10,1343.65 285.10,1343.65 286.10,1343.65 287.10,1343.65 288.10,1343.65 289.10,1343.65 290.10,1343.65 291.10,1343.65 292.10,1343.64 293.10,1343.64 294.10,1343.64 295.10,1343.64 296.10,1343.64 297.10,1343.64 298.10,1343.64 299.10,1343.64 300.10,1343.64 301.10,1343.64 302.10,1343.64 303.10,1343.64 304.10,1343.63 305.10,1343.63 306.10,1343.63 307.10,1343.63 308.10,1343.63 309.10,1343.63 310.10,1343.63 311.10,1343.63 312.10,1343.63 313.10,1343.63 314.10,1343.62 315.10,1343.62 316.10,1343.62 317.10,1343.62 318.10,1343.62 319.10,1343.62 320.10,1343.62 321.10,1343.62 322.10,1343.62 323.10,1343.62 324.10,1343.62 325.10,1343.61 326.10,1343.61 327.10,1343.61 328.10,1343.61 329.10,1343.61 330.10,1343.61 331.10,1343.61 332.10,1343.61 333.10,1343.61 334.10,1343.61 335.10,1343.60 336.10,1343.60 337.10,1343.60 338.10,1343.60 339.10,1343.60 340.10,1343.60 341.10,1343.60 342.10,1343.60 343.10,1343.60 344.10,1343.59 345.10,1343.59 346.10,1343.59 347.10,1343.59 348.10,1343.59 349.10,1343.59 350.10,1343.59 351.10,1343.59 352.10,1343.59 353.10,1343.58 354.10,1343.58 355.10,1343.58 356.10,1343.58 357.10,1343.58 358.10,1343.58 359.10,1343.58 360.10,1343.58 361.10,1343.58 362.10,1343.57 363.10,1343.57 364.10,1343.57 365.10,1343.57 366.10,1343.57 367.10,1343.57 368.10,1343.57 369.10,1343.57 370.10,1343.57 371.10,1343.56 372.10,1343.56 373.10,1343.56 374.10,1343.56 375.10,1343.56 376.10,1343.56 377.10,1343.56 378.10,1343.56 379.10,1343.55 380.10,1343.55 381.10,1343.55 382.10,1343.55 383.10,1343.55 384.10,1343.55 385.10,1343.55 386.10,1343.55 387.10,1343.54 388.10,1343.54 389.10,1343.54 390.10,1343.54 391.10,1343.54 392.10,1343.54 393.10,1343.54 394.10,1343.54 395.10,1343.53 396.10,1343.53 397.10,1343.53 398.10,1343.53 399.10,1343.53 400.10,1343.53 401.10,1343.53 402.10,1343.53 403.10,1343.52 404.10,1343.52 405.10,1343.52 406.10,1343.52 407.10,1343.52 408.10,1343.52 409.10,1343.52 410.10,1343.51 411.10,1343.51 412.10,1343.51 413.10,1343.51 414.10,1343.51 415.10,1343.51 416.10,1343.51 417.10,1343.50 418.10,1343.50 419.10,1343.50 420.10,1343.50 421.10,1343.50 422.10,1343.50 423.10,1343.50 424.10,1343.49 425.10,1343.49 426.10,1343.49 427.10,1343.49 428.10,1343.49 429.10,1343.49 430.10,1343.49 431.10,1343.48 432.10,1343.48 433.10,1343.48 434.10,1343.48 435.10,1343.48 436.10,1343.48 437.10,1343.47 438.10,1343.47 439.10,1343.47 440.10,1343.47 441.10,1343.47 442.10,1343.47 443.10,1343.46 444.10,1343.46 445.10,1343.46 446.10,1343.46 447.10,1343.46 448.10,1343.46 449.10,1343.45 450.10,1343.45 451.10,1343.45 452.10,1343.45 453.10,1343.45 454.10,1343.45 455.10,1343.44 456.10,1343.44 457.10,1343.44 458.10,1343.44 459.10,1343.44 460.10,1343.44 461.10,1343.43 462.10,1343.43 463.10,1343.43 464.10,1343.43 465.10,1343.43 466.10,1343.43 467.10,1343.42 468.10,1343.42 469.10,1343.42 470.10,1343.42 471.10,1343.42 472.10,1343.41 473.10,1343.41 474.10,1343.41 475.10,1343.41 476.10,1343.41 477.10,1343.41 478.10,1343.40 479.10,1343.40 480.10,1343.40 481.10,1343.40 482.10,1343.40 483.10,1343.39 484.10,1343.39 485.10,1343.39 486.10,1343.39 487.10,1343.39 488.10,1343.38 489.10,1343.38 490.10,1343.38 491.10,1343.38 492.10,1343.38 493.10,1343.37 494.10,1343.37 495.10,1343.37 496.10,1343.37 497.10,1343.37 498.10,1343.36 499.10,1343.36 500.10,1343.36 501.10,1343.36 502.10,1343.36 503.10,1343.35 504.10,1343.35 505.10,1343.35 506.10,1343.35 507.10,1343.34 508.10,1343.34 509.10,1343.34 510.10,1343.34 511.10,1343.34 512.10,1343.33 513.10,1343.33 514.10,1343.33 515.10,1343.33 516.10,1343.32 517.10,1343.32 518.10,1343.32 519.10,1343.32 520.10,1343.31 521.10,1343.31 522.10,1343.31 523.10,1343.31 524.10,1343.31 525.10,1343.30 526.10,1343.30 527.10,1343.30 528.10,1343.30 529.10,1343.29 530.10,1343.29 531.10,1343.29 532.10,1343.29 533.10,1343.28 534.10,1343.28 535.10,1343.28 536.10,1343.28 537.10,1343.27 538.10,1343.27 539.10,1343.27 540.10,1343.27 541.10,1343.26 542.10,1343.26 543.10,1343.26 544.10,1343.26 545.10,1343.25 546.10,1343.25 547.10,1343.25 548.10,1343.24 549.10,1343.24 550.10,1343.24 551.10,1343.24 552.10,1343.23 553.10,1343.23 554.10,1343.23 555.10,1343.23 556.10,1343.22 557.10,1343.22 558.10,1343.22 559.10,1343.21 560.10,1343.21 561.10,1343.21 562.10,1343.21 563.10,1343.20 564.10,1343.20 565.10,1343.20 566.10,1343.19 567.10,1343.19 568.10,1343.19 569.10,1343.18 570.10,1343.18 571.10,1343.18 572.10,1343.18 573.10,1343.17 574.10,1343.17 575.10,1343.17 576.10,1343.16 577.10,1343.16 578.10,1343.16 579.10,1343.15 580.10,1343.15 581.10,1343.15 582.10,1343.14 583.10,1343.14 584.10,1343.14 585.10,1343.13 586.10,1343.13 587.10,1343.13 588.10,1343.12 589.10,1343.12 590.10,1343.12 591.10,1343.11 592.10,1343.11 593.10,1343.11 594.10,1343.10 595.10,1343.10 596.10,1343.10 597.10,1343.09 598.10,1343.09 599.10,1343.09 600.10,1343.08 601.10,1343.08 602.10,1343.07 603.10,1343.07 604.10,1343.07 605.10,1343.06 606.10,1343.06 607.10,1343.06 608.10,1343.05 609.10,1343.05 610.10,1343.04 611.10,1343.04 612.10,1343.04 613.10,1343.03 614.10,1343.03 615.10,1343.02 616.10,1343.02 617.10,1343.02 618.10,1343.01 619.10,1343.01 620.10,1343.00 621.10,1343.00 622.10,1343.00 623.10,1342.99 624.10,1342.99 625.10,1342.98 626.10,1342.98 627.10,1342.98 628.10,1342.97 629.10,1342.97 630.10,1342.96 631.10,1342.96 632.10,1342.95 633.10,1342.95 634.10,1342.94 635.10,1342.94 636.10,1342.94 637.10,1342.93 638.10,1342.93 639.10,1342.92 640.10,1342.92 641.10,1342.91 642.10,1342.91 643.10,1342.90 644.10,1342.90 645.10,1342.89 646.10,1342.89 647.10,1342.88 648.10,1342.88 649.10,1342.87 650.10,1342.87 651.10,1342.86 652.10,1342.86 653.10,1342.85 654.10,1342.85 655.10,1342.84 656.10,1342.84 657.10,1342.83 658.10,1342.83 659.10,1342.82 660.10,1342.82 661.10,1342.81 662.10,1342.81 663.10,1342.80 664.10,1342.80 665.10,1342.79 666.10,1342.79 667.10,1342.78 668.10,1342.77 669.10,1342.77 670.10,1342.76 671.10,1342.76 672.10,1342.75 673.10,1342.75 674.10,1342.74 675.10,1342.73 676.10,1342.73 677.10,1342.72 678.10,1342.72 679.10,1342.71 680.10,1342.70 681.10,1342.70 682.10,1342.69 683.10,1342.69 684.10,1342.68 685.10,1342.67 686.10,1342.67 687.10,1342.66 688.10,1342.65 689.10,1342.65 690.10,1342.64 691.10,1342.64 692.10,1342.63 693.10,1342.62 694.10,1342.62 695.10,1342.61 696.10,1342.60 697.10,1342.59 698.10,1342.59 699.10,1342.58 700.10,1342.57 701.10,1342.57 702.10,1342.56 703.10,1342.55 704.10,1342.55 705.10,1342.54 706.10,1342.53 707.10,1342.52 708.10,1342.52 709.10,1342.51 710.10,1342.50 711.10,1342.49 712.10,1342.49 713.10,1342.48 714.10,1342.47 715.10,1342.46 716.10,1342.45 717.10,1342.45 718.10,1342.44 719.10,1342.43 720.10,1342.42 721.10,1342.41 722.10,1342.41 723.10,1342.40 724.10,1342.39 725.10,1342.38 726.10,1342.37 727.10,1342.36 728.10,1342.36 729.10,1342.35 730.10,1342.34 731.10,1342.33 732.10,1342.32 733.10,1342.31 734.10,1342.30 735.10,1342.29 736.10,1342.28 737.10,1342.27 738.10,1342.26 739.10,1342.26 740.10,1342.25 741.10,1342.24 742.10,1342.23 743.10,1342.22 744.10,1342.21 745.10,1342.20 746.10,1342.19 747.10,1342.18 748.10,1342.17 749.10,1342.16 750.10,1342.15 751.10,1342.14 752.10,1342.13 753.10,1342.11 754.10,1342.10 755.10,1342.09 756.10,1342.08 757.10,1342.07 758.10,1342.06 759.10,1342.05 760.10,1342.04 761.10,1342.03 762.10,1342.01 763.10,1342.00 764.10,1341.99 765.10,1341.98 766.10,1341.97 767.10,1341.96 768.10,1341.94 769.10,1341.93 770.10,1341.92 771.10,1341.91 772.10,1341.89 773.10,1341.88 774.10,1341.87 775.10,1341.86 776.10,1341.84 777.10,1341.83 778.10,1341.82 779.10,1341.80 780.10,1341.79 781.10,1341.78 782.10,1341.76 783.10,1341.75 784.10,1341.73 785.10,1341.72 786.10,1341.71 787.10,1341.69 788.10,1341.68 789.10,1341.66 790.10,1341.65 791.10,1341.63 792.10,1341.62 793.10,1341.60 794.10,1341.59 795.10,1341.57 796.10,1341.56 797.10,1341.54 798.10,1341.52 799.10,1341.51 800.10,1341.49 801.10,1341.48 802.10,1341.46 803.10,1341.44 804.10,1341.42 805.10,1341.41 806.10,1341.39 807.10,1341.37 808.10,1341.36 809.10,1341.34 810.10,1341.32 811.10,1341.30 812.10,1341.28 813.10,1341.26 814.10,1341.25 815.10,1341.23 816.10,1341.21 817.10,1341.19 818.10,1341.17 819.10,1341.15 820.10,1341.13 821.10,1341.11 822.10,1341.09 823.10,1341.07 824.10,1341.05 825.10,1341.03 826.10,1341.01 827.10,1340.98 828.10,1340.96 829.10,1340.94 830.10,1340.92 831.10,1340.90 832.10,1340.87 833.10,1340.85 834.10,1340.83 835.10,1340.80 836.10,1340.78 837.10,1340.76 838.10,1340.73 839.10,1340.71 840.10,1340.68 841.10,1340.66 842.10,1340.63 843.10,1340.61 844.10,1340.58 845.10,1340.55 846.10,1340.53 847.10,1340.50 848.10,1340.47 849.10,1340.45 850.10,1340.42 851.10,1340.39 852.10,1340.36 853.10,1340.33 854.10,1340.30 855.10,1340.27 856.10,1340.24 857.10,1340.21 858.10,1340.18 859.10,1340.15 860.10,1340.12 861.10,1340.09 862.10,1340.06 863.10,1340.03 864.10,1339.99 865.10,1339.96 866.10,1339.93 867.10,1339.89 868.10,1339.86 869.10,1339.82 870.10,1339.79 871.10,1339.75 872.10,1339.72 873.10,1339.68 874.10,1339.64 875.10,1339.60 876.10,1339.57 877.10,1339.53 878.10,1339.49 879.10,1339.45 880.10,1339.41 881.10,1339.37 882.10,1339.32 883.10,1339.28 884.10,1339.24 885.10,1339.20 886.10,1339.15 887.10,1339.11 888.10,1339.06 889.10,1339.02 890.10,1338.97 891.10,1338.93 892.10,1338.88 893.10,1338.83 894.10,1338.78 895.10,1338.73 896.10,1338.68 897.10,1338.63 898.10,1338.58 899.10,1338.53 900.10,1338.47 901.10,1338.42 902.10,1338.37 903.10,1338.31 904.10,1338.25 905.10,1338.20 906.10,1338.14 907.10,1338.08 908.10,1338.02 909.10,1337.96 910.10,1337.90 911.10,1337.84 912.10,1337.77 913.10,1337.71 914.10,1337.64 915.10,1337.57 916.10,1337.51 917.10,1337.44 918.10,1337.37 919.10,1337.30 920.10,1337.23 921.10,1337.15 922.10,1337.08 923.10,1337.00 924.10,1336.93 925.10,1336.85 926.10,1336.77 927.10,1336.69 928.10,1336.60 929.10,1336.52 930.10,1336.44 931.10,1336.35 932.10,1336.26 933.10,1336.17 934.10,1336.08 935.10,1335.99 936.10,1335.89 937.10,1335.80 938.10,1335.70 939.10,1335.60 940.10,1335.50 941.10,1335.40 942.10,1335.29 943.10,1335.19 944.10,1335.08 945.10,1334.97 946.10,1334.85 947.10,1334.74 948.10,1334.62 949.10,1334.50 950.10,1334.38 951.10,1334.26 952.10,1334.13 953.10,1334.00 954.10,1333.87 955.10,1333.73 956.10,1333.60 957.10,1333.46 958.10,1333.32 959.10,1333.17 960.10,1333.02 961.10,1332.87 962.10,1332.72 963.10,1332.56 964.10,1332.40 965.10,1332.23 966.10,1332.06 967.10,1331.89 968.10,1331.72 969.10,1331.54 970.10,1331.35 971.10,1331.17 972.10,1330.98 973.10,1330.78 974.10,1330.58 975.10,1330.37 976.10,1330.17 977.10,1329.95 978.10,1329.73 979.10,1329.51 980.10,1329.28 981.10,1329.04 982.10,1328.80 983.10,1328.55 984.10,1328.30 985.10,1328.04 986.10,1327.77 987.10,1327.50 988.10,1327.22 989.10,1326.93 990.10,1326.64 991.10,1326.34 992.10,1326.03 993.10,1325.71 994.10,1325.38 995.10,1325.05 996.10,1324.70 997.10,1324.35 998.10,1323.99 999.10,1323.61 1000.10,1323.23 1001.10,1322.83 1002.10,1322.43 1003.10,1322.01 1004.10,1321.58 1005.10,1321.13 1006.10,1320.67 1007.10,1320.20 1008.10,1319.72 1009.10,1319.22 1010.10,1318.70 1011.10,1318.17 1012.10,1317.62 1013.10,1317.05 1014.10,1316.47 1015.10,1315.86 1016.10,1315.24 1017.10,1314.59 1018.10,1313.92 1019.10,1313.23 1020.10,1312.51 1021.10,1311.77 1022.10,1311.01 1023.10,1310.21 1024.10,1309.39 1025.10,1308.53 1026.10,1307.65 1027.10,1306.73 1028.10,1305.77 1029.10,1304.78 1030.10,1303.75 1031.10,1302.67 1032.10,1301.56 1033.10,1300.39 1034.10,1299.18 1035.10,1297.92 1036.10,1296.61 1037.10,1295.23 1038.10,1293.80 1039.10,1292.30 1040.10,1290.73 1041.10,1289.10 1042.10,1287.38 1043.10,1285.58 1044.10,1283.70 1045.10,1281.72 1046.10,1279.65 1047.10,1277.47 1048.10,1275.18 1049.10,1272.76 1050.10,1270.22 1051.10,1267.54 1052.10,1264.71 1053.10,1261.72 1054.10,1258.56 1055.10,1255.21 1056.10,1251.66 1057.10,1247.89 1058.10,1243.89 1059.10,1239.63 1060.10,1235.10 1061.10,1230.26 1062.10,1225.10 1063.10,1219.57 1064.10,1213.65 1065.10,1207.30 1066.10,1200.47 1066.60,1196.87 1066.70,1196.13 1066.80,1195.38 1066.90,1194.64 1067.00,1193.88 1067.10,1193.12 1067.20,1192.35 1067.30,1191.58 1067.40,1190.81 1067.50,1190.02 1067.60,1189.23 1067.70,1188.44 1067.80,1187.63 1067.90,1186.82 1068.00,1186.01 1068.10,1185.19 1068.20,1184.36 1068.30,1183.53 1068.40,1182.69 1068.50,1181.84 1068.60,1180.99 1068.70,1180.13 1068.80,1179.26 1068.90,1178.38 1069.00,1177.50 1069.10,1176.62 1069.20,1175.72 1069.30,1174.82 1069.40,1173.91 1069.50,1172.99 1069.60,1172.07 1069.70,1171.13 1069.80,1170.19 1069.90,1169.25 1070.00,1168.29 1070.10,1167.33 1070.20,1166.36 1070.30,1165.38 1070.40,1164.39 1070.50,1163.40 1070.60,1162.39 1070.70,1161.38 1070.80,1160.36 1070.90,1159.33 1071.00,1158.29 1071.10,1157.25 1071.20,1156.19 1071.30,1155.13 1071.40,1154.05 1071.50,1152.97 1071.60,1151.88 1071.70,1150.78 1071.80,1149.67 1071.90,1148.55 1072.00,1147.42 1072.10,1146.28 1072.20,1145.13 1072.30,1143.97 1072.40,1142.80 1072.50,1141.62 1072.60,1140.43 1072.70,1139.23 1072.80,1138.01 1072.90,1136.79 1073.00,1135.56 1073.10,1134.31 1073.20,1133.06 1073.30,1131.79 1073.40,1130.51 1073.50,1129.22 1073.60,1127.92 1073.70,1126.61 1073.80,1125.28 1073.90,1123.94 1074.00,1122.59 1074.10,1121.23 1074.20,1119.85 1074.30,1118.47 1074.40,1117.06 1074.50,1115.65 1074.60,1114.22 1074.70,1112.78 1074.80,1111.33 1074.90,1109.86 1075.00,1108.38 1075.10,1106.88 1075.20,1105.37 1075.30,1103.85 1075.40,1102.31 1075.50,1100.75 1075.60,1099.18 1075.70,1097.60 1075.80,1096.00 1075.90,1094.38 1076.00,1092.75 1076.10,1091.10 1076.20,1089.44 1076.30,1087.76 1076.40,1086.06 1076.50,1084.35 1076.60,1082.62 1076.70,1080.87 1076.80,1079.10 1076.90,1077.32 1077.00,1075.52 1077.10,1073.70 1077.20,1071.86 1077.30,1070.00 1077.40,1068.12 1077.50,1066.23 1077.60,1064.31 1077.70,1062.38 1077.80,1060.42 1077.90,1058.44 1078.00,1056.45 1078.10,1054.43 1078.20,1052.39 1078.30,1050.33 1078.40,1048.25 1078.50,1046.14 1078.60,1044.02 1078.70,1041.87 1078.80,1039.69 1078.90,1037.50 1079.00,1035.27 1079.10,1033.03 1079.20,1030.76 1079.30,1028.47 1079.40,1026.15 1079.50,1023.80 1079.60,1021.43 1079.70,1019.03 1079.80,1016.61 1079.90,1014.15 1080.00,1011.68 1080.10,1009.17 1080.20,1006.63 1080.30,1004.07 1080.40,1001.47 1080.50,998.85 1080.60,996.19 1080.70,993.51 1080.80,990.79 1080.90,988.05 1081.00,985.27 1081.10,982.45 1081.20,979.61 1081.30,976.73 1081.40,973.81 1081.50,970.86 1081.60,967.88 1081.70,964.86 1081.80,961.80 1081.90,958.71 1082.00,955.58 1082.10,952.41 1082.20,949.20 1082.30,945.95 1082.40,942.67 1082.50,939.34 1082.60,935.97 1082.70,932.55 1082.80,929.10 1082.90,925.60 1083.00,922.05 1083.10,918.47 1083.20,914.83 1083.30,911.15 1083.40,907.42 1083.50,903.64 1083.60,899.82 1083.70,895.94 1083.80,892.01 1083.90,888.03 1084.00,884.00 1084.10,879.91 1084.20,875.77 1084.30,871.58 1084.40,867.32 1084.50,863.01 1084.60,858.64 1084.70,854.22 1084.80,849.73 1084.90,845.17 1085.00,840.56 1085.10,835.88 1085.20,831.14 1085.30,826.32 1085.40,821.44 1085.50,816.50 1085.60,811.48 1085.70,806.39 1085.80,801.22 1085.90,795.98 1086.00,790.67 1086.10,785.28 1086.20,779.81 1086.30,774.25 1086.40,768.62 1086.50,762.90 1086.60,757.10 1086.70,751.20 1086.80,745.22 1086.90,739.15 1087.00,732.99 1087.10,726.73 1087.20,720.38 1087.30,713.92 1087.40,707.37 1087.50,700.71 1087.60,693.95 1087.70,687.08 1087.80,680.10 1087.90,673.01 1088.00,665.81 1088.10,658.49 1088.20,651.05 1088.30,643.49 1088.40,635.81 1088.50,628.00 1088.60,620.06 1088.70,611.98 1088.80,603.77 1088.90,595.42 1089.00,586.93 1089.10,578.30 1089.20,569.51 1089.30,560.58 1089.40,551.49 1089.50,542.24 1089.60,532.83 1089.70,523.25 1089.80,513.50 1089.90,503.58 1090.00,493.48 1090.10,483.19 1090.20,472.72 1090.30,462.06 1090.40,451.20 1090.50,440.13 1090.60,428.87 1090.70,417.39 1090.80,405.69 1090.90,393.77 1091.00,381.62 1091.10,369.24 1091.20,356.62 1091.30,343.75 1091.40,330.63 1091.50,317.25 1091.60,303.61 1091.70,289.69 1091.80,275.49 1091.90,261.00 1092.00,246.22 1092.10,231.13 1092.20,215.73 1092.30,200.01 1092.40,183.96 1092.50,167.57 1092.60,150.83 1092.70,133.73 1092.80,116.26 1092.90,98.42 1093.00,80.18 1093.10,61.54 1093.20,42.48 1093.30,23.00 1093.40,3.08 1093.50,-17.30 1093.60,-38.14 1093.70,-59.46 1093.80,-81.27 1093.90,-103.60 1094.00,-126.46 1094.10,-149.86 1094.20,-173.82 1094.30,-198.36 1094.40,-223.49 1094.50,-249.25 1094.60,-275.64 1094.70,-302.69 1094.80,-330.43 1094.90,-358.86 1095.00,-388.03 1095.10,-417.94 1095.20,-448.64 1095.30,-480.14 1095.40,-512.48 1095.50,-545.68 1095.60,-579.78 1095.70,-614.80 1095.80,-650.78 1095.90,-687.76 1096.00,-725.78 1096.10,-764.86 1096.20,-805.06 1096.30,-846.41 1096.40,-888.97 1096.50,-932.77 1096.60,-977.86 1096.70,-1024.30 1096.80,-1072.14 1096.90,-1121.43 1097.00,-1172.25 1097.10,-1224.64 1097.20,-1278.67 1097.30,-1334.42 1097.40,-1391.95 1097.50,-1451.35 1097.60,-1512.69 1097.70,-1576.06 1097.80,-1641.54 1097.90,-1709.24 1098.00,-1779.26 1098.10,-1851.69 1098.20,-1926.65 1098.30,-2004.27 1098.40,-2084.65 1098.50,-2167.95 1098.60,-2254.30 1098.70,-2343.84 1098.80,-2436.74 1098.90,-2533.16 1099.00,-2633.29 1099.10,-2737.31 1099.20,-2845.43 1099.30,-2957.86 1099.40,-3074.84 1099.50,-3196.61 1099.60,-3323.42 1099.70,-3455.57 1099.80,-3593.35 1099.90,-3737.08 1100.00,-3887.10 1100.10,-4043.79 1100.20,-4207.54 1100.30,-4378.77 1100.40,-4557.95 1100.50,-4745.56 1100.60,-4942.13 1100.70,-5148.23 1100.80,-5364.49 1100.90,-5591.56 1101.00,-5830.18 1101.10,-6081.11 1101.20,-6345.22 1101.30,-6623.41 1101.40,-6916.69 1101.50,-7226.15 1101.60,-7552.98 1101.70,-7898.46 1101.80,-8264.02 1101.90,-8651.20 1102.00,-9061.70 1102.10,-9497.37 1102.20,-9960.27 1102.30,-10452.63 1102.40,-10976.93 1102.50,-11535.92 1102.60,-12132.60 1102.70,-12770.32 1102.80,-13452.79 1102.90,-14184.12 1103.00,-14968.88 1103.10,-15812.16 1103.20,-16719.64 1103.30,-17697.66 1103.40,-18753.31 1103.50,-19894.53 1103.60,-21130.20 1103.70,-22470.30 1103.80,-23926.04 1103.90,-25509.99 1104.00,-27236.28 1104.10,-29120.79 1104.20,-31181.33 1104.30,-33437.83 1104.40,-35912.59 1104.50,-38630.39 1104.60,-41618.67 1104.70,-44907.53 1104.80,-48529.65 1104.90,-52519.91 1105.00,-56914.69 1105.10,-61750.60 1105.20,-67062.52 1105.30,-72880.51 1105.40,-79225.36 1105.50,-86102.43 1105.60,-93493.47 1105.70,-101346.32 1105.80,-109563.10 1105.90,-117988.15 1106.00,-126398.21 1106.10,-134499.02 1106.20,-141932.98 1106.30,-148302.48 1106.40,-153210.21 1106.50,-156312.47 1106.60,-157374.42 1106.70,-156312.47 1106.80,-153210.21 1106.90,-148302.48 1107.00,-141932.98 1107.10,-134499.02 1107.20,-126398.21 1107.30,-117988.15 1107.40,-109563.10 1107.50,-101346.32 1107.60,-93493.47 1107.70,-86102.43 1107.80,-79225.36 1107.90,-72880.51 1108.00,-67062.52 1108.10,-61750.60 1108.20,-56914.69 1108.30,-52519.91 1108.40,-48529.65 1108.50,-44907.53 1108.60,-41618.67 1108.70,-38630.39 1108.80,-35912.59 1108.90,-33437.83 1109.00,-31181.33 1109.10,-29120.79 1109.20,-27236.28 1109.30,-25509.99 1109.40,-23926.04 1109.50,-22470.30 1109.60,-21130.20 1109.70,-19894.53 1109.80,-18753.31 1109.90,-17697.66 1110.00,-16719.64 1110.10,-15812.16 1110.20,-14968.88 1110.30,-14184.12 1110.40,-13452.79 1110.50,-12770.32 1110.60,-12132.60 1110.70,-11535.92 1110.80,-10976.93 1110.90,-10452.63 1111.00,-9960.27 1111.10,-9497.37 1111.20,-9061.70 1111.30,-8651.20 1111.40,-8264.02 1111.50,-7898.46 1111.60,-7552.98 1111.70,-7226.15 1111.80,-6916.69 1111.90,-6623.41 1112.00,-6345.22 1112.10,-6081.11 1112.20,-5830.18 1112.30,-5591.56 1112.40,-5364.49 1112.50,-5148.23 1112.60,-4942.13 1112.70,-4745.56 1112.80,-4557.95 1112.90,-4378.77 1113.00,-4207.54 1113.10,-4043.79 1113.20,-3887.10 1113.30,-3737.08 1113.40,-3593.35 1113.50,-3455.57 1113.60,-3323.42 1113.70,-3196.61 1113.80,-3074.84 1113.90,-2957.86 1114.00,-2845.43 1114.10,-2737.31 1114.20,-2633.29 1114.30,-2533.16 1114.40,-2436.74 1114.50,-2343.84 1114.60,-2254.30 1114.70,-2167.95 1114.80,-2084.65 1114.90,-2004.27 1115.00,-1926.65 1115.10,-1851.69 1115.20,-1779.26 1115.30,-1709.24 1115.40,-1641.54 1115.50,-1576.06 1115.60,-1512.69 1115.70,-1451.35 1115.80,-1391.95 1115.90,-1334.42 1116.00,-1278.67 1116.10,-1224.64 1116.20,-1172.25 1116.30,-1121.43 1116.40,-1072.14 1116.50,-1024.30 1116.60,-977.86 1116.70,-932.77 1116.80,-888.97 1116.90,-846.41 1117.00,-805.06 1117.10,-764.86 1117.20,-725.78 1117.30,-687.76 1117.40,-650.78 1117.50,-614.80 1117.60,-579.78 1117.70,-545.68 1117.80,-512.48 1117.90,-480.14 1118.00,-448.64 1118.10,-417.94 1118.20,-388.03 1118.30,-358.86 1118.40,-330.43 1118.50,-302.69 1118.60,-275.64 1118.70,-249.25 1118.80,-223.49 1118.90,-198.36 1119.00,-173.82 1119.10,-149.86 1119.20,-126.46 1119.30,-103.60 1119.40,-81.27 1119.50,-59.46 1119.60,-38.14 1119.70,-17.30 1119.80,3.08 1119.90,23.00 1120.00,42.48 1120.10,61.54 1120.20,80.18 1120.30,98.42 1120.40,116.26 1120.50,133.73 1120.60,150.83 1120.70,167.57 1120.80,183.96 1120.90,200.01 1121.00,215.73 1121.10,231.13 1121.20,246.22 1121.30,261.00 1121.40,275.49 1121.50,289.69 1121.60,303.61 1121.70,317.25 1121.80,330.63 1121.90,343.75 1122.00,356.62 1122.10,369.24 1122.20,381.62 1122.30,393.77 1122.40,405.69 1122.50,417.39 1122.60,428.87 1122.70,440.13 1122.80,451.20 1122.90,462.06 1123.00,472.72 1123.10,483.19 1123.20,493.48 1123.30,503.58 1123.40,513.50 1123.50,523.25 1123.60,532.83 1123.70,542.24 1123.80,551.49 1123.90,560.58 1124.00,569.51 1124.10,578.30 1124.20,586.93 1124.30,595.42 1124.40,603.77 1124.50,611.98 1124.60,620.06 1124.70,628.00 1124.80,635.81 1124.90,643.49 1125.00,651.05 1125.10,658.49 1125.20,665.81 1125.30,673.01 1125.40,680.10 1125.50,687.08 1125.60,693.95 1125.70,700.71 1125.80,707.37 1125.90,713.92 1126.00,720.38 1126.10,726.73 1126.20,732.99 1126.30,739.15 1126.40,745.22 1126.50,751.20 1126.60,757.10 1126.70,762.90 1126.80,768.62 1126.90,774.25 1127.00,779.81 1127.10,785.28 1127.20,790.67 1127.30,795.98 1127.40,801.22 1127.50,806.39 1127.60,811.48 1127.70,816.50 1127.80,821.44 1127.90,826.32 1128.00,831.14 1128.10,835.88 1128.20,840.56 1128.30,845.17 1128.40,849.73 1128.50,854.22 1128.60,858.64 1128.70,863.01 1128.80,867.32 1128.90,871.58 1129.00,875.77 1129.10,879.91 1129.20,884.00 1129.30,888.03 1129.40,892.01 1129.50,895.94 1129.60,899.82 1129.70,903.64 1129.80,907.42 1129.90,911.15 1130.00,914.83 1130.10,918.47 1130.20,922.05 1130.30,925.60 1130.40,929.10 1130.50,932.55 1130.60,935.97 1130.70,939.34 1130.80,942.67 1130.90,945.95 1131.00,949.20 1131.10,952.41 1131.20,955.58 1131.30,958.71 1131.40,961.80 1131.50,964.86 1131.60,967.88 1131.70,970.86 1131.80,973.81 1131.90,976.73 1132.00,979.61 1132.10,982.45 1132.20,985.27 1132.30,988.05 1132.40,990.79 1132.50,993.51 1132.60,996.19 1132.70,998.85 1132.80,1001.47 1132.90,1004.07 1133.00,1006.63 1133.10,1009.17 1133.20,1011.68 1133.30,1014.15 1133.40,1016.61 1133.50,1019.03 1133.60,1021.43 1133.70,1023.80 1133.80,1026.15 1133.90,1028.47 1134.00,1030.76 1134.10,1033.03 1134.20,1035.27 1134.30,1037.50 1134.40,1039.69 1134.50,1041.87 1134.60,1044.02 1134.70,1046.14 1134.80,1048.25 1134.90,1050.33 1135.00,1052.39 1135.10,1054.43 1135.20,1056.45 1135.30,1058.44 1135.40,1060.42 1135.50,1062.38 1135.60,1064.31 1135.70,1066.23 1135.80,1068.12 1135.90,1070.00 1136.00,1071.86 1136.10,1073.70 1136.20,1075.52 1136.30,1077.32 1136.40,1079.10 1136.50,1080.87 1136.60,1082.62 1136.70,1084.35 1136.80,1086.06 1136.90,1087.76 1137.00,1089.44 1137.10,1091.10 1137.20,1092.75 1137.30,1094.38 1137.40,1096.00 1137.50,1097.60 1137.60,1099.18 1137.70,1100.75 1137.80,1102.31 1137.90,1103.85 1138.00,1105.37 1138.10,1106.88 1138.20,1108.38 1138.30,1109.86 1138.40,1111.33 1138.50,1112.78 1138.60,1114.22 1138.70,1115.65 1138.80,1117.06 1138.90,1118.47 1139.00,1119.85 1139.10,1121.23 1139.20,1122.59 1139.30,1123.94 1139.40,1125.28 1139.50,1126.61 1139.60,1127.92 1139.70,1129.22 1139.80,1130.51 1139.90,1131.79 1140.00,1133.06 1140.10,1134.31 1140.20,1135.56 1140.30,1136.79 1140.40,1138.01 1140.50,1139.23 1140.60,1140.43 1140.70,1141.62 1140.80,1142.80 1140.90,1143.97 1141.00,1145.13 1141.10,1146.28 1141.20,1147.42 1141.30,1148.55 1141.40,1149.67 1141.50,1150.78 1141.60,1151.88 1141.70,1152.97 1141.80,1154.05 1141.90,1155.13 1142.00,1156.19 1142.10,1157.25 1142.20,1158.29 1142.30,1159.33 1142.40,1160.36 1142.50,1161.38 1142.60,1162.39 1142.70,1163.40 1142.80,1164.39 1142.90,1165.38 1143.00,1166.36 1143.10,1167.33 1143.20,1168.29 1143.30,1169.25 1143.40,1170.19 1143.50,1171.13 1143.60,1172.07 1143.70,1172.99 1143.80,1173.91 1143.90,1174.82 1144.00,1175.72 1144.10,1176.62 1144.20,1177.50 1144.30,1178.38 1144.40,1179.26 1144.50,1180.13 1144.60,1180.99 1144.70,1181.84 1144.80,1182.69 1144.90,1183.53 1145.00,1184.36 1145.10,1185.19 1145.20,1186.01 1145.30,1186.82 1145.40,1187.63 1145.50,1188.44 1145.60,1189.23 1145.70,1190.02 1145.80,1190.81 1145.90,1191.58 1146.00,1192.35 1146.10,1193.12 1146.20,1193.88 1146.30,1194.64 1146.40,1195.38 1146.50,1196.13 1147.10,1200.47 1148.10,1207.30 1149.10,1213.65 1150.10,1219.57 1151.10,1225.10 1152.10,1230.26 1153.10,1235.10 1154.10,1239.63 1155.10,1243.89 1156.10,1247.89 1157.10,1251.66 1158.10,1255.21 1159.10,1258.56 1160.10,1261.72 1161.10,1264.71 1162.10,1267.54 1163.10,1270.22 1164.10,1272.76 1165.10,1275.18 1166.10,1277.47 1167.10,1279.65 1168.10,1281.72 1169.10,1283.70 1170.10,1285.58 1171.10,1287.38 1172.10,1289.10 1173.10,1290.73 1174.10,1292.30 1175.10,1293.80 1176.10,1295.23 1177.10,1296.61 1178.10,1297.92 1179.10,1299.18 1180.10,1300.39 1181.10,1301.56 1182.10,1302.67 1183.10,1303.75 1184.10,1304.78 1185.10,1305.77 1186.10,1306.73 1187.10,1307.65 1188.10,1308.53 1189.10,1309.39 1190.10,1310.21 1191.10,1311.01 1192.10,1311.77 1193.10,1312.51 1194.10,1313.23 1195.10,1313.92 1196.10,1314.59 1197.10,1315.24 1198.10,1315.86 1199.10,1316.47 1200.10,1317.05 1201.10,1317.62 1202.10,1318.17 1203.10,1318.70 1204.10,1319.22 1205.10,1319.72 1206.10,1320.20 1207.10,1320.67 1208.10,1321.13 1209.10,1321.58 1210.10,1322.01 1211.10,1322.43 1212.10,1322.83 1213.10,1323.23 1214.10,1323.61 1215.10,1323.99 1216.10,1324.35 1217.10,1324.70 1218.10,1325.05 1219.10,1325.38 1220.10,1325.71 1221.10,1326.03 1222.10,1326.34 1223.10,1326.64 1224.10,1326.93 1225.10,1327.22 1226.10,1327.50 1227.10,1327.77 1228.10,1328.04 1229.10,1328.30 1230.10,1328.55 1231.10,1328.80 1232.10,1329.04 1233.10,1329.28 1234.10,1329.51 1235.10,1329.73 1236.10,1329.95 1237.10,1330.17 1238.10,1330.37 1239.10,1330.58 1240.10,1330.78 1241.10,1330.98 1242.10,1331.17 1243.10,1331.35 1244.10,1331.54 1245.10,1331.72 1246.10,1331.89 1247.10,1332.06 1248.10,1332.23 1249.10,1332.40 1250.10,1332.56 1251.10,1332.72 1252.10,1332.87 1253.10,1333.02 1254.10,1333.17 1255.10,1333.32 1256.10,1333.46 1257.10,1333.60 1258.10,1333.73 1259.10,1333.87 1260.10,1334.00 1261.10,1334.13 1262.10,1334.26 1263.10,1334.38 1264.10,1334.50 1265.10,1334.62 1266.10,1334.74 1267.10,1334.85 1268.10,1334.97 1269.10,1335.08 1270.10,1335.19 1271.10,1335.29 1272.10,1335.40 1273.10,1335.50 1274.10,1335.60 1275.10,1335.70 1276.10,1335.80 1277.10,1335.89" fill="none" stroke="#0000ff" stroke-width="1.9" stroke-linejoin="round"/></g>
<polyline points="83.10,1344.00 84.10,1344.00 85.10,1344.00 86.10,1344.00 87.10,1344.00 88.10,1344.00 89.10,1344.00 90.10,1344.00 91.10,1344.00 92.10,1344.00 93.10,1344.00 94.10,1344.00 95.10,1344.00 96.10,1344.00 97.10,1344.00 98.10,1344.00 99.10,1344.00 100.10,1344.00 101.10,1344.00 102.10,1344.00 103.10,1344.00 104.10,1344.00 105.10,1344.00 106.10,1344.00 107.10,1344.00 108.10,1344.00 109.10,1344.00 110.10,1344.00 111.10,1344.00 112.10,1344.00 113.10,1344.00 114.10,1344.00 115.10,1344.00 116.10,1344.00 117.10,1344.00 118.10,1344.00 119.10,1344.00 120.10,1344.00 121.10,1344.00 122.10,1344.00 123.10,1344.00 124.10,1344.00 125.10,1344.00 126.10,1344.00 127.10,1344.00 128.10,1344.00 129.10,1344.00 130.10,1344.00 131.10,1344.00 132.10,1344.00 133.10,1344.00 134.10,1344.00 135.10,1344.00 136.10,1344.00 137.10,1344.00 138.10,1344.00 139.10,1344.00 140.10,1344.00 141.10,1344.00 142.10,1344.00 143.10,1344.00 144.10,1344.00 145.10,1344.00 146.10,1344.00 147.10,1344.00 148.10,1344.00 149.10,1344.00 150.10,1344.00 151.10,1344.00 152.10,1344.00 153.10,1344.00 154.10,1344.00 155.10,1344.00 156.10,1344.00 157.10,1344.00 158.10,1344.00 159.10,1344.00 160.10,1344.00 161.10,1344.00 162.10,1344.00 163.10,1344.00 164.10,1344.00 165.10,1344.00 166.10,1344.00 167.10,1344.00 168.10,1344.00 169.10,1344.00 170.10,1344.00 171.10,1344.00 172.10,1344.00 173.10,1344.00 174.10,1344.00 175.10,1344.00 176.10,1344.00 177.10,1344.00 178.10,1344.00 179.10,1344.00 180.10,1344.00 181.10,1344.00 182.10,1344.00 183.10,1344.00 184.10,1344.00 185.10,1344.00 186.10,1344.00 187.10,1344.00 188.10,1344.00 189.10,1344.00 190.10,1344.00 191.10,1344.00 192.10,1344.00 193.10,1344.00 194.10,1344.00 195.10,1344.00 196.10,1344.00 197.10,1344.00 198.10,1344.00 199.10,1344.00 200.10,1344.00 201.10,1344.00 202.10,1344.00 203.10,1344.00 204.10,1344.00 205.10,1344.00 206.10,1344.00 207.10,1344.00 208.10,1344.00 209.10,1344.00 210.10,1344.00 211.10,1344.00 212.10,1344.00 213.10,1344.00 214.10,1344.00 215.10,1344.00 216.10,1344.00 217.10,1344.00 218.10,1344.00 219.10,1344.00 220.10,1344.00 221.10,1344.00 222.10,1344.00 223.10,1344.00 224.10,1344.00 225.10,1344.00 226.10,1344.00 227.10,1344.00 228.10,1344.00 229.10,1344.00 230.10,1344.00 231.10,1344.00 232.10,1344.00 233.10,1344.00 234.10,1344.00 235.10,1344.00 236.10,1344.00 237.10,1344.00 238.10,1344.00 239.10,1344.00 240.10,1344.00 241.10,1344.00 242.10,1344.00 243.10,1344.00 244.10,1344.00 245.10,1344.00 246.10,1344.00 247.10,1344.00 248.10,1344.00 249.10,1344.00 250.10,1344.00 251.10,1344.00 252.10,1344.00 253.10,1344.00 254.10,1344.00 255.10,1344.00 256.10,1344.00 257.10,1344.00 258.10,1344.00 259.10,1344.00 260.10,1344.00 261.10,1344.00 262.10,1344.00 263.10,1344.00 264.10,1344.00 265.10,1344.00 266.10,1344.00 267.10,1344.00 268.10,1344.00 269.10,1344.00 270.10,1344.00 271.10,1344.00 272.10,1344.00 273.10,1344.00 274.10,1344.00 275.10,1344.00 276.10,1344.00 277.10,1344.00 278.10,1344.00 279.10,1344.00 280.10,1344.00 281.10,1344.00 282.10,1344.00 283.10,1344.00 284.10,1344.00 285.10,1344.00 286.10,1344.00 287.10,1344.00 288.10,1344.00 289.10,1344.00 290.10,1344.00 291.10,1344.00 292.10,1344.00 293.10,1344.00 294.10,1344.00 295.10,1344.00 296.10,1344.00 297.10,1344.00 298.10,1344.00 299.10,1344.00 300.10,1344.00 301.10,1344.00 302.10,1344.00 303.10,1344.00 304.10,1344.00 305.10,1344.00 306.10,1344.00 307.10,1344.00 308.10,1344.00 309.10,1344.00 310.10,1344.00 311.10,1344.00 312.10,1344.00 313.10,1344.00 314.10,1344.00 315.10,1344.00 316.10,1344.00 317.10,1344.00 318.10,1344.00 319.10,1344.00 320.10,1344.00 321.10,1344.00 322.10,1344.00 323.10,1344.00 324.10,1344.00 325.10,1344.00 326.10,1344.00 327.10,1344.00 328.10,1344.00 329.10,1344.00 330.10,1344.00 331.10,1344.00 332.10,1344.00 333.10,1344.00 334.10,1344.00 335.10,1344.00 336.10,1344.00 337.10,1344.00 338.10,1344.00 339.10,1344.00 340.10,1344.00 341.10,1344.00 342.10,1344.00 343.10,1344.00 344.10,1344.00 345.10,1344.00 346.10,1344.00 347.10,1344.00 348.10,1344.00 349.10,1344.00 350.10,1344.00 351.10,1344.00 352.10,1344.00 353.10,1344.00 354.10,1344.00 355.10,1344.00 356.10,1344.00 357.10,1344.00 358.10,1344.00 359.10,1344.00 360.10,1344.00 361.10,1344.00 362.10,1344.00 363.10,1344.00 364.10,1344.00 365.10,1344.00 366.10,1344.00 367.10,1344.00 368.10,1344.00 369.10,1344.00 370.10,1344.00 371.10,1344.00 372.10,1344.00 373.10,1344.00 374.10,1344.00 375.10,1344.00 376.10,1344.00 377.10,1344.00 378.10,1344.00 379.10,1344.00 380.10,1344.00 381.10,1344.00 382.10,1344.00 383.10,1344.00 384.10,1344.00 385.10,1344.00 386.10,1344.00 387.10,1344.00 388.10,1344.00 389.10,1344.00 390.10,1344.00 391.10,1344.00 392.10,1344.00 393.10,1344.00 394.10,1344.00 395.10,1344.00 396.10,1344.00 397.10,1344.00 398.10,1344.00 399.10,1344.00 400.10,1344.00 401.10,1344.00 402.10,1344.00 403.10,1344.00 404.10,1344.00 405.10,1344.00 406.10,1344.00 407.10,1344.00 408.10,1344.00 409.10,1344.00 410.10,1344.00 411.10,1344.00 412.10,1344.00 413.10,1344.00 414.10,1344.00 415.10,1344.00 416.10,1344.00 417.10,1344.00 418.10,1344.00 419.10,1344.00 420.10,1344.00 421.10,1344.00 422.10,1344.00 423.10,1344.00 424.10,1344.00 425.10,1344.00 426.10,1344.00 427.10,1344.00 428.10,1344.00 429.10,1344.00 430.10,1344.00 431.10,1344.00 432.10,1344.00 433.10,1344.00 434.10,1344.00 435.10,1344.00 436.10,1344.00 437.10,1344.00 438.10,1344.00 439.10,1344.00 440.10,1344.00 441.10,1344.00 442.10,1344.00 443.10,1344.00 444.10,1344.00 445.10,1344.00 446.10,1344.00 447.10,1344.00 448.10,1344.00 449.10,1344.00 450.10,1344.00 451.10,1344.00 452.10,1344.00 453.10,1344.00 454.10,1344.00 455.10,1344.00 456.10,1344.00 457.10,1344.00 458.10,1344.00 459.10,1344.00 460.10,1344.00 461.10,1344.00 462.10,1344.00 463.10,1344.00 464.10,1344.00 465.10,1344.00 466.10,1344.00 467.10,1344.00 468.10,1344.00 469.10,1344.00 470.10,1344.00 471.10,1344.00 472.10,1344.00 473.10,1344.00 474.10,1344.00 475.10,1344.00 476.10,1344.00 477.10,1344.00 478.10,1344.00 479.10,1344.00 480.10,1344.00 481.10,1344.00 482.10,1344.00 483.10,1344.00 484.10,1344.00 485.10,1344.00 486.10,1344.00 487.10,1344.00 488.10,1344.00 489.10,1344.00 490.10,1344.00 491.10,1344.00 492.10,1344.00 493.10,1344.00 494.10,1344.00 495.10,1344.00 496.10,1344.00 497.10,1344.00 498.10,1344.00 499.10,1344.00 500.10,1344.00 501.10,1344.00 502.10,1344.00 503.10,1344.00 504.10,1344.00 505.10,1344.00 506.10,1344.00 507.10,1344.00 508.10,1344.00 509.10,1344.00 510.10,1344.00 511.10,1344.00 512.10,1344.00 513.10,1344.00 514.10,1344.00 515.10,1344.00 516.10,1344.00 517.10,1344.00 518.10,1344.00 519.10,1344.00 520.10,1344.00 521.10,1344.00 522.10,1344.00 523.10,1344.00 524.10,1344.00 525.10,1344.00 526.10,1344.00 527.10,1344.00 528.10,1344.00 529.10,1344.00 530.10,1344.00 531.10,1344.00 532.10,1344.00 533.10,1344.00 534.10,1344.00 535.10,1344.00 536.10,1344.00 537.10,1344.00 538.10,1344.00 539.10,1344.00 540.10,1344.00 541.10,1344.00 542.10,1344.00 543.10,1344.00 544.10,1344.00 545.10,1344.00 546.10,1344.00 547.10,1344.00 548.10,1344.00 549.10,1344.00 550.10,1344.00 551.10,1344.00 552.10,1344.00 553.10,1344.00 554.10,1344.00 555.10,1344.00 556.10,1344.00 557.10,1344.00 558.10,1344.00 559.10,1344.00 560.10,1344.00 561.10,1344.00 562.10,1344.00 563.10,1344.00 564.10,1344.00 565.10,1344.00 566.10,1344.00 567.10,1344.00 568.10,1344.00 569.10,1344.00 570.10,1344.00 571.10,1344.00 572.10,1344.00 573.10,1344.00 574.10,1344.00 575.10,1344.00 576.10,1344.00 577.10,1344.00 578.10,1344.00 579.10,1344.00 580.10,1344.00 581.10,1344.00 582.10,1344.00 583.10,1344.00 584.10,1344.00 585.10,1344.00 586.10,1344.00 587.10,1344.00 588.10,1344.00 589.10,1344.00 590.10,1344.00 591.10,1344.00 592.10,1344.00 593.10,1344.00 594.10,1344.00 595.10,1344.00 596.10,1344.00 597.10,1344.00 598.10,1344.00 599.10,1344.00 600.10,1344.00 601.10,1344.00 602.10,1344.00 603.10,1344.00 604.10,1344.00 605.10,1344.00 606.10,1344.00 607.10,1344.00 608.10,1344.00 609.10,1344.00 610.10,1344.00 611.10,1344.00 612.10,1344.00 613.10,1344.00 614.10,1344.00 615.10,1344.00 616.10,1344.00 617.10,1344.00 618.10,1344.00 619.10,1344.00 620.10,1344.00 621.10,1344.00 622.10,1344.00 623.10,1344.00 624.10,1344.00 625.10,1344.00 626.10,1344.00 627.10,1344.00 628.10,1344.00 629.10,1344.00 630.10,1344.00 631.10,1344.00 632.10,1344.00 633.10,1344.00 634.10,1344.00 635.10,1344.00 636.10,1344.00 637.10,1344.00 638.10,1344.00 639.10,1344.00 640.10,1344.00 641.10,1344.00 642.10,1344.00 643.10,1344.00 644.10,1344.00 645.10,1344.00 646.10,1344.00 647.10,1344.00 648.10,1344.00 649.10,1344.00 650.10,1344.00 651.10,1344.00 652.10,1344.00 653.10,1344.00 654.10,1344.00 655.10,1344.00 656.10,1344.00 657.10,1344.00 658.10,1344.00 659.10,1344.00 660.10,1344.00 661.10,1344.00 662.10,1344.00 663.10,1344.00 664.10,1344.00 665.10,1344.00 666.10,1344.00 667.10,1344.00 668.10,1344.00 669.10,1344.00 670.10,1344.00 671.10,1344.00 672.10,1344.00 673.10,1344.00 674.10,1344.00 675.10,1344.00 676.10,1344.00 677.10,1344.00 678.10,1344.00 679.10,1344.00 680.10,1344.00 681.10,1344.00 682.10,1344.00 683.10,1344.00 684.10,1344.00 685.10,1344.00 686.10,1344.00 687.10,1344.00 688.10,1344.00 689.10,1344.00 690.10,1344.00 691.10,1344.00 692.10,1344.00 693.10,1344.00 694.10,1344.00 695.10,1344.00 696.10,1344.00 697.10,1344.00 698.10,1344.00 699.10,1344.00 700.10,1344.00 701.10,1344.00 702.10,1344.00 703.10,1344.00 704.10,1344.00 705.10,1344.00 706.10,1344.00 707.10,1344.00 708.10,1344.00 709.10,1344.00 710.10,1344.00 711.10,1343.99 712.10,1343.99 713.10,1343.99 714.10,1343.99 715.10,1343.99 716.10,1343.99 717.10,1343.99 718.10,1343.99 719.10,1343.99 720.10,1343.99 721.10,1343.99 722.10,1343.99 723.10,1343.99 724.10,1343.99 725.10,1343.99 726.10,1343.99 727.10,1343.99 728.10,1343.99 729.10,1343.99 730.10,1343.99 731.10,1343.99 732.10,1343.99 733.10,1343.99 734.10,1343.99 735.10,1343.99 736.10,1343.99 737.10,1343.99 738.10,1343.99 739.10,1343.99 740.10,1343.99 741.10,1343.99 742.10,1343.99 743.10,1343.99 744.10,1343.99 745.10,1343.99 746.10,1343.99 747.10,1343.99 748.10,1343.99 749.10,1343.99 750.10,1343.99 751.10,1343.99 752.10,1343.99 753.10,1343.99 754.10,1343.99 755.10,1343.99 756.10,1343.99 757.10,1343.99 758.10,1343.99 759.10,1343.99 760.10,1343.99 761.10,1343.99 762.10,1343.99 763.10,1343.99 764.10,1343.99 765.10,1343.99 766.10,1343.99 767.10,1343.99 768.10,1343.99 769.10,1343.99 770.10,1343.99 771.10,1343.99 772.10,1343.99 773.10,1343.99 774.10,1343.99 775.10,1343.99 776.10,1343.99 777.10,1343.99 778.10,1343.99 779.10,1343.99 780.10,1343.99 781.10,1343.99 782.10,1343.99 783.10,1343.99 784.10,1343.99 785.10,1343.99 786.10,1343.99 787.10,1343.99 788.10,1343.99 789.10,1343.99 790.10,1343.99 791.10,1343.99 792.10,1343.99 793.10,1343.99 794.10,1343.99 795.10,1343.99 796.10,1343.99 797.10,1343.99 798.10,1343.99 799.10,1343.99 800.10,1343.99 801.10,1343.99 802.10,1343.99 803.10,1343.99 804.10,1343.99 805.10,1343.99 806.10,1343.99 807.10,1343.99 808.10,1343.99 809.10,1343.99 810.10,1343.99 811.10,1343.99 812.10,1343.99 813.10,1343.99 814.10,1343.99 815.10,1343.99 816.10,1343.99 817.10,1343.99 818.10,1343.99 819.10,1343.99 820.10,1343.99 821.10,1343.99 822.10,1343.99 823.10,1343.99 824.10,1343.99 825.10,1343.99 826.10,1343.99 827.10,1343.99 828.10,1343.99 829.10,1343.99 830.10,1343.99 831.10,1343.99 832.10,1343.99 833.10,1343.99 834.10,1343.99 835.10,1343.99 836.10,1343.99 837.10,1343.99 838.10,1343.99 839.10,1343.99 840.10,1343.99 841.10,1343.99 842.10,1343.99 843.10,1343.99 844.10,1343.99 845.10,1343.99 846.10,1343.99 847.10,1343.99 848.10,1343.99 849.10,1343.99 850.10,1343.99 851.10,1343.99 852.10,1343.99 853.10,1343.99 854.10,1343.99 855.10,1343.99 856.10,1343.99 857.10,1343.99 858.10,1343.99 859.10,1343.99 860.10,1343.99 861.10,1343.99 862.10,1343.99 863.10,1343.99 864.10,1343.99 865.10,1343.99 866.10,1343.99 867.10,1343.99 868.10,1343.99 869.10,1343.99 870.10,1343.99 871.10,1343.99 872.10,1343.99 873.10,1343.99 874.10,1343.99 875.10,1343.99 876.10,1343.99 877.10,1343.99 878.10,1343.98 879.10,1343.98 880.10,1343.98 881.10,1343.98 882.10,1343.98 883.10,1343.98 884.10,1343.98 885.10,1343.98 886.10,1343.98 887.10,1343.98 888.10,1343.98 889.10,1343.98 890.10,1343.98 891.10,1343.98 892.10,1343.98 893.10,1343.98 894.10,1343.98 895.10,1343.98 896.10,1343.98 897.10,1343.98 898.10,1343.98 899.10,1343.98 900.10,1343.98 901.10,1343.98 902.10,1343.98 903.10,1343.98 904.10,1343.98 905.10,1343.98 906.10,1343.98 907.10,1343.98 908.10,1343.98 909.10,1343.98 910.10,1343.98 911.10,1343.98 912.10,1343.98 913.10,1343.98 914.10,1343.98 915.10,1343.98 916.10,1343.98 917.10,1343.98 918.10,1343.98 919.10,1343.98 920.10,1343.98 921.10,1343.98 922.10,1343.98 923.10,1343.98 924.10,1343.98 925.10,1343.98 926.10,1343.98 927.10,1343.98 928.10,1343.98 929.10,1343.98 930.10,1343.97 931.10,1343.97 932.10,1343.97 933.10,1343.97 934.10,1343.97 935.10,1343.97 936.10,1343.97 937.10,1343.97 938.10,1343.97 939.10,1343.97 940.10,1343.97 941.10,1343.97 942.10,1343.97 943.10,1343.97 944.10,1343.97 945.10,1343.97 946.10,1343.97 947.10,1343.97 948.10,1343.97 949.10,1343.97 950.10,1343.97 951.10,1343.97 952.10,1343.97 953.10,1343.97 954.10,1343.97 955.10,1343.97 956.10,1343.97 957.10,1343.96 958.10,1343.96 959.10,1343.96 960.10,1343.96 961.10,1343.96 962.10,1343.96 963.10,1343.96 964.10,1343.96 965.10,1343.96 966.10,1343.96 967.10,1343.96 968.10,1343.96 969.10,1343.96 970.10,1343.96 971.10,1343.96 972.10,1343.96 973.10,1343.96 974.10,1343.96 975.10,1343.95 976.10,1343.95 977.10,1343.95 978.10,1343.95 979.10,1343.95 980.10,1343.95 981.10,1343.95 982.10,1343.95 983.10,1343.95 984.10,1343.95 985.10,1343.95 986.10,1343.95 987.10,1343.95 988.10,1343.94 989.10,1343.94 990.10,1343.94 991.10,1343.94 992.10,1343.94 993.10,1343.94 994.10,1343.94 995.10,1343.94 996.10,1343.94 997.10,1343.93 998.10,1343.93 999.10,1343.93 1000.10,1343.93 1001.10,1343.93 1002.10,1343.93 1003.10,1343.93 1004.10,1343.93 1005.10,1343.92 1006.10,1343.92 1007.10,1343.92 1008.10,1343.92 1009.10,1343.92 1010.10,1343.92 1011.10,1343.91 1012.10,1343.91 1013.10,1343.91 1014.10,1343.91 1015.10,1343.91 1016.10,1343.90 1017.10,1343.90 1018.10,1343.90 1019.10,1343.90 1020.10,1343.90 1021.10,1343.89 1022.10,1343.89 1023.10,1343.89 1024.10,1343.88 1025.10,1343.88 1026.10,1343.88 1027.10,1343.88 1028.10,1343.87 1029.10,1343.87 1030.10,1343.87 1031.10,1343.86 1032.10,1343.86 1033.10,1343.85 1034.10,1343.85 1035.10,1343.85 1036.10,1343.84 1037.10,1343.84 1038.10,1343.83 1039.10,1343.83 1040.10,1343.82 1041.10,1343.82 1042.10,1343.81 1043.10,1343.81 1044.10,1343.80 1045.10,1343.79 1046.10,1343.79 1047.10,1343.78 1048.10,1343.77 1049.10,1343.76 1050.10,1343.75 1051.10,1343.75 1052.10,1343.74 1053.10,1343.73 1054.10,1343.72 1055.10,1343.70 1056.10,1343.69 1057.10,1343.68 1058.10,1343.67 1059.10,1343.65 1060.10,1343.64 1061.10,1343.62 1062.10,1343.60 1063.10,1343.59 1064.10,1343.57 1065.10,1343.54 1066.10,1343.52 1066.60,1343.51 1066.70,1343.51 1066.80,1343.50 1066.90,1343.50 1067.00,1343.50 1067.10,1343.50 1067.20,1343.49 1067.30,1343.49 1067.40,1343.49 1067.50,1343.49 1067.60,1343.48 1067.70,1343.48 1067.80,1343.48 1067.90,1343.48 1068.00,1343.47 1068.10,1343.47 1068.20,1343.47 1068.30,1343.47 1068.40,1343.46 1068.50,1343.46 1068.60,1343.46 1068.70,1343.45 1068.80,1343.45 1068.90,1343.45 1069.00,1343.45 1069.10,1343.44 1069.20,1343.44 1069.30,1343.44 1069.40,1343.43 1069.50,1343.43 1069.60,1343.43 1069.70,1343.42 1069.80,1343.42 1069.90,1343.42 1070.00,1343.41 1070.10,1343.41 1070.20,1343.41 1070.30,1343.40 1070.40,1343.40 1070.50,1343.40 1070.60,1343.39 1070.70,1343.39 1070.80,1343.39 1070.90,1343.38 1071.00,1343.38 1071.10,1343.38 1071.20,1343.37 1071.30,1343.37 1071.40,1343.37 1071.50,1343.36 1071.60,1343.36 1071.70,1343.36 1071.80,1343.35 1071.90,1343.35 1072.00,1343.34 1072.10,1343.34 1072.20,1343.34 1072.30,1343.33 1072.40,1343.33 1072.50,1343.33 1072.60,1343.32 1072.70,1343.32 1072.80,1343.31 1072.90,1343.31 1073.00,1343.31 1073.10,1343.30 1073.20,1343.30 1073.30,1343.29 1073.40,1343.29 1073.50,1343.28 1073.60,1343.28 1073.70,1343.28 1073.80,1343.27 1073.90,1343.27 1074.00,1343.26 1074.10,1343.26 1074.20,1343.25 1074.30,1343.25 1074.40,1343.24 1074.50,1343.24 1074.60,1343.23 1074.70,1343.23 1074.80,1343.22 1074.90,1343.22 1075.00,1343.21 1075.10,1343.21 1075.20,1343.20 1075.30,1343.20 1075.40,1343.19 1075.50,1343.19 1075.60,1343.18 1075.70,1343.18 1075.80,1343.17 1075.90,1343.17 1076.00,1343.16 1076.10,1343.16 1076.20,1343.15 1076.30,1343.15 1076.40,1343.14 1076.50,1343.13 1076.60,1343.13 1076.70,1343.12 1076.80,1343.12 1076.90,1343.11 1077.00,1343.11 1077.10,1343.10 1077.20,1343.09 1077.30,1343.09 1077.40,1343.08 1077.50,1343.07 1077.60,1343.07 1077.70,1343.06 1077.80,1343.05 1077.90,1343.05 1078.00,1343.04 1078.10,1343.03 1078.20,1343.03 1078.30,1343.02 1078.40,1343.01 1078.50,1343.01 1078.60,1343.00 1078.70,1342.99 1078.80,1342.99 1078.90,1342.98 1079.00,1342.97 1079.10,1342.96 1079.20,1342.96 1079.30,1342.95 1079.40,1342.94 1079.50,1342.93 1079.60,1342.92 1079.70,1342.92 1079.80,1342.91 1079.90,1342.90 1080.00,1342.89 1080.10,1342.88 1080.20,1342.88 1080.30,1342.87 1080.40,1342.86 1080.50,1342.85 1080.60,1342.84 1080.70,1342.83 1080.80,1342.82 1080.90,1342.81 1081.00,1342.80 1081.10,1342.79 1081.20,1342.79 1081.30,1342.78 1081.40,1342.77 1081.50,1342.76 1081.60,1342.75 1081.70,1342.74 1081.80,1342.73 1081.90,1342.72 1082.00,1342.71 1082.10,1342.69 1082.20,1342.68 1082.30,1342.67 1082.40,1342.66 1082.50,1342.65 1082.60,1342.64 1082.70,1342.63 1082.80,1342.62 1082.90,1342.61 1083.00,1342.59 1083.10,1342.58 1083.20,1342.57 1083.30,1342.56 1083.40,1342.54 1083.50,1342.53 1083.60,1342.52 1083.70,1342.51 1083.80,1342.49 1083.90,1342.48 1084.00,1342.47 1084.10,1342.45 1084.20,1342.44 1084.30,1342.43 1084.40,1342.41 1084.50,1342.40 1084.60,1342.38 1084.70,1342.37 1084.80,1342.35 1084.90,1342.34 1085.00,1342.32 1085.10,1342.31 1085.20,1342.29 1085.30,1342.27 1085.40,1342.26 1085.50,1342.24 1085.60,1342.22 1085.70,1342.21 1085.80,1342.19 1085.90,1342.17 1086.00,1342.16 1086.10,1342.14 1086.20,1342.12 1086.30,1342.10 1086.40,1342.08 1086.50,1342.06 1086.60,1342.04 1086.70,1342.02 1086.80,1342.00 1086.90,1341.98 1087.00,1341.96 1087.10,1341.94 1087.20,1341.92 1087.30,1341.90 1087.40,1341.88 1087.50,1341.86 1087.60,1341.83 1087.70,1341.81 1087.80,1341.79 1087.90,1341.76 1088.00,1341.74 1088.10,1341.71 1088.20,1341.69 1088.30,1341.66 1088.40,1341.64 1088.50,1341.61 1088.60,1341.59 1088.70,1341.56 1088.80,1341.53 1088.90,1341.50 1089.00,1341.48 1089.10,1341.45 1089.20,1341.42 1089.30,1341.39 1089.40,1341.36 1089.50,1341.33 1089.60,1341.30 1089.70,1341.26 1089.80,1341.23 1089.90,1341.20 1090.00,1341.16 1090.10,1341.13 1090.20,1341.10 1090.30,1341.06 1090.40,1341.02 1090.50,1340.99 1090.60,1340.95 1090.70,1340.91 1090.80,1340.87 1090.90,1340.83 1091.00,1340.79 1091.10,1340.75 1091.20,1340.71 1091.30,1340.67 1091.40,1340.62 1091.50,1340.58 1091.60,1340.53 1091.70,1340.49 1091.80,1340.44 1091.90,1340.39 1092.00,1340.34 1092.10,1340.29 1092.20,1340.24 1092.30,1340.19 1092.40,1340.13 1092.50,1340.08 1092.60,1340.02 1092.70,1339.97 1092.80,1339.91 1092.90,1339.85 1093.00,1339.79 1093.10,1339.73 1093.20,1339.66 1093.30,1339.60 1093.40,1339.53 1093.50,1339.46 1093.60,1339.39 1093.70,1339.32 1093.80,1339.25 1093.90,1339.17 1094.00,1339.10 1094.10,1339.02 1094.20,1338.94 1094.30,1338.86 1094.40,1338.78 1094.50,1338.69 1094.60,1338.60 1094.70,1338.51 1094.80,1338.42 1094.90,1338.32 1095.00,1338.23 1095.10,1338.13 1095.20,1338.02 1095.30,1337.92 1095.40,1337.81 1095.50,1337.70 1095.60,1337.59 1095.70,1337.47 1095.80,1337.35 1095.90,1337.23 1096.00,1337.10 1096.10,1336.97 1096.20,1336.84 1096.30,1336.70 1096.40,1336.56 1096.50,1336.41 1096.60,1336.26 1096.70,1336.11 1096.80,1335.95 1096.90,1335.78 1097.00,1335.61 1097.10,1335.44 1097.20,1335.26 1097.30,1335.07 1097.40,1334.88 1097.50,1334.68 1097.60,1334.48 1097.70,1334.27 1097.80,1334.05 1097.90,1333.82 1098.00,1333.59 1098.10,1333.35 1098.20,1333.10 1098.30,1332.84 1098.40,1332.57 1098.50,1332.29 1098.60,1332.01 1098.70,1331.71 1098.80,1331.40 1098.90,1331.08 1099.00,1330.74 1099.10,1330.40 1099.20,1330.04 1099.30,1329.66 1099.40,1329.27 1099.50,1328.86 1099.60,1328.44 1099.70,1328.00 1099.80,1327.54 1099.90,1327.06 1100.00,1326.56 1100.10,1326.04 1100.20,1325.49 1100.30,1324.92 1100.40,1324.33 1100.50,1323.70 1100.60,1323.05 1100.70,1322.36 1100.80,1321.64 1100.90,1320.88 1101.00,1320.09 1101.10,1319.25 1101.20,1318.37 1101.30,1317.44 1101.40,1316.46 1101.50,1315.43 1101.60,1314.34 1101.70,1313.19 1101.80,1311.97 1101.90,1310.68 1102.00,1309.31 1102.10,1307.86 1102.20,1306.32 1102.30,1304.68 1102.40,1302.93 1102.50,1301.07 1102.60,1299.08 1102.70,1296.95 1102.80,1294.68 1102.90,1292.24 1103.00,1289.62 1103.10,1286.81 1103.20,1283.79 1103.30,1280.53 1103.40,1277.01 1103.50,1273.20 1103.60,1269.09 1103.70,1264.62 1103.80,1259.77 1103.90,1254.49 1104.00,1248.73 1104.10,1242.45 1104.20,1235.58 1104.30,1228.06 1104.40,1219.81 1104.50,1210.75 1104.60,1200.79 1104.70,1189.83 1104.80,1177.75 1104.90,1164.45 1105.00,1149.80 1105.10,1133.68 1105.20,1115.98 1105.30,1096.58 1105.40,1075.44 1105.50,1052.51 1105.60,1027.88 1105.70,1001.70 1105.80,974.31 1105.90,946.23 1106.00,918.19 1106.10,891.19 1106.20,866.41 1106.30,845.18 1106.40,828.82 1106.50,818.48 1106.60,814.94 1106.70,818.48 1106.80,828.82 1106.90,845.18 1107.00,866.41 1107.10,891.19 1107.20,918.19 1107.30,946.23 1107.40,974.31 1107.50,1001.70 1107.60,1027.88 1107.70,1052.51 1107.80,1075.44 1107.90,1096.58 1108.00,1115.98 1108.10,1133.68 1108.20,1149.80 1108.30,1164.45 1108.40,1177.75 1108.50,1189.83 1108.60,1200.79 1108.70,1210.75 1108.80,1219.81 1108.90,1228.06 1109.00,1235.58 1109.10,1242.45 1109.20,1248.73 1109.30,1254.49 1109.40,1259.77 1109.50,1264.62 1109.60,1269.09 1109.70,1273.20 1109.80,1277.01 1109.90,1280.53 1110.00,1283.79 1110.10,1286.81 1110.20,1289.62 1110.30,1292.24 1110.40,1294.68 1110.50,1296.95 1110.60,1299.08 1110.70,1301.07 1110.80,1302.93 1110.90,1304.68 1111.00,1306.32 1111.10,1307.86 1111.20,1309.31 1111.30,1310.68 1111.40,1311.97 1111.50,1313.19 1111.60,1314.34 1111.70,1315.43 1111.80,1316.46 1111.90,1317.44 1112.00,1318.37 1112.10,1319.25 1112.20,1320.09 1112.30,1320.88 1112.40,1321.64 1112.50,1322.36 1112.60,1323.05 1112.70,1323.70 1112.80,1324.33 1112.90,1324.92 1113.00,1325.49 1113.10,1326.04 1113.20,1326.56 1113.30,1327.06 1113.40,1327.54 1113.50,1328.00 1113.60,1328.44 1113.70,1328.86 1113.80,1329.27 1113.90,1329.66 1114.00,1330.04 1114.10,1330.40 1114.20,1330.74 1114.30,1331.08 1114.40,1331.40 1114.50,1331.71 1114.60,1332.01 1114.70,1332.29 1114.80,1332.57 1114.90,1332.84 1115.00,1333.10 1115.10,1333.35 1115.20,1333.59 1115.30,1333.82 1115.40,1334.05 1115.50,1334.27 1115.60,1334.48 1115.70,1334.68 1115.80,1334.88 1115.90,1335.07 1116.00,1335.26 1116.10,1335.44 1116.20,1335.61 1116.30,1335.78 1116.40,1335.95 1116.50,1336.11 1116.60,1336.26 1116.70,1336.41 1116.80,1336.56 1116.90,1336.70 1117.00,1336.84 1117.10,1336.97 1117.20,1337.10 1117.30,1337.23 1117.40,1337.35 1117.50,1337.47 1117.60,1337.59 1117.70,1337.70 1117.80,1337.81 1117.90,1337.92 1118.00,1338.02 1118.10,1338.13 1118.20,1338.23 1118.30,1338.32 1118.40,1338.42 1118.50,1338.51 1118.60,1338.60 1118.70,1338.69 1118.80,1338.78 1118.90,1338.86 1119.00,1338.94 1119.10,1339.02 1119.20,1339.10 1119.30,1339.17 1119.40,1339.25 1119.50,1339.32 1119.60,1339.39 1119.70,1339.46 1119.80,1339.53 1119.90,1339.60 1120.00,1339.66 1120.10,1339.73 1120.20,1339.79 1120.30,1339.85 1120.40,1339.91 1120.50,1339.97 1120.60,1340.02 1120.70,1340.08 1120.80,1340.13 1120.90,1340.19 1121.00,1340.24 1121.10,1340.29 1121.20,1340.34 1121.30,1340.39 1121.40,1340.44 1121.50,1340.49 1121.60,1340.53 1121.70,1340.58 1121.80,1340.62 1121.90,1340.67 1122.00,1340.71 1122.10,1340.75 1122.20,1340.79 1122.30,1340.83 1122.40,1340.87 1122.50,1340.91 1122.60,1340.95 1122.70,1340.99 1122.80,1341.02 1122.90,1341.06 1123.00,1341.10 1123.10,1341.13 1123.20,1341.16 1123.30,1341.20 1123.40,1341.23 1123.50,1341.26 1123.60,1341.30 1123.70,1341.33 1123.80,1341.36 1123.90,1341.39 1124.00,1341.42 1124.10,1341.45 1124.20,1341.48 1124.30,1341.50 1124.40,1341.53 1124.50,1341.56 1124.60,1341.59 1124.70,1341.61 1124.80,1341.64 1124.90,1341.66 1125.00,1341.69 1125.10,1341.71 1125.20,1341.74 1125.30,1341.76 1125.40,1341.79 1125.50,1341.81 1125.60,1341.83 1125.70,1341.86 1125.80,1341.88 1125.90,1341.90 1126.00,1341.92 1126.10,1341.94 1126.20,1341.96 1126.30,1341.98 1126.40,1342.00 1126.50,1342.02 1126.60,1342.04 1126.70,1342.06 1126.80,1342.08 1126.90,1342.10 1127.00,1342.12 1127.10,1342.14 1127.20,1342.16 1127.30,1342.17 1127.40,1342.19 1127.50,1342.21 1127.60,1342.22 1127.70,1342.24 1127.80,1342.26 1127.90,1342.27 1128.00,1342.29 1128.10,1342.31 1128.20,1342.32 1128.30,1342.34 1128.40,1342.35 1128.50,1342.37 1128.60,1342.38 1128.70,1342.40 1128.80,1342.41 1128.90,1342.43 1129.00,1342.44 1129.10,1342.45 1129.20,1342.47 1129.30,1342.48 1129.40,1342.49 1129.50,1342.51 1129.60,1342.52 1129.70,1342.53 1129.80,1342.54 1129.90,1342.56 1130.00,1342.57 1130.10,1342.58 1130.20,1342.59 1130.30,1342.61 1130.40,1342.62 1130.50,1342.63 1130.60,1342.64 1130.70,1342.65 1130.80,1342.66 1130.90,1342.67 1131.00,1342.68 1131.10,1342.69 1131.20,1342.71 1131.30,1342.72 1131.40,1342.73 1131.50,1342.74 1131.60,1342.75 1131.70,1342.76 1131.80,1342.77 1131.90,1342.78 1132.00,1342.79 1132.10,1342.79 1132.20,1342.80 1132.30,1342.81 1132.40,1342.82 1132.50,1342.83 1132.60,1342.84 1132.70,1342.85 1132.80,1342.86 1132.90,1342.87 1133.00,1342.88 1133.10,1342.88 1133.20,1342.89 1133.30,1342.90 1133.40,1342.91 1133.50,1342.92 1133.60,1342.92 1133.70,1342.93 1133.80,1342.94 1133.90,1342.95 1134.00,1342.96 1134.10,1342.96 1134.20,1342.97 1134.30,1342.98 1134.40,1342.99 1134.50,1342.99 1134.60,1343.00 1134.70,1343.01 1134.80,1343.01 1134.90,1343.02 1135.00,1343.03 1135.10,1343.03 1135.20,1343.04 1135.30,1343.05 1135.40,1343.05 1135.50,1343.06 1135.60,1343.07 1135.70,1343.07 1135.80,1343.08 1135.90,1343.09 1136.00,1343.09 1136.10,1343.10 1136.20,1343.11 1136.30,1343.11 1136.40,1343.12 1136.50,1343.12 1136.60,1343.13 1136.70,1343.13 1136.80,1343.14 1136.90,1343.15 1137.00,1343.15 1137.10,1343.16 1137.20,1343.16 1137.30,1343.17 1137.40,1343.17 1137.50,1343.18 1137.60,1343.18 1137.70,1343.19 1137.80,1343.19 1137.90,1343.20 1138.00,1343.20 1138.10,1343.21 1138.20,1343.21 1138.30,1343.22 1138.40,1343.22 1138.50,1343.23 1138.60,1343.23 1138.70,1343.24 1138.80,1343.24 1138.90,1343.25 1139.00,1343.25 1139.10,1343.26 1139.20,1343.26 1139.30,1343.27 1139.40,1343.27 1139.50,1343.28 1139.60,1343.28 1139.70,1343.28 1139.80,1343.29 1139.90,1343.29 1140.00,1343.30 1140.10,1343.30 1140.20,1343.31 1140.30,1343.31 1140.40,1343.31 1140.50,1343.32 1140.60,1343.32 1140.70,1343.33 1140.80,1343.33 1140.90,1343.33 1141.00,1343.34 1141.10,1343.34 1141.20,1343.34 1141.30,1343.35 1141.40,1343.35 1141.50,1343.36 1141.60,1343.36 1141.70,1343.36 1141.80,1343.37 1141.90,1343.37 1142.00,1343.37 1142.10,1343.38 1142.20,1343.38 1142.30,1343.38 1142.40,1343.39 1142.50,1343.39 1142.60,1343.39 1142.70,1343.40 1142.80,1343.40 1142.90,1343.40 1143.00,1343.41 1143.10,1343.41 1143.20,1343.41 1143.30,1343.42 1143.40,1343.42 1143.50,1343.42 1143.60,1343.43 1143.70,1343.43 1143.80,1343.43 1143.90,1343.44 1144.00,1343.44 1144.10,1343.44 1144.20,1343.45 1144.30,1343.45 1144.40,1343.45 1144.50,1343.45 1144.60,1343.46 1144.70,1343.46 1144.80,1343.46 1144.90,1343.47 1145.00,1343.47 1145.10,1343.47 1145.20,1343.47 1145.30,1343.48 1145.40,1343.48 1145.50,1343.48 1145.60,1343.48 1145.70,1343.49 1145.80,1343.49 1145.90,1343.49 1146.00,1343.49 1146.10,1343.50 1146.20,1343.50 1146.30,1343.50 1146.40,1343.50 1146.50,1343.51 1147.10,1343.52 1148.10,1343.54 1149.10,1343.57 1150.10,1343.59 1151.10,1343.60 1152.10,1343.62 1153.10,1343.64 1154.10,1343.65 1155.10,1343.67 1156.10,1343.68 1157.10,1343.69 1158.10,1343.70 1159.10,1343.72 1160.10,1343.73 1161.10,1343.74 1162.10,1343.75 1163.10,1343.75 1164.10,1343.76 1165.10,1343.77 1166.10,1343.78 1167.10,1343.79 1168.10,1343.79 1169.10,1343.80 1170.10,1343.81 1171.10,1343.81 1172.10,1343.82 1173.10,1343.82 1174.10,1343.83 1175.10,1343.83 1176.10,1343.84 1177.10,1343.84 1178.10,1343.85 1179.10,1343.85 1180.10,1343.85 1181.10,1343.86 1182.10,1343.86 1183.10,1343.87 1184.10,1343.87 1185.10,1343.87 1186.10,1343.88 1187.10,1343.88 1188.10,1343.88 1189.10,1343.88 1190.10,1343.89 1191.10,1343.89 1192.10,1343.89 1193.10,1343.90 1194.10,1343.90 1195.10,1343.90 1196.10,1343.90 1197.10,1343.90 1198.10,1343.91 1199.10,1343.91 1200.10,1343.91 1201.10,1343.91 1202.10,1343.91 1203.10,1343.92 1204.10,1343.92 1205.10,1343.92 1206.10,1343.92 1207.10,1343.92 1208.10,1343.92 1209.10,1343.93 1210.10,1343.93 1211.10,1343.93 1212.10,1343.93 1213.10,1343.93 1214.10,1343.93 1215.10,1343.93 1216.10,1343.93 1217.10,1343.94 1218.10,1343.94 1219.10,1343.94 1220.10,1343.94 1221.10,1343.94 1222.10,1343.94 1223.10,1343.94 1224.10,1343.94 1225.10,1343.94 1226.10,1343.95 1227.10,1343.95 1228.10,1343.95 1229.10,1343.95 1230.10,1343.95 1231.10,1343.95 1232.10,1343.95 1233.10,1343.95 1234.10,1343.95 1235.10,1343.95 1236.10,1343.95 1237.10,1343.95 1238.10,1343.95 1239.10,1343.96 1240.10,1343.96 1241.10,1343.96 1242.10,1343.96 1243.10,1343.96 1244.10,1343.96 1245.10,1343.96 1246.10,1343.96 1247.10,1343.96 1248.10,1343.96 1249.10,1343.96 1250.10,1343.96 1251.10,1343.96 1252.10,1343.96 1253.10,1343.96 1254.10,1343.96 1255.10,1343.96 1256.10,1343.96 1257.10,1343.97 1258.10,1343.97 1259.10,1343.97 1260.10,1343.97 1261.10,1343.97 1262.10,1343.97 1263.10,1343.97 1264.10,1343.97 1265.10,1343.97 1266.10,1343.97 1267.10,1343.97 1268.10,1343.97 1269.10,1343.97 1270.10,1343.97 1271.10,1343.97 1272.10,1343.97 1273.10,1343.97 1274.10,1343.97 1275.10,1343.97 1276.10,1343.97 1277.10,1343.97" fill="none" stroke="#000099" stroke-width="3.6" stroke-linejoin="bevel"/>
<path d="M51,149.9 H83.1 V687.3 M1277.3,149.9 V687.3 M82.2,145.2 H1278.3 M51,687.30 H83.1 M51,579.82 H83.1 M51,472.34 H83.1 M51,364.86 H83.1 M51,257.38 H83.1 M51,149.90 H83.1 M1277.3,687.30 H1310 M1277.3,615.65 H1310 M1277.3,543.99 H1310 M1277.3,472.34 H1310 M1277.3,400.69 H1310 M1277.3,329.03 H1310 M1277.3,257.38 H1310 M1277.3,185.73 H1310 M152.80,145.2 V113 M248.11,145.2 V113 M344.50,145.2 V113 M441.98,145.2 V113 M540.60,145.2 V113 M640.37,145.2 V113 M741.31,145.2 V113 M843.47,145.2 V113 M946.87,145.2 V113 M1051.53,145.2 V113 M1157.49,145.2 V113 M1264.79,145.2 V113 M51,806.7 H83.1 V1376.3 M1277.3,806.7 V1344.0 M51,1344.00 H83.1 M51,1236.54 H83.1 M51,1129.08 H83.1 M51,1021.62 H83.1 M51,914.16 H83.1 M51,806.70 H83.1 M1277.3,1344.00 H1310 M1277.3,1272.36 H1310 M1277.3,1200.72 H1310 M1277.3,1129.08 H1310 M1277.3,1057.44 H1310 M1277.3,985.80 H1310 M1277.3,914.16 H1310 M1277.3,842.52 H1310 M83.10,1344.0 V1376.3 M253.70,1344.0 V1376.3 M424.30,1344.0 V1376.3 M594.90,1344.0 V1376.3 M765.50,1344.0 V1376.3 M936.10,1344.0 V1376.3 M1106.70,1344.0 V1376.3 M1277.30,1344.0 V1376.3" fill="none" stroke="#000" stroke-width="1.8"/>
<polyline points="1055,340.6 597.2,340.6 715.6,233.6 95,233.6" fill="none" stroke="#000" stroke-width="1.8" stroke-linejoin="round"/>
<path d="M84,230.79999999999998 L101.2,222.4 Q103.9,221.6 103.9,224.4 L103.9,242.79999999999998 Q103.9,245.6 101.2,244.79999999999998 L84,236.4 Z" fill="#000"/>
<polyline points="226.4,448.1 143.3,448.1 262.1,329 95,329" fill="none" stroke="#000" stroke-width="1.8" stroke-linejoin="round"/>
<path d="M84,326.2 L101.2,317.8 Q103.9,317 103.9,319.8 L103.9,338.2 Q103.9,341 101.2,340.2 L84,331.8 Z" fill="#000"/>
<polyline points="1146.3,519.7 1265.4,519.7 1182,436.7 1265,436.7" fill="none" stroke="#000" stroke-width="1.8" stroke-linejoin="round"/>
<path d="M1276.5,433.9 L1259.6000000000001,425.5 Q1256.9,424.7 1256.9,427.5 L1256.9,445.9 Q1256.9,448.7 1259.6000000000001,447.9 L1276.5,439.5 Z" fill="#000"/>
<polyline points="1054.8,1046.3 597.1,1046.3 715.3,938.6 95,938.6" fill="none" stroke="#000" stroke-width="1.8" stroke-linejoin="round"/>
<path d="M84,935.8000000000001 L101.2,927.4 Q103.9,926.6 103.9,929.4 L103.9,947.8000000000001 Q103.9,950.6 101.2,949.8000000000001 L84,941.4 Z" fill="#000"/>
<polyline points="1115.4,1102.1 1265.4,1102.1 1182.1,1019.3 1265,1019.3" fill="none" stroke="#000" stroke-width="1.8" stroke-linejoin="round"/>
<path d="M1276.5,1016.5 L1259.6000000000001,1008.0999999999999 Q1256.9,1007.3 1256.9,1010.0999999999999 L1256.9,1028.5 Q1256.9,1031.3 1259.6000000000001,1030.5 L1276.5,1022.0999999999999 Z" fill="#000"/>
<text x="0.58" y="84.7" font-family='"Liberation Sans", sans-serif' font-size="33" textLength="38.73" lengthAdjust="spacingAndGlyphs">(a)</text>
<text x="0.11" y="761.0" font-family='"Liberation Sans", sans-serif' font-size="33" textLength="40.18" lengthAdjust="spacingAndGlyphs">(b)</text>
<text x="619.90" y="26.4" font-family='"Liberation Serif", serif' font-size="37.6" font-style="italic">E</text>
<text x="652.13" y="26.4" font-family='"Liberation Serif", serif' font-size="37.6" textLength="88.63" lengthAdjust="spacingAndGlyphs">(keV)</text>
<text x="158.40" y="207.6" font-family='"Liberation Serif", serif' font-size="37.6" textLength="389.28" lengthAdjust="spacingAndGlyphs">Profile for deconvolution,</text>
<text x="560.60" y="207.6" font-family='"Liberation Serif", serif' font-size="37.6" font-style="italic">f</text>
<text x="577.30" y="216.3" font-family='"Liberation Serif", serif' font-size="25.8" textLength="52.07" lengthAdjust="spacingAndGlyphs">X:Ni</text>
<text x="629.85" y="207.6" font-family='"Liberation Serif", serif' font-size="37.6">(</text>
<text x="641.91" y="207.6" font-family='"Liberation Serif", serif' font-size="37.6" font-style="italic" textLength="16.98" lengthAdjust="spacingAndGlyphs">x</text>
<text x="659.15" y="207.6" font-family='"Liberation Serif", serif' font-size="37.6">)</text>
<text x="160.10" y="864.6" font-family='"Liberation Serif", serif' font-size="37.6" textLength="354.92" lengthAdjust="spacingAndGlyphs">Profile for convolution,</text>
<text x="526.30" y="864.6" font-family='"Liberation Serif", serif' font-size="37.6" font-style="italic">f</text>
<text x="542.89" y="872.6" font-family='"Liberation Serif", serif' font-size="25.8" textLength="78.58" lengthAdjust="spacingAndGlyphs">X*:Ni*</text>
<text x="622.75" y="864.6" font-family='"Liberation Serif", serif' font-size="37.6">(</text>
<text x="634.81" y="864.6" font-family='"Liberation Serif", serif' font-size="37.6" font-style="italic" textLength="17.08" lengthAdjust="spacingAndGlyphs">x</text>
<text x="652.45" y="864.6" font-family='"Liberation Serif", serif' font-size="37.6">)</text>
<text x="274.90" y="495.5" font-family='"Liberation Serif", serif' font-size="37.6">Cu-K</text>
<text x="356.95" y="495.5" font-family='"Liberation Serif", serif' font-size="37.6" font-style="italic" textLength="20.61" lengthAdjust="spacingAndGlyphs">β</text>
<text x="723.00" y="593.9" font-family='"Liberation Serif", serif' font-size="37.6" textLength="158.22" lengthAdjust="spacingAndGlyphs">Ni K-edge</text>
<text x="568.61" y="1486.2" font-family='"Liberation Serif", serif' font-size="37.6" font-style="italic" textLength="16.88" lengthAdjust="spacingAndGlyphs">x</text>
<text x="593.67" y="1486.2" font-family='"Liberation Serif", serif' font-size="37.6" textLength="85.52" lengthAdjust="spacingAndGlyphs">= ln (</text>
<text x="677.50" y="1486.2" font-family='"Liberation Serif", serif' font-size="37.6" font-style="italic">E</text>
<text x="700.07" y="1495.0" font-family='"Liberation Serif", serif' font-size="25.8" textLength="24.55" lengthAdjust="spacingAndGlyphs">α1</text>
<text x="736.10" y="1486.2" font-family='"Liberation Serif", serif' font-size="37.6" textLength="9.46" lengthAdjust="spacingAndGlyphs">/</text>
<text x="756.30" y="1486.2" font-family='"Liberation Serif", serif' font-size="37.6" font-style="italic">E</text>
<text x="780.35" y="1486.2" font-family='"Liberation Serif", serif' font-size="37.6">)</text>
<text x="153.20" y="88.5" font-family='"Liberation Serif", serif' font-size="37.5" text-anchor="middle">9.0</text>
<text x="344.90" y="88.5" font-family='"Liberation Serif", serif' font-size="37.5" text-anchor="middle">8.8</text>
<text x="541.00" y="88.5" font-family='"Liberation Serif", serif' font-size="37.5" text-anchor="middle">8.6</text>
<text x="741.71" y="88.5" font-family='"Liberation Serif", serif' font-size="37.5" text-anchor="middle">8.4</text>
<text x="947.27" y="88.5" font-family='"Liberation Serif", serif' font-size="37.5" text-anchor="middle">8.2</text>
<text x="1157.89" y="88.5" font-family='"Liberation Serif", serif' font-size="37.5" text-anchor="middle">8.0</text>
<text x="34.4" y="700.00" font-family='"Liberation Serif", serif' font-size="37.5" text-anchor="end">0</text>
<text x="34.4" y="592.52" font-family='"Liberation Serif", serif' font-size="37.5" text-anchor="end">1</text>
<text x="34.4" y="485.04" font-family='"Liberation Serif", serif' font-size="37.5" text-anchor="end">2</text>
<text x="34.4" y="377.56" font-family='"Liberation Serif", serif' font-size="37.5" text-anchor="end">3</text>
<text x="34.4" y="270.08" font-family='"Liberation Serif", serif' font-size="37.5" text-anchor="end">4</text>
<text x="34.4" y="162.60" font-family='"Liberation Serif", serif' font-size="37.5" text-anchor="end">5</text>
<text x="1328.4" y="700.00" font-family='"Liberation Serif", serif' font-size="37.5" text-anchor="start">0</text>
<text x="1328.4" y="628.35" font-family='"Liberation Serif", serif' font-size="37.5" text-anchor="start">200</text>
<text x="1328.4" y="556.69" font-family='"Liberation Serif", serif' font-size="37.5" text-anchor="start">400</text>
<text x="1328.4" y="485.04" font-family='"Liberation Serif", serif' font-size="37.5" text-anchor="start">600</text>
<text x="1328.4" y="413.39" font-family='"Liberation Serif", serif' font-size="37.5" text-anchor="start">800</text>
<text x="1328.4" y="341.73" font-family='"Liberation Serif", serif' font-size="37.5" text-anchor="start">1000</text>
<text x="1328.4" y="270.08" font-family='"Liberation Serif", serif' font-size="37.5" text-anchor="start">1200</text>
<text x="1328.4" y="198.43" font-family='"Liberation Serif", serif' font-size="37.5" text-anchor="start">1400</text>
<text x="34.4" y="1356.70" font-family='"Liberation Serif", serif' font-size="37.5" text-anchor="end">0</text>
<text x="34.4" y="1249.24" font-family='"Liberation Serif", serif' font-size="37.5" text-anchor="end">1</text>
<text x="34.4" y="1141.78" font-family='"Liberation Serif", serif' font-size="37.5" text-anchor="end">2</text>
<text x="34.4" y="1034.32" font-family='"Liberation Serif", serif' font-size="37.5" text-anchor="end">3</text>
<text x="34.4" y="926.86" font-family='"Liberation Serif", serif' font-size="37.5" text-anchor="end">4</text>
<text x="34.4" y="819.40" font-family='"Liberation Serif", serif' font-size="37.5" text-anchor="end">5</text>
<text x="1328.4" y="1356.70" font-family='"Liberation Serif", serif' font-size="37.5" text-anchor="start">0</text>
<text x="1328.4" y="1285.06" font-family='"Liberation Serif", serif' font-size="37.5" text-anchor="start">200</text>
<text x="1328.4" y="1213.42" font-family='"Liberation Serif", serif' font-size="37.5" text-anchor="start">400</text>
<text x="1328.4" y="1141.78" font-family='"Liberation Serif", serif' font-size="37.5" text-anchor="start">600</text>
<text x="1328.4" y="1070.14" font-family='"Liberation Serif", serif' font-size="37.5" text-anchor="start">800</text>
<text x="1328.4" y="998.50" font-family='"Liberation Serif", serif' font-size="37.5" text-anchor="start">1000</text>
<text x="1328.4" y="926.86" font-family='"Liberation Serif", serif' font-size="37.5" text-anchor="start">1200</text>
<text x="1328.4" y="855.22" font-family='"Liberation Serif", serif' font-size="37.5" text-anchor="start">1400</text>
<text x="83.10" y="1427.1" font-family='"Liberation Serif", serif' font-size="37.5" text-anchor="middle">-0.12</text>
<text x="253.70" y="1427.1" font-family='"Liberation Serif", serif' font-size="37.5" text-anchor="middle">-0.10</text>
<text x="424.30" y="1427.1" font-family='"Liberation Serif", serif' font-size="37.5" text-anchor="middle">-0.08</text>
<text x="594.90" y="1427.1" font-family='"Liberation Serif", serif' font-size="37.5" text-anchor="middle">-0.06</text>
<text x="765.50" y="1427.1" font-family='"Liberation Serif", serif' font-size="37.5" text-anchor="middle">-0.04</text>
<text x="936.10" y="1427.1" font-family='"Liberation Serif", serif' font-size="37.5" text-anchor="middle">-0.02</text>
<text x="1106.70" y="1427.1" font-family='"Liberation Serif", serif' font-size="37.5" text-anchor="middle">0.00</text>
<text x="1277.30" y="1427.1" font-family='"Liberation Serif", serif' font-size="37.5" text-anchor="middle">0.02</text>
</svg></body></html>
